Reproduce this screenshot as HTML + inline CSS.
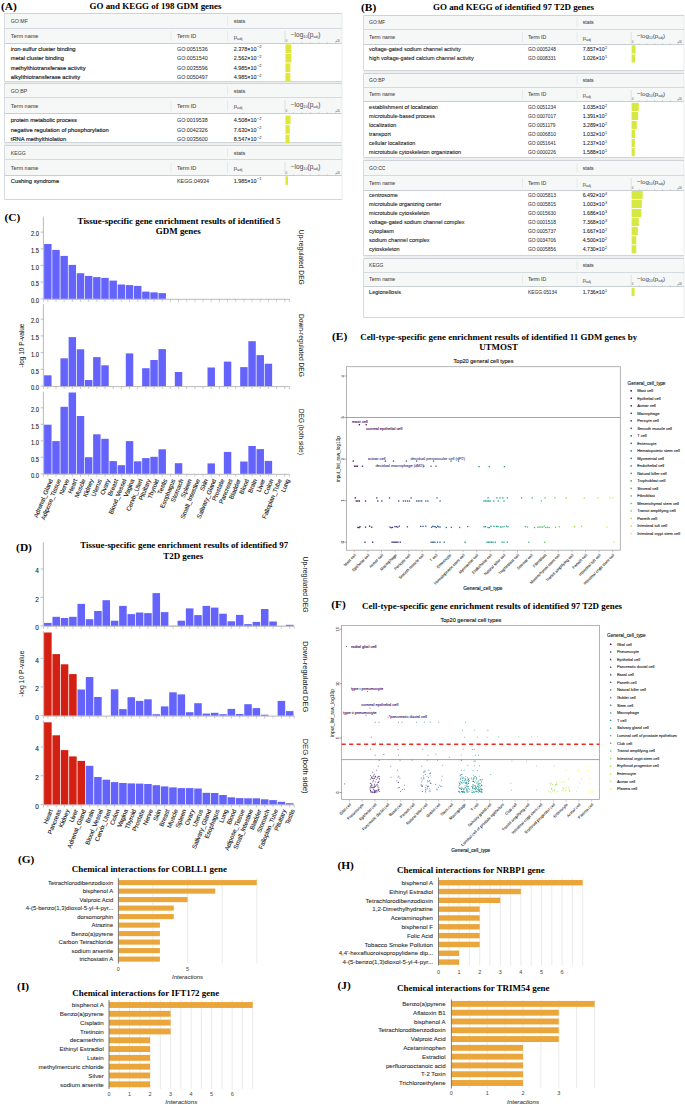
<!DOCTYPE html>
<html><head><meta charset="utf-8"><style>
html,body{margin:0;padding:0;background:#fff;width:685px;height:1106px;overflow:hidden}
svg{display:block}
</style></head><body>
<svg width="685" height="1106" viewBox="0 0 685 1106">
<rect x="0" y="0" width="685" height="1106" fill="#fff"/>
<text x="1.00" y="10.20" font-family='"Liberation Serif", serif' font-size="11.4" font-weight="bold" text-anchor="start" fill="#000"  >(A)</text>
<text x="155.50" y="9.40" font-family='"Liberation Serif", serif' font-size="8.95" font-weight="bold" text-anchor="middle" fill="#000" textLength="132" lengthAdjust="spacingAndGlyphs" >GO and KEGG of 198 GDM genes</text>
<rect x="4.50" y="81.50" width="337.50" height="2.00" fill="#eceef0" />
<rect x="4.50" y="142.30" width="337.50" height="3.00" fill="#eceef0" />
<rect x="4.50" y="13.50" width="337.50" height="68.00" fill="#ffffff" />
<rect x="4.50" y="13.50" width="337.50" height="30.00" fill="#f6f7f7" />
<line x1="4.50" y1="13.50" x2="342.00" y2="13.50" stroke="#ced3d8" stroke-width="1.0" />
<line x1="4.50" y1="28.50" x2="342.00" y2="28.50" stroke="#d5dade" stroke-width="1.0" />
<line x1="4.50" y1="43.50" x2="342.00" y2="43.50" stroke="#c9ced3" stroke-width="1.0" />
<line x1="4.50" y1="81.50" x2="342.00" y2="81.50" stroke="#d0d5da" stroke-width="1.0" />
<line x1="4.50" y1="13.50" x2="4.50" y2="81.50" stroke="#d3d8dd" stroke-width="0.9" />
<line x1="342.00" y1="13.50" x2="342.00" y2="81.50" stroke="#dfe3e6" stroke-width="0.7" />
<line x1="227.50" y1="16.00" x2="227.50" y2="26.00" stroke="#dde1e5" stroke-width="0.6" />
<line x1="171.00" y1="31.00" x2="171.00" y2="41.00" stroke="#dde1e5" stroke-width="0.6" />
<line x1="227.50" y1="31.00" x2="227.50" y2="41.00" stroke="#dde1e5" stroke-width="0.6" />
<line x1="285.00" y1="31.00" x2="285.00" y2="43.50" stroke="#cdd2d7" stroke-width="0.6" />
<text x="10.80" y="23.09" font-family='"Liberation Sans", sans-serif' font-size="5.8" font-weight="normal" text-anchor="start" fill="#474747"  textLength="17.11" lengthAdjust="spacingAndGlyphs" stroke="#474747" stroke-width="0.06" >GO:MF</text>
<text x="233.70" y="23.09" font-family='"Liberation Sans", sans-serif' font-size="5.8" font-weight="normal" text-anchor="start" fill="#474747"  textLength="11.64" lengthAdjust="spacingAndGlyphs" stroke="#474747" stroke-width="0.06" >stats</text>
<text x="10.80" y="38.09" font-family='"Liberation Sans", sans-serif' font-size="5.8" font-weight="normal" text-anchor="start" fill="#474747"  textLength="27.56" lengthAdjust="spacingAndGlyphs" stroke="#474747" stroke-width="0.06" >Term name</text>
<text x="177.00" y="38.09" font-family='"Liberation Sans", sans-serif' font-size="5.8" font-weight="normal" text-anchor="start" fill="#474747"  textLength="19.29" lengthAdjust="spacingAndGlyphs" stroke="#474747" stroke-width="0.06" >Term ID</text>
<text x="233.70" y="38.89" font-family='"Liberation Sans", sans-serif' font-size="5.8" fill="#474747">p<tspan font-size="4.06" dy="0.8">adj</tspan></text>
<text x="290.80" y="37.49" font-family='"Liberation Sans", sans-serif' font-size="6.50" fill="#474747">−log<tspan font-size="3.77" dy="1">10</tspan><tspan dy="-1">(p</tspan><tspan font-size="3.77" dy="1">adj</tspan><tspan dy="-1">)</tspan></text>
<text x="285.80" y="42.20" font-family='"Liberation Sans", sans-serif' font-size="2.6" font-weight="normal" text-anchor="start" fill="#474747"  >0</text>
<text x="335.50" y="42.20" font-family='"Liberation Sans", sans-serif' font-size="2.6" font-weight="normal" text-anchor="start" fill="#474747"  >≤16</text>
<line x1="293.46" y1="42.20" x2="293.46" y2="43.50" stroke="#9aa0a6" stroke-width="0.4" />
<line x1="301.92" y1="42.20" x2="301.92" y2="43.50" stroke="#9aa0a6" stroke-width="0.4" />
<line x1="310.38" y1="42.20" x2="310.38" y2="43.50" stroke="#9aa0a6" stroke-width="0.4" />
<line x1="318.85" y1="42.20" x2="318.85" y2="43.50" stroke="#9aa0a6" stroke-width="0.4" />
<line x1="327.31" y1="42.20" x2="327.31" y2="43.50" stroke="#9aa0a6" stroke-width="0.4" />
<line x1="335.77" y1="42.20" x2="335.77" y2="43.50" stroke="#9aa0a6" stroke-width="0.4" />
<text x="10.80" y="50.69" font-family='"Liberation Sans", sans-serif' font-size="5.8" font-weight="normal" text-anchor="start" fill="#1c1c1c"  textLength="64.80" lengthAdjust="spacingAndGlyphs" stroke="#1c1c1c" stroke-width="0.16" >iron-sulfur cluster binding</text>
<text x="177.00" y="50.69" font-family='"Liberation Sans", sans-serif' font-size="5.8" font-weight="normal" text-anchor="start" fill="#333"  textLength="30.72" lengthAdjust="spacingAndGlyphs" stroke="#333" stroke-width="0.05" >GO:0051536</text>
<text x="233.70" y="50.69" font-family='"Liberation Sans", sans-serif' font-size="5.8" fill="#1c1c1c" stroke="#1c1c1c" stroke-width="0.08" textLength="22.80" lengthAdjust="spacingAndGlyphs">2.378×10</text>
<text x="256.90" y="48.39" font-family='"Liberation Sans", sans-serif' font-size="4.06" fill="#1c1c1c">−2</text>
<rect x="285.40" y="44.28" width="6.00" height="8.65" fill="#dfe83a" />
<text x="10.80" y="60.24" font-family='"Liberation Sans", sans-serif' font-size="5.8" font-weight="normal" text-anchor="start" fill="#1c1c1c"  textLength="53.20" lengthAdjust="spacingAndGlyphs" stroke="#1c1c1c" stroke-width="0.16" >metal cluster binding</text>
<text x="177.00" y="60.24" font-family='"Liberation Sans", sans-serif' font-size="5.8" font-weight="normal" text-anchor="start" fill="#333"  textLength="30.72" lengthAdjust="spacingAndGlyphs" stroke="#333" stroke-width="0.05" >GO:0051540</text>
<text x="233.70" y="60.24" font-family='"Liberation Sans", sans-serif' font-size="5.8" fill="#1c1c1c" stroke="#1c1c1c" stroke-width="0.08" textLength="22.80" lengthAdjust="spacingAndGlyphs">2.562×10</text>
<text x="256.90" y="57.94" font-family='"Liberation Sans", sans-serif' font-size="4.06" fill="#1c1c1c">−2</text>
<rect x="285.40" y="53.83" width="6.00" height="8.65" fill="#dfe83a" />
<text x="10.80" y="69.79" font-family='"Liberation Sans", sans-serif' font-size="5.8" font-weight="normal" text-anchor="start" fill="#1c1c1c"  textLength="74.79" lengthAdjust="spacingAndGlyphs" stroke="#1c1c1c" stroke-width="0.16" >methylthiotransferase activity</text>
<text x="177.00" y="69.79" font-family='"Liberation Sans", sans-serif' font-size="5.8" font-weight="normal" text-anchor="start" fill="#333"  textLength="30.72" lengthAdjust="spacingAndGlyphs" stroke="#333" stroke-width="0.05" >GO:0035596</text>
<text x="233.70" y="69.79" font-family='"Liberation Sans", sans-serif' font-size="5.8" fill="#1c1c1c" stroke="#1c1c1c" stroke-width="0.08" textLength="22.80" lengthAdjust="spacingAndGlyphs">4.985×10</text>
<text x="256.90" y="67.49" font-family='"Liberation Sans", sans-serif' font-size="4.06" fill="#1c1c1c">−2</text>
<rect x="285.40" y="63.38" width="5.00" height="8.65" fill="#dfe83a" />
<text x="10.80" y="79.34" font-family='"Liberation Sans", sans-serif' font-size="5.8" font-weight="normal" text-anchor="start" fill="#1c1c1c"  textLength="69.31" lengthAdjust="spacingAndGlyphs" stroke="#1c1c1c" stroke-width="0.16" >alkylthiotransferase activity</text>
<text x="177.00" y="79.34" font-family='"Liberation Sans", sans-serif' font-size="5.8" font-weight="normal" text-anchor="start" fill="#333"  textLength="30.72" lengthAdjust="spacingAndGlyphs" stroke="#333" stroke-width="0.05" >GO:0050497</text>
<text x="233.70" y="79.34" font-family='"Liberation Sans", sans-serif' font-size="5.8" fill="#1c1c1c" stroke="#1c1c1c" stroke-width="0.08" textLength="22.80" lengthAdjust="spacingAndGlyphs">4.985×10</text>
<text x="256.90" y="77.04" font-family='"Liberation Sans", sans-serif' font-size="4.06" fill="#1c1c1c">−2</text>
<rect x="285.40" y="72.92" width="5.00" height="8.65" fill="#dfe83a" />
<rect x="4.50" y="83.50" width="337.50" height="59.00" fill="#ffffff" />
<rect x="4.50" y="83.50" width="337.50" height="30.00" fill="#f6f7f7" />
<line x1="4.50" y1="83.50" x2="342.00" y2="83.50" stroke="#ced3d8" stroke-width="1.0" />
<line x1="4.50" y1="97.50" x2="342.00" y2="97.50" stroke="#d5dade" stroke-width="1.0" />
<line x1="4.50" y1="113.50" x2="342.00" y2="113.50" stroke="#c9ced3" stroke-width="1.0" />
<line x1="4.50" y1="142.50" x2="342.00" y2="142.50" stroke="#d0d5da" stroke-width="1.0" />
<line x1="4.50" y1="83.50" x2="4.50" y2="142.50" stroke="#d3d8dd" stroke-width="0.9" />
<line x1="342.00" y1="83.50" x2="342.00" y2="142.50" stroke="#dfe3e6" stroke-width="0.7" />
<line x1="227.50" y1="86.00" x2="227.50" y2="95.00" stroke="#dde1e5" stroke-width="0.6" />
<line x1="171.00" y1="100.00" x2="171.00" y2="111.00" stroke="#dde1e5" stroke-width="0.6" />
<line x1="227.50" y1="100.00" x2="227.50" y2="111.00" stroke="#dde1e5" stroke-width="0.6" />
<line x1="285.00" y1="100.00" x2="285.00" y2="113.50" stroke="#cdd2d7" stroke-width="0.6" />
<text x="10.80" y="92.59" font-family='"Liberation Sans", sans-serif' font-size="5.8" font-weight="normal" text-anchor="start" fill="#474747"  textLength="16.53" lengthAdjust="spacingAndGlyphs" stroke="#474747" stroke-width="0.06" >GO:BP</text>
<text x="233.70" y="92.59" font-family='"Liberation Sans", sans-serif' font-size="5.8" font-weight="normal" text-anchor="start" fill="#474747"  textLength="11.64" lengthAdjust="spacingAndGlyphs" stroke="#474747" stroke-width="0.06" >stats</text>
<text x="10.80" y="107.59" font-family='"Liberation Sans", sans-serif' font-size="5.8" font-weight="normal" text-anchor="start" fill="#474747"  textLength="27.56" lengthAdjust="spacingAndGlyphs" stroke="#474747" stroke-width="0.06" >Term name</text>
<text x="177.00" y="107.59" font-family='"Liberation Sans", sans-serif' font-size="5.8" font-weight="normal" text-anchor="start" fill="#474747"  textLength="19.29" lengthAdjust="spacingAndGlyphs" stroke="#474747" stroke-width="0.06" >Term ID</text>
<text x="233.70" y="108.39" font-family='"Liberation Sans", sans-serif' font-size="5.8" fill="#474747">p<tspan font-size="4.06" dy="0.8">adj</tspan></text>
<text x="290.80" y="106.99" font-family='"Liberation Sans", sans-serif' font-size="6.50" fill="#474747">−log<tspan font-size="3.77" dy="1">10</tspan><tspan dy="-1">(p</tspan><tspan font-size="3.77" dy="1">adj</tspan><tspan dy="-1">)</tspan></text>
<text x="285.80" y="112.20" font-family='"Liberation Sans", sans-serif' font-size="2.6" font-weight="normal" text-anchor="start" fill="#474747"  >0</text>
<text x="335.50" y="112.20" font-family='"Liberation Sans", sans-serif' font-size="2.6" font-weight="normal" text-anchor="start" fill="#474747"  >≤16</text>
<line x1="293.46" y1="112.20" x2="293.46" y2="113.50" stroke="#9aa0a6" stroke-width="0.4" />
<line x1="301.92" y1="112.20" x2="301.92" y2="113.50" stroke="#9aa0a6" stroke-width="0.4" />
<line x1="310.38" y1="112.20" x2="310.38" y2="113.50" stroke="#9aa0a6" stroke-width="0.4" />
<line x1="318.85" y1="112.20" x2="318.85" y2="113.50" stroke="#9aa0a6" stroke-width="0.4" />
<line x1="327.31" y1="112.20" x2="327.31" y2="113.50" stroke="#9aa0a6" stroke-width="0.4" />
<line x1="335.77" y1="112.20" x2="335.77" y2="113.50" stroke="#9aa0a6" stroke-width="0.4" />
<text x="10.80" y="121.99" font-family='"Liberation Sans", sans-serif' font-size="5.8" font-weight="normal" text-anchor="start" fill="#1c1c1c"  textLength="66.09" lengthAdjust="spacingAndGlyphs" stroke="#1c1c1c" stroke-width="0.16" >protein metabolic process</text>
<text x="177.00" y="121.99" font-family='"Liberation Sans", sans-serif' font-size="5.8" font-weight="normal" text-anchor="start" fill="#333"  textLength="30.72" lengthAdjust="spacingAndGlyphs" stroke="#333" stroke-width="0.05" >GO:0019538</text>
<text x="233.70" y="121.99" font-family='"Liberation Sans", sans-serif' font-size="5.8" fill="#1c1c1c" stroke="#1c1c1c" stroke-width="0.08" textLength="22.80" lengthAdjust="spacingAndGlyphs">4.508×10</text>
<text x="256.90" y="119.69" font-family='"Liberation Sans", sans-serif' font-size="4.06" fill="#1c1c1c">−2</text>
<rect x="285.40" y="115.58" width="5.20" height="8.65" fill="#dfe83a" />
<text x="10.80" y="131.54" font-family='"Liberation Sans", sans-serif' font-size="5.8" font-weight="normal" text-anchor="start" fill="#1c1c1c"  textLength="98.03" lengthAdjust="spacingAndGlyphs" stroke="#1c1c1c" stroke-width="0.16" >negative regulation of phosphorylation</text>
<text x="177.00" y="131.54" font-family='"Liberation Sans", sans-serif' font-size="5.8" font-weight="normal" text-anchor="start" fill="#333"  textLength="30.72" lengthAdjust="spacingAndGlyphs" stroke="#333" stroke-width="0.05" >GO:0042326</text>
<text x="233.70" y="131.54" font-family='"Liberation Sans", sans-serif' font-size="5.8" fill="#1c1c1c" stroke="#1c1c1c" stroke-width="0.08" textLength="22.80" lengthAdjust="spacingAndGlyphs">7.630×10</text>
<text x="256.90" y="129.24" font-family='"Liberation Sans", sans-serif' font-size="4.06" fill="#1c1c1c">−2</text>
<rect x="285.40" y="125.13" width="4.40" height="8.65" fill="#dfe83a" />
<text x="10.80" y="141.09" font-family='"Liberation Sans", sans-serif' font-size="5.8" font-weight="normal" text-anchor="start" fill="#1c1c1c"  textLength="55.45" lengthAdjust="spacingAndGlyphs" stroke="#1c1c1c" stroke-width="0.16" >tRNA methylthiolation</text>
<text x="177.00" y="141.09" font-family='"Liberation Sans", sans-serif' font-size="5.8" font-weight="normal" text-anchor="start" fill="#333"  textLength="30.72" lengthAdjust="spacingAndGlyphs" stroke="#333" stroke-width="0.05" >GO:0035600</text>
<text x="233.70" y="141.09" font-family='"Liberation Sans", sans-serif' font-size="5.8" fill="#1c1c1c" stroke="#1c1c1c" stroke-width="0.08" textLength="22.80" lengthAdjust="spacingAndGlyphs">8.547×10</text>
<text x="256.90" y="138.79" font-family='"Liberation Sans", sans-serif' font-size="4.06" fill="#1c1c1c">−2</text>
<rect x="285.40" y="134.67" width="4.20" height="8.65" fill="#dfe83a" />
<rect x="4.50" y="145.50" width="337.50" height="54.00" fill="#ffffff" />
<rect x="4.50" y="145.50" width="337.50" height="30.00" fill="#f6f7f7" />
<line x1="4.50" y1="145.50" x2="342.00" y2="145.50" stroke="#ced3d8" stroke-width="1.0" />
<line x1="4.50" y1="159.50" x2="342.00" y2="159.50" stroke="#d5dade" stroke-width="1.0" />
<line x1="4.50" y1="175.50" x2="342.00" y2="175.50" stroke="#c9ced3" stroke-width="1.0" />
<line x1="4.50" y1="199.50" x2="342.00" y2="199.50" stroke="#d0d5da" stroke-width="1.0" />
<line x1="4.50" y1="145.50" x2="4.50" y2="199.50" stroke="#d3d8dd" stroke-width="0.9" />
<line x1="342.00" y1="145.50" x2="342.00" y2="199.50" stroke="#dfe3e6" stroke-width="0.7" />
<line x1="227.50" y1="148.00" x2="227.50" y2="157.00" stroke="#dde1e5" stroke-width="0.6" />
<line x1="171.00" y1="162.00" x2="171.00" y2="173.00" stroke="#dde1e5" stroke-width="0.6" />
<line x1="227.50" y1="162.00" x2="227.50" y2="173.00" stroke="#dde1e5" stroke-width="0.6" />
<line x1="285.00" y1="162.00" x2="285.00" y2="175.50" stroke="#cdd2d7" stroke-width="0.6" />
<text x="10.80" y="154.59" font-family='"Liberation Sans", sans-serif' font-size="5.8" font-weight="normal" text-anchor="start" fill="#474747"  textLength="15.08" lengthAdjust="spacingAndGlyphs" stroke="#474747" stroke-width="0.06" >KEGG</text>
<text x="233.70" y="154.59" font-family='"Liberation Sans", sans-serif' font-size="5.8" font-weight="normal" text-anchor="start" fill="#474747"  textLength="11.64" lengthAdjust="spacingAndGlyphs" stroke="#474747" stroke-width="0.06" >stats</text>
<text x="10.80" y="169.59" font-family='"Liberation Sans", sans-serif' font-size="5.8" font-weight="normal" text-anchor="start" fill="#474747"  textLength="27.56" lengthAdjust="spacingAndGlyphs" stroke="#474747" stroke-width="0.06" >Term name</text>
<text x="177.00" y="169.59" font-family='"Liberation Sans", sans-serif' font-size="5.8" font-weight="normal" text-anchor="start" fill="#474747"  textLength="19.29" lengthAdjust="spacingAndGlyphs" stroke="#474747" stroke-width="0.06" >Term ID</text>
<text x="233.70" y="170.39" font-family='"Liberation Sans", sans-serif' font-size="5.8" fill="#474747">p<tspan font-size="4.06" dy="0.8">adj</tspan></text>
<text x="290.80" y="168.99" font-family='"Liberation Sans", sans-serif' font-size="6.50" fill="#474747">−log<tspan font-size="3.77" dy="1">10</tspan><tspan dy="-1">(p</tspan><tspan font-size="3.77" dy="1">adj</tspan><tspan dy="-1">)</tspan></text>
<text x="285.80" y="174.20" font-family='"Liberation Sans", sans-serif' font-size="2.6" font-weight="normal" text-anchor="start" fill="#474747"  >0</text>
<text x="335.50" y="174.20" font-family='"Liberation Sans", sans-serif' font-size="2.6" font-weight="normal" text-anchor="start" fill="#474747"  >≤16</text>
<line x1="293.46" y1="174.20" x2="293.46" y2="175.50" stroke="#9aa0a6" stroke-width="0.4" />
<line x1="301.92" y1="174.20" x2="301.92" y2="175.50" stroke="#9aa0a6" stroke-width="0.4" />
<line x1="310.38" y1="174.20" x2="310.38" y2="175.50" stroke="#9aa0a6" stroke-width="0.4" />
<line x1="318.85" y1="174.20" x2="318.85" y2="175.50" stroke="#9aa0a6" stroke-width="0.4" />
<line x1="327.31" y1="174.20" x2="327.31" y2="175.50" stroke="#9aa0a6" stroke-width="0.4" />
<line x1="335.77" y1="174.20" x2="335.77" y2="175.50" stroke="#9aa0a6" stroke-width="0.4" />
<text x="10.80" y="182.69" font-family='"Liberation Sans", sans-serif' font-size="5.8" font-weight="normal" text-anchor="start" fill="#1c1c1c"  textLength="48.36" lengthAdjust="spacingAndGlyphs" stroke="#1c1c1c" stroke-width="0.16" >Cushing syndrome</text>
<text x="177.00" y="182.69" font-family='"Liberation Sans", sans-serif' font-size="5.8" font-weight="normal" text-anchor="start" fill="#333"  textLength="31.91" lengthAdjust="spacingAndGlyphs" stroke="#333" stroke-width="0.05" >KEGG:04934</text>
<text x="233.70" y="182.69" font-family='"Liberation Sans", sans-serif' font-size="5.8" fill="#1c1c1c" stroke="#1c1c1c" stroke-width="0.08" textLength="22.80" lengthAdjust="spacingAndGlyphs">1.985×10</text>
<text x="256.90" y="180.39" font-family='"Liberation Sans", sans-serif' font-size="4.06" fill="#1c1c1c">−1</text>
<rect x="285.40" y="176.27" width="2.60" height="8.65" fill="#dfe83a" />
<text x="361.00" y="10.60" font-family='"Liberation Serif", serif' font-size="11.4" font-weight="bold" text-anchor="start" fill="#000"  >(B)</text>
<text x="513.50" y="9.80" font-family='"Liberation Serif", serif' font-size="8.95" font-weight="bold" text-anchor="middle" fill="#000" textLength="161" lengthAdjust="spacingAndGlyphs" >GO and KEGG of identified 97 T2D genes</text>
<rect x="363.50" y="70.70" width="320.50" height="2.30" fill="#eceef0" />
<rect x="363.50" y="157.00" width="320.50" height="3.90" fill="#eceef0" />
<rect x="363.50" y="255.70" width="320.50" height="2.30" fill="#eceef0" />
<rect x="363.50" y="15.50" width="320.50" height="55.00" fill="#ffffff" />
<rect x="363.50" y="15.50" width="320.50" height="29.00" fill="#f6f7f7" />
<line x1="363.50" y1="15.50" x2="684.00" y2="15.50" stroke="#ced3d8" stroke-width="1.0" />
<line x1="363.50" y1="29.50" x2="684.00" y2="29.50" stroke="#d5dade" stroke-width="1.0" />
<line x1="363.50" y1="44.50" x2="684.00" y2="44.50" stroke="#c9ced3" stroke-width="1.0" />
<line x1="363.50" y1="70.50" x2="684.00" y2="70.50" stroke="#d0d5da" stroke-width="1.0" />
<line x1="363.50" y1="15.50" x2="363.50" y2="70.50" stroke="#d3d8dd" stroke-width="0.9" />
<line x1="684.00" y1="15.50" x2="684.00" y2="70.50" stroke="#dfe3e6" stroke-width="0.7" />
<line x1="577.00" y1="18.00" x2="577.00" y2="27.00" stroke="#dde1e5" stroke-width="0.6" />
<line x1="522.50" y1="32.00" x2="522.50" y2="42.00" stroke="#dde1e5" stroke-width="0.6" />
<line x1="577.00" y1="32.00" x2="577.00" y2="42.00" stroke="#dde1e5" stroke-width="0.6" />
<line x1="631.20" y1="32.00" x2="631.20" y2="44.50" stroke="#cdd2d7" stroke-width="0.6" />
<text x="369.10" y="24.48" font-family='"Liberation Sans", sans-serif' font-size="5.5" font-weight="normal" text-anchor="start" fill="#474747"  textLength="16.22" lengthAdjust="spacingAndGlyphs" stroke="#474747" stroke-width="0.06" >GO:MF</text>
<text x="582.70" y="24.48" font-family='"Liberation Sans", sans-serif' font-size="5.5" font-weight="normal" text-anchor="start" fill="#474747"  textLength="11.03" lengthAdjust="spacingAndGlyphs" stroke="#474747" stroke-width="0.06" >stats</text>
<text x="369.10" y="38.98" font-family='"Liberation Sans", sans-serif' font-size="5.5" font-weight="normal" text-anchor="start" fill="#474747"  textLength="26.13" lengthAdjust="spacingAndGlyphs" stroke="#474747" stroke-width="0.06" >Term name</text>
<text x="528.00" y="38.98" font-family='"Liberation Sans", sans-serif' font-size="5.5" font-weight="normal" text-anchor="start" fill="#474747"  textLength="18.29" lengthAdjust="spacingAndGlyphs" stroke="#474747" stroke-width="0.06" >Term ID</text>
<text x="582.70" y="39.78" font-family='"Liberation Sans", sans-serif' font-size="5.5" fill="#474747">p<tspan font-size="3.85" dy="0.8">adj</tspan></text>
<text x="637.00" y="38.38" font-family='"Liberation Sans", sans-serif' font-size="6.16" fill="#474747">−log<tspan font-size="3.58" dy="1">10</tspan><tspan dy="-1">(p</tspan><tspan font-size="3.58" dy="1">adj</tspan><tspan dy="-1">)</tspan></text>
<text x="632.00" y="43.20" font-family='"Liberation Sans", sans-serif' font-size="2.6" font-weight="normal" text-anchor="start" fill="#474747"  >0</text>
<text x="677.50" y="43.20" font-family='"Liberation Sans", sans-serif' font-size="2.6" font-weight="normal" text-anchor="start" fill="#474747"  >≤16</text>
<line x1="639.02" y1="43.20" x2="639.02" y2="44.50" stroke="#9aa0a6" stroke-width="0.4" />
<line x1="646.83" y1="43.20" x2="646.83" y2="44.50" stroke="#9aa0a6" stroke-width="0.4" />
<line x1="654.65" y1="43.20" x2="654.65" y2="44.50" stroke="#9aa0a6" stroke-width="0.4" />
<line x1="662.46" y1="43.20" x2="662.46" y2="44.50" stroke="#9aa0a6" stroke-width="0.4" />
<line x1="670.28" y1="43.20" x2="670.28" y2="44.50" stroke="#9aa0a6" stroke-width="0.4" />
<line x1="678.09" y1="43.20" x2="678.09" y2="44.50" stroke="#9aa0a6" stroke-width="0.4" />
<text x="369.10" y="51.38" font-family='"Liberation Sans", sans-serif' font-size="5.5" font-weight="normal" text-anchor="start" fill="#1c1c1c"  textLength="91.72" lengthAdjust="spacingAndGlyphs" stroke="#1c1c1c" stroke-width="0.1" >voltage-gated sodium channel activity</text>
<text x="528.00" y="51.38" font-family='"Liberation Sans", sans-serif' font-size="5.5" font-weight="normal" text-anchor="start" fill="#333"  textLength="27.91" lengthAdjust="spacingAndGlyphs" stroke="#333" stroke-width="0.05" >GO:0005248</text>
<text x="582.70" y="51.38" font-family='"Liberation Sans", sans-serif' font-size="5.5" fill="#1c1c1c" stroke="#1c1c1c" stroke-width="0.08" textLength="21.90" lengthAdjust="spacingAndGlyphs">7.857×10</text>
<text x="605.00" y="49.08" font-family='"Liberation Sans", sans-serif' font-size="3.85" fill="#1c1c1c">2</text>
<rect x="631.60" y="45.33" width="4.00" height="8.15" fill="#d6e844" />
<text x="369.10" y="60.43" font-family='"Liberation Sans", sans-serif' font-size="5.5" font-weight="normal" text-anchor="start" fill="#1c1c1c"  textLength="104.56" lengthAdjust="spacingAndGlyphs" stroke="#1c1c1c" stroke-width="0.1" >high voltage-gated calcium channel activity</text>
<text x="528.00" y="60.43" font-family='"Liberation Sans", sans-serif' font-size="5.5" font-weight="normal" text-anchor="start" fill="#333"  textLength="27.91" lengthAdjust="spacingAndGlyphs" stroke="#333" stroke-width="0.05" >GO:0008331</text>
<text x="582.70" y="60.43" font-family='"Liberation Sans", sans-serif' font-size="5.5" fill="#1c1c1c" stroke="#1c1c1c" stroke-width="0.08" textLength="21.90" lengthAdjust="spacingAndGlyphs">1.026×10</text>
<text x="605.00" y="58.13" font-family='"Liberation Sans", sans-serif' font-size="3.85" fill="#1c1c1c">1</text>
<rect x="631.60" y="54.38" width="3.60" height="8.15" fill="#d6e844" />
<rect x="363.50" y="73.50" width="320.50" height="84.00" fill="#ffffff" />
<rect x="363.50" y="73.50" width="320.50" height="28.00" fill="#f6f7f7" />
<line x1="363.50" y1="73.50" x2="684.00" y2="73.50" stroke="#ced3d8" stroke-width="1.0" />
<line x1="363.50" y1="87.50" x2="684.00" y2="87.50" stroke="#d5dade" stroke-width="1.0" />
<line x1="363.50" y1="101.50" x2="684.00" y2="101.50" stroke="#c9ced3" stroke-width="1.0" />
<line x1="363.50" y1="157.50" x2="684.00" y2="157.50" stroke="#d0d5da" stroke-width="1.0" />
<line x1="363.50" y1="73.50" x2="363.50" y2="157.50" stroke="#d3d8dd" stroke-width="0.9" />
<line x1="684.00" y1="73.50" x2="684.00" y2="157.50" stroke="#dfe3e6" stroke-width="0.7" />
<line x1="577.00" y1="76.00" x2="577.00" y2="85.00" stroke="#dde1e5" stroke-width="0.6" />
<line x1="522.50" y1="90.00" x2="522.50" y2="99.00" stroke="#dde1e5" stroke-width="0.6" />
<line x1="577.00" y1="90.00" x2="577.00" y2="99.00" stroke="#dde1e5" stroke-width="0.6" />
<line x1="631.20" y1="90.00" x2="631.20" y2="101.50" stroke="#cdd2d7" stroke-width="0.6" />
<text x="369.10" y="82.48" font-family='"Liberation Sans", sans-serif' font-size="5.5" font-weight="normal" text-anchor="start" fill="#474747"  textLength="15.68" lengthAdjust="spacingAndGlyphs" stroke="#474747" stroke-width="0.06" >GO:BP</text>
<text x="582.70" y="82.48" font-family='"Liberation Sans", sans-serif' font-size="5.5" font-weight="normal" text-anchor="start" fill="#474747"  textLength="11.03" lengthAdjust="spacingAndGlyphs" stroke="#474747" stroke-width="0.06" >stats</text>
<text x="369.10" y="96.48" font-family='"Liberation Sans", sans-serif' font-size="5.5" font-weight="normal" text-anchor="start" fill="#474747"  textLength="26.13" lengthAdjust="spacingAndGlyphs" stroke="#474747" stroke-width="0.06" >Term name</text>
<text x="528.00" y="96.48" font-family='"Liberation Sans", sans-serif' font-size="5.5" font-weight="normal" text-anchor="start" fill="#474747"  textLength="18.29" lengthAdjust="spacingAndGlyphs" stroke="#474747" stroke-width="0.06" >Term ID</text>
<text x="582.70" y="97.28" font-family='"Liberation Sans", sans-serif' font-size="5.5" fill="#474747">p<tspan font-size="3.85" dy="0.8">adj</tspan></text>
<text x="637.00" y="95.88" font-family='"Liberation Sans", sans-serif' font-size="6.16" fill="#474747">−log<tspan font-size="3.58" dy="1">10</tspan><tspan dy="-1">(p</tspan><tspan font-size="3.58" dy="1">adj</tspan><tspan dy="-1">)</tspan></text>
<text x="632.00" y="100.20" font-family='"Liberation Sans", sans-serif' font-size="2.6" font-weight="normal" text-anchor="start" fill="#474747"  >0</text>
<text x="677.50" y="100.20" font-family='"Liberation Sans", sans-serif' font-size="2.6" font-weight="normal" text-anchor="start" fill="#474747"  >≤16</text>
<line x1="639.02" y1="100.20" x2="639.02" y2="101.50" stroke="#9aa0a6" stroke-width="0.4" />
<line x1="646.83" y1="100.20" x2="646.83" y2="101.50" stroke="#9aa0a6" stroke-width="0.4" />
<line x1="654.65" y1="100.20" x2="654.65" y2="101.50" stroke="#9aa0a6" stroke-width="0.4" />
<line x1="662.46" y1="100.20" x2="662.46" y2="101.50" stroke="#9aa0a6" stroke-width="0.4" />
<line x1="670.28" y1="100.20" x2="670.28" y2="101.50" stroke="#9aa0a6" stroke-width="0.4" />
<line x1="678.09" y1="100.20" x2="678.09" y2="101.50" stroke="#9aa0a6" stroke-width="0.4" />
<text x="369.10" y="108.88" font-family='"Liberation Sans", sans-serif' font-size="5.5" font-weight="normal" text-anchor="start" fill="#1c1c1c"  textLength="68.79" lengthAdjust="spacingAndGlyphs" stroke="#1c1c1c" stroke-width="0.1" >establishment of localization</text>
<text x="528.00" y="108.88" font-family='"Liberation Sans", sans-serif' font-size="5.5" font-weight="normal" text-anchor="start" fill="#333"  textLength="27.91" lengthAdjust="spacingAndGlyphs" stroke="#333" stroke-width="0.05" >GO:0051234</text>
<text x="582.70" y="108.88" font-family='"Liberation Sans", sans-serif' font-size="5.5" fill="#1c1c1c" stroke="#1c1c1c" stroke-width="0.08" textLength="21.90" lengthAdjust="spacingAndGlyphs">1.035×10</text>
<text x="605.00" y="106.58" font-family='"Liberation Sans", sans-serif' font-size="3.85" fill="#1c1c1c">2</text>
<rect x="631.60" y="102.83" width="7.20" height="8.15" fill="#d6e844" />
<text x="369.10" y="117.93" font-family='"Liberation Sans", sans-serif' font-size="5.5" font-weight="normal" text-anchor="start" fill="#1c1c1c"  textLength="66.03" lengthAdjust="spacingAndGlyphs" stroke="#1c1c1c" stroke-width="0.1" >microtubule-based process</text>
<text x="528.00" y="117.93" font-family='"Liberation Sans", sans-serif' font-size="5.5" font-weight="normal" text-anchor="start" fill="#333"  textLength="27.91" lengthAdjust="spacingAndGlyphs" stroke="#333" stroke-width="0.05" >GO:0007017</text>
<text x="582.70" y="117.93" font-family='"Liberation Sans", sans-serif' font-size="5.5" fill="#1c1c1c" stroke="#1c1c1c" stroke-width="0.08" textLength="21.90" lengthAdjust="spacingAndGlyphs">1.391×10</text>
<text x="605.00" y="115.63" font-family='"Liberation Sans", sans-serif' font-size="3.85" fill="#1c1c1c">2</text>
<rect x="631.60" y="111.88" width="6.50" height="8.15" fill="#d6e844" />
<text x="369.10" y="126.98" font-family='"Liberation Sans", sans-serif' font-size="5.5" font-weight="normal" text-anchor="start" fill="#1c1c1c"  textLength="27.21" lengthAdjust="spacingAndGlyphs" stroke="#1c1c1c" stroke-width="0.1" >localization</text>
<text x="528.00" y="126.98" font-family='"Liberation Sans", sans-serif' font-size="5.5" font-weight="normal" text-anchor="start" fill="#333"  textLength="27.54" lengthAdjust="spacingAndGlyphs" stroke="#333" stroke-width="0.05" >GO:0051179</text>
<text x="582.70" y="126.98" font-family='"Liberation Sans", sans-serif' font-size="5.5" fill="#1c1c1c" stroke="#1c1c1c" stroke-width="0.08" textLength="21.90" lengthAdjust="spacingAndGlyphs">3.289×10</text>
<text x="605.00" y="124.68" font-family='"Liberation Sans", sans-serif' font-size="3.85" fill="#1c1c1c">2</text>
<rect x="631.60" y="120.92" width="5.20" height="8.15" fill="#d6e844" />
<text x="369.10" y="136.03" font-family='"Liberation Sans", sans-serif' font-size="5.5" font-weight="normal" text-anchor="start" fill="#1c1c1c"  textLength="21.71" lengthAdjust="spacingAndGlyphs" stroke="#1c1c1c" stroke-width="0.1" >transport</text>
<text x="528.00" y="136.03" font-family='"Liberation Sans", sans-serif' font-size="5.5" font-weight="normal" text-anchor="start" fill="#333"  textLength="27.91" lengthAdjust="spacingAndGlyphs" stroke="#333" stroke-width="0.05" >GO:0006810</text>
<text x="582.70" y="136.03" font-family='"Liberation Sans", sans-serif' font-size="5.5" fill="#1c1c1c" stroke="#1c1c1c" stroke-width="0.08" textLength="21.90" lengthAdjust="spacingAndGlyphs">1.032×10</text>
<text x="605.00" y="133.73" font-family='"Liberation Sans", sans-serif' font-size="3.85" fill="#1c1c1c">1</text>
<rect x="631.60" y="129.97" width="3.40" height="8.15" fill="#d6e844" />
<text x="369.10" y="145.08" font-family='"Liberation Sans", sans-serif' font-size="5.5" font-weight="normal" text-anchor="start" fill="#1c1c1c"  textLength="46.16" lengthAdjust="spacingAndGlyphs" stroke="#1c1c1c" stroke-width="0.1" >cellular localization</text>
<text x="528.00" y="145.08" font-family='"Liberation Sans", sans-serif' font-size="5.5" font-weight="normal" text-anchor="start" fill="#333"  textLength="27.91" lengthAdjust="spacingAndGlyphs" stroke="#333" stroke-width="0.05" >GO:0051641</text>
<text x="582.70" y="145.08" font-family='"Liberation Sans", sans-serif' font-size="5.5" fill="#1c1c1c" stroke="#1c1c1c" stroke-width="0.08" textLength="21.90" lengthAdjust="spacingAndGlyphs">1.237×10</text>
<text x="605.00" y="142.78" font-family='"Liberation Sans", sans-serif' font-size="3.85" fill="#1c1c1c">1</text>
<rect x="631.60" y="139.03" width="3.30" height="8.15" fill="#d6e844" />
<text x="369.10" y="154.13" font-family='"Liberation Sans", sans-serif' font-size="5.5" font-weight="normal" text-anchor="start" fill="#1c1c1c"  textLength="92.03" lengthAdjust="spacingAndGlyphs" stroke="#1c1c1c" stroke-width="0.1" >microtubule cytoskeleton organization</text>
<text x="528.00" y="154.13" font-family='"Liberation Sans", sans-serif' font-size="5.5" font-weight="normal" text-anchor="start" fill="#333"  textLength="27.91" lengthAdjust="spacingAndGlyphs" stroke="#333" stroke-width="0.05" >GO:0000226</text>
<text x="582.70" y="154.13" font-family='"Liberation Sans", sans-serif' font-size="5.5" fill="#1c1c1c" stroke="#1c1c1c" stroke-width="0.08" textLength="21.90" lengthAdjust="spacingAndGlyphs">1.588×10</text>
<text x="605.00" y="151.83" font-family='"Liberation Sans", sans-serif' font-size="3.85" fill="#1c1c1c">1</text>
<rect x="631.60" y="148.07" width="3.20" height="8.15" fill="#d6e844" />
<rect x="363.50" y="160.50" width="320.50" height="95.00" fill="#ffffff" />
<rect x="363.50" y="160.50" width="320.50" height="30.00" fill="#f6f7f7" />
<line x1="363.50" y1="160.50" x2="684.00" y2="160.50" stroke="#ced3d8" stroke-width="1.0" />
<line x1="363.50" y1="175.50" x2="684.00" y2="175.50" stroke="#d5dade" stroke-width="1.0" />
<line x1="363.50" y1="190.50" x2="684.00" y2="190.50" stroke="#c9ced3" stroke-width="1.0" />
<line x1="363.50" y1="255.50" x2="684.00" y2="255.50" stroke="#d0d5da" stroke-width="1.0" />
<line x1="363.50" y1="160.50" x2="363.50" y2="255.50" stroke="#d3d8dd" stroke-width="0.9" />
<line x1="684.00" y1="160.50" x2="684.00" y2="255.50" stroke="#dfe3e6" stroke-width="0.7" />
<line x1="577.00" y1="163.00" x2="577.00" y2="173.00" stroke="#dde1e5" stroke-width="0.6" />
<line x1="522.50" y1="178.00" x2="522.50" y2="188.00" stroke="#dde1e5" stroke-width="0.6" />
<line x1="577.00" y1="178.00" x2="577.00" y2="188.00" stroke="#dde1e5" stroke-width="0.6" />
<line x1="631.20" y1="178.00" x2="631.20" y2="190.50" stroke="#cdd2d7" stroke-width="0.6" />
<text x="369.10" y="169.98" font-family='"Liberation Sans", sans-serif' font-size="5.5" font-weight="normal" text-anchor="start" fill="#474747"  textLength="16.23" lengthAdjust="spacingAndGlyphs" stroke="#474747" stroke-width="0.06" >GO:CC</text>
<text x="582.70" y="169.98" font-family='"Liberation Sans", sans-serif' font-size="5.5" font-weight="normal" text-anchor="start" fill="#474747"  textLength="11.03" lengthAdjust="spacingAndGlyphs" stroke="#474747" stroke-width="0.06" >stats</text>
<text x="369.10" y="184.98" font-family='"Liberation Sans", sans-serif' font-size="5.5" font-weight="normal" text-anchor="start" fill="#474747"  textLength="26.13" lengthAdjust="spacingAndGlyphs" stroke="#474747" stroke-width="0.06" >Term name</text>
<text x="528.00" y="184.98" font-family='"Liberation Sans", sans-serif' font-size="5.5" font-weight="normal" text-anchor="start" fill="#474747"  textLength="18.29" lengthAdjust="spacingAndGlyphs" stroke="#474747" stroke-width="0.06" >Term ID</text>
<text x="582.70" y="185.78" font-family='"Liberation Sans", sans-serif' font-size="5.5" fill="#474747">p<tspan font-size="3.85" dy="0.8">adj</tspan></text>
<text x="637.00" y="184.38" font-family='"Liberation Sans", sans-serif' font-size="6.16" fill="#474747">−log<tspan font-size="3.58" dy="1">10</tspan><tspan dy="-1">(p</tspan><tspan font-size="3.58" dy="1">adj</tspan><tspan dy="-1">)</tspan></text>
<text x="632.00" y="189.20" font-family='"Liberation Sans", sans-serif' font-size="2.6" font-weight="normal" text-anchor="start" fill="#474747"  >0</text>
<text x="677.50" y="189.20" font-family='"Liberation Sans", sans-serif' font-size="2.6" font-weight="normal" text-anchor="start" fill="#474747"  >≤16</text>
<line x1="639.02" y1="189.20" x2="639.02" y2="190.50" stroke="#9aa0a6" stroke-width="0.4" />
<line x1="646.83" y1="189.20" x2="646.83" y2="190.50" stroke="#9aa0a6" stroke-width="0.4" />
<line x1="654.65" y1="189.20" x2="654.65" y2="190.50" stroke="#9aa0a6" stroke-width="0.4" />
<line x1="662.46" y1="189.20" x2="662.46" y2="190.50" stroke="#9aa0a6" stroke-width="0.4" />
<line x1="670.28" y1="189.20" x2="670.28" y2="190.50" stroke="#9aa0a6" stroke-width="0.4" />
<line x1="678.09" y1="189.20" x2="678.09" y2="190.50" stroke="#9aa0a6" stroke-width="0.4" />
<text x="369.10" y="196.98" font-family='"Liberation Sans", sans-serif' font-size="5.5" font-weight="normal" text-anchor="start" fill="#1c1c1c"  textLength="28.74" lengthAdjust="spacingAndGlyphs" stroke="#1c1c1c" stroke-width="0.1" >centrosome</text>
<text x="528.00" y="196.98" font-family='"Liberation Sans", sans-serif' font-size="5.5" font-weight="normal" text-anchor="start" fill="#333"  textLength="27.91" lengthAdjust="spacingAndGlyphs" stroke="#333" stroke-width="0.05" >GO:0005813</text>
<text x="582.70" y="196.98" font-family='"Liberation Sans", sans-serif' font-size="5.5" fill="#1c1c1c" stroke="#1c1c1c" stroke-width="0.08" textLength="21.90" lengthAdjust="spacingAndGlyphs">6.492×10</text>
<text x="605.00" y="194.68" font-family='"Liberation Sans", sans-serif' font-size="3.85" fill="#1c1c1c">4</text>
<rect x="631.60" y="190.92" width="11.10" height="8.15" fill="#d6e844" />
<text x="369.10" y="206.03" font-family='"Liberation Sans", sans-serif' font-size="5.5" font-weight="normal" text-anchor="start" fill="#1c1c1c"  textLength="72.15" lengthAdjust="spacingAndGlyphs" stroke="#1c1c1c" stroke-width="0.1" >microtubule organizing center</text>
<text x="528.00" y="206.03" font-family='"Liberation Sans", sans-serif' font-size="5.5" font-weight="normal" text-anchor="start" fill="#333"  textLength="27.91" lengthAdjust="spacingAndGlyphs" stroke="#333" stroke-width="0.05" >GO:0005815</text>
<text x="582.70" y="206.03" font-family='"Liberation Sans", sans-serif' font-size="5.5" fill="#1c1c1c" stroke="#1c1c1c" stroke-width="0.08" textLength="21.90" lengthAdjust="spacingAndGlyphs">1.003×10</text>
<text x="605.00" y="203.73" font-family='"Liberation Sans", sans-serif' font-size="3.85" fill="#1c1c1c">3</text>
<rect x="631.60" y="199.97" width="10.20" height="8.15" fill="#d6e844" />
<text x="369.10" y="215.08" font-family='"Liberation Sans", sans-serif' font-size="5.5" font-weight="normal" text-anchor="start" fill="#1c1c1c"  textLength="60.53" lengthAdjust="spacingAndGlyphs" stroke="#1c1c1c" stroke-width="0.1" >microtubule cytoskeleton</text>
<text x="528.00" y="215.08" font-family='"Liberation Sans", sans-serif' font-size="5.5" font-weight="normal" text-anchor="start" fill="#333"  textLength="27.91" lengthAdjust="spacingAndGlyphs" stroke="#333" stroke-width="0.05" >GO:0015630</text>
<text x="582.70" y="215.08" font-family='"Liberation Sans", sans-serif' font-size="5.5" fill="#1c1c1c" stroke="#1c1c1c" stroke-width="0.08" textLength="21.90" lengthAdjust="spacingAndGlyphs">1.686×10</text>
<text x="605.00" y="212.78" font-family='"Liberation Sans", sans-serif' font-size="3.85" fill="#1c1c1c">3</text>
<rect x="631.60" y="209.02" width="9.70" height="8.15" fill="#d6e844" />
<text x="369.10" y="224.13" font-family='"Liberation Sans", sans-serif' font-size="5.5" font-weight="normal" text-anchor="start" fill="#1c1c1c"  textLength="95.39" lengthAdjust="spacingAndGlyphs" stroke="#1c1c1c" stroke-width="0.1" >voltage-gated sodium channel complex</text>
<text x="528.00" y="224.13" font-family='"Liberation Sans", sans-serif' font-size="5.5" font-weight="normal" text-anchor="start" fill="#333"  textLength="27.91" lengthAdjust="spacingAndGlyphs" stroke="#333" stroke-width="0.05" >GO:0001518</text>
<text x="582.70" y="224.13" font-family='"Liberation Sans", sans-serif' font-size="5.5" fill="#1c1c1c" stroke="#1c1c1c" stroke-width="0.08" textLength="21.90" lengthAdjust="spacingAndGlyphs">7.368×10</text>
<text x="605.00" y="221.83" font-family='"Liberation Sans", sans-serif' font-size="3.85" fill="#1c1c1c">3</text>
<rect x="631.60" y="218.07" width="7.20" height="8.15" fill="#d6e844" />
<text x="369.10" y="233.18" font-family='"Liberation Sans", sans-serif' font-size="5.5" font-weight="normal" text-anchor="start" fill="#1c1c1c"  textLength="24.76" lengthAdjust="spacingAndGlyphs" stroke="#1c1c1c" stroke-width="0.1" >cytoplasm</text>
<text x="528.00" y="233.18" font-family='"Liberation Sans", sans-serif' font-size="5.5" font-weight="normal" text-anchor="start" fill="#333"  textLength="27.91" lengthAdjust="spacingAndGlyphs" stroke="#333" stroke-width="0.05" >GO:0005737</text>
<text x="582.70" y="233.18" font-family='"Liberation Sans", sans-serif' font-size="5.5" fill="#1c1c1c" stroke="#1c1c1c" stroke-width="0.08" textLength="21.90" lengthAdjust="spacingAndGlyphs">1.667×10</text>
<text x="605.00" y="230.88" font-family='"Liberation Sans", sans-serif' font-size="3.85" fill="#1c1c1c">2</text>
<rect x="631.60" y="227.12" width="6.20" height="8.15" fill="#d6e844" />
<text x="369.10" y="242.23" font-family='"Liberation Sans", sans-serif' font-size="5.5" font-weight="normal" text-anchor="start" fill="#1c1c1c"  textLength="60.53" lengthAdjust="spacingAndGlyphs" stroke="#1c1c1c" stroke-width="0.1" >sodium channel complex</text>
<text x="528.00" y="242.23" font-family='"Liberation Sans", sans-serif' font-size="5.5" font-weight="normal" text-anchor="start" fill="#333"  textLength="27.91" lengthAdjust="spacingAndGlyphs" stroke="#333" stroke-width="0.05" >GO:0034706</text>
<text x="582.70" y="242.23" font-family='"Liberation Sans", sans-serif' font-size="5.5" fill="#1c1c1c" stroke="#1c1c1c" stroke-width="0.08" textLength="21.90" lengthAdjust="spacingAndGlyphs">4.500×10</text>
<text x="605.00" y="239.93" font-family='"Liberation Sans", sans-serif' font-size="3.85" fill="#1c1c1c">2</text>
<rect x="631.60" y="236.17" width="4.70" height="8.15" fill="#d6e844" />
<text x="369.10" y="251.28" font-family='"Liberation Sans", sans-serif' font-size="5.5" font-weight="normal" text-anchor="start" fill="#1c1c1c"  textLength="30.57" lengthAdjust="spacingAndGlyphs" stroke="#1c1c1c" stroke-width="0.1" >cytoskeleton</text>
<text x="528.00" y="251.28" font-family='"Liberation Sans", sans-serif' font-size="5.5" font-weight="normal" text-anchor="start" fill="#333"  textLength="27.91" lengthAdjust="spacingAndGlyphs" stroke="#333" stroke-width="0.05" >GO:0005856</text>
<text x="582.70" y="251.28" font-family='"Liberation Sans", sans-serif' font-size="5.5" fill="#1c1c1c" stroke="#1c1c1c" stroke-width="0.08" textLength="21.90" lengthAdjust="spacingAndGlyphs">4.730×10</text>
<text x="605.00" y="248.98" font-family='"Liberation Sans", sans-serif' font-size="3.85" fill="#1c1c1c">2</text>
<rect x="631.60" y="245.22" width="4.70" height="8.15" fill="#d6e844" />
<rect x="363.50" y="258.50" width="320.50" height="59.00" fill="#ffffff" />
<rect x="363.50" y="258.50" width="320.50" height="28.00" fill="#f6f7f7" />
<line x1="363.50" y1="258.50" x2="684.00" y2="258.50" stroke="#ced3d8" stroke-width="1.0" />
<line x1="363.50" y1="272.50" x2="684.00" y2="272.50" stroke="#d5dade" stroke-width="1.0" />
<line x1="363.50" y1="286.50" x2="684.00" y2="286.50" stroke="#c9ced3" stroke-width="1.0" />
<line x1="363.50" y1="317.50" x2="684.00" y2="317.50" stroke="#d0d5da" stroke-width="1.0" />
<line x1="363.50" y1="258.50" x2="363.50" y2="317.50" stroke="#d3d8dd" stroke-width="0.9" />
<line x1="684.00" y1="258.50" x2="684.00" y2="317.50" stroke="#dfe3e6" stroke-width="0.7" />
<line x1="577.00" y1="261.00" x2="577.00" y2="270.00" stroke="#dde1e5" stroke-width="0.6" />
<line x1="522.50" y1="275.00" x2="522.50" y2="284.00" stroke="#dde1e5" stroke-width="0.6" />
<line x1="577.00" y1="275.00" x2="577.00" y2="284.00" stroke="#dde1e5" stroke-width="0.6" />
<line x1="631.20" y1="275.00" x2="631.20" y2="286.50" stroke="#cdd2d7" stroke-width="0.6" />
<text x="369.10" y="267.48" font-family='"Liberation Sans", sans-serif' font-size="5.5" font-weight="normal" text-anchor="start" fill="#474747"  textLength="14.30" lengthAdjust="spacingAndGlyphs" stroke="#474747" stroke-width="0.06" >KEGG</text>
<text x="582.70" y="267.48" font-family='"Liberation Sans", sans-serif' font-size="5.5" font-weight="normal" text-anchor="start" fill="#474747"  textLength="11.03" lengthAdjust="spacingAndGlyphs" stroke="#474747" stroke-width="0.06" >stats</text>
<text x="369.10" y="281.48" font-family='"Liberation Sans", sans-serif' font-size="5.5" font-weight="normal" text-anchor="start" fill="#474747"  textLength="26.13" lengthAdjust="spacingAndGlyphs" stroke="#474747" stroke-width="0.06" >Term name</text>
<text x="528.00" y="281.48" font-family='"Liberation Sans", sans-serif' font-size="5.5" font-weight="normal" text-anchor="start" fill="#474747"  textLength="18.29" lengthAdjust="spacingAndGlyphs" stroke="#474747" stroke-width="0.06" >Term ID</text>
<text x="582.70" y="282.28" font-family='"Liberation Sans", sans-serif' font-size="5.5" fill="#474747">p<tspan font-size="3.85" dy="0.8">adj</tspan></text>
<text x="637.00" y="280.88" font-family='"Liberation Sans", sans-serif' font-size="6.16" fill="#474747">−log<tspan font-size="3.58" dy="1">10</tspan><tspan dy="-1">(p</tspan><tspan font-size="3.58" dy="1">adj</tspan><tspan dy="-1">)</tspan></text>
<text x="632.00" y="285.20" font-family='"Liberation Sans", sans-serif' font-size="2.6" font-weight="normal" text-anchor="start" fill="#474747"  >0</text>
<text x="677.50" y="285.20" font-family='"Liberation Sans", sans-serif' font-size="2.6" font-weight="normal" text-anchor="start" fill="#474747"  >≤16</text>
<line x1="639.02" y1="285.20" x2="639.02" y2="286.50" stroke="#9aa0a6" stroke-width="0.4" />
<line x1="646.83" y1="285.20" x2="646.83" y2="286.50" stroke="#9aa0a6" stroke-width="0.4" />
<line x1="654.65" y1="285.20" x2="654.65" y2="286.50" stroke="#9aa0a6" stroke-width="0.4" />
<line x1="662.46" y1="285.20" x2="662.46" y2="286.50" stroke="#9aa0a6" stroke-width="0.4" />
<line x1="670.28" y1="285.20" x2="670.28" y2="286.50" stroke="#9aa0a6" stroke-width="0.4" />
<line x1="678.09" y1="285.20" x2="678.09" y2="286.50" stroke="#9aa0a6" stroke-width="0.4" />
<text x="369.10" y="293.88" font-family='"Liberation Sans", sans-serif' font-size="5.5" font-weight="normal" text-anchor="start" fill="#1c1c1c"  textLength="31.80" lengthAdjust="spacingAndGlyphs" stroke="#1c1c1c" stroke-width="0.1" >Legionellosis</text>
<text x="528.00" y="293.88" font-family='"Liberation Sans", sans-serif' font-size="5.5" font-weight="normal" text-anchor="start" fill="#333"  textLength="28.99" lengthAdjust="spacingAndGlyphs" stroke="#333" stroke-width="0.05" >KEGG:05134</text>
<text x="582.70" y="293.88" font-family='"Liberation Sans", sans-serif' font-size="5.5" fill="#1c1c1c" stroke="#1c1c1c" stroke-width="0.08" textLength="21.90" lengthAdjust="spacingAndGlyphs">1.736×10</text>
<text x="605.00" y="291.58" font-family='"Liberation Sans", sans-serif' font-size="3.85" fill="#1c1c1c">1</text>
<rect x="631.60" y="287.82" width="3.00" height="8.15" fill="#d6e844" />
<text x="4.40" y="220.80" font-family='"Liberation Serif", serif' font-size="11.4" font-weight="bold" text-anchor="start" fill="#000"  >(C)</text>
<text x="179.10" y="223.60" font-family='"Liberation Serif", serif' font-size="8.95" font-weight="bold" text-anchor="middle" fill="#000" textLength="203" lengthAdjust="spacingAndGlyphs" >Tissue-specific gene enrichment results of identified 5</text>
<text x="178.30" y="233.50" font-family='"Liberation Serif", serif' font-size="8.95" font-weight="bold" text-anchor="middle" fill="#000"  >GDM genes</text>
<line x1="43.40" y1="216.60" x2="43.40" y2="298.80" stroke="#a8a8a8" stroke-width="0.8" />
<line x1="40.60" y1="298.80" x2="43.40" y2="298.80" stroke="#a8a8a8" stroke-width="0.7" />
<text x="38.90" y="303.10" font-family='"Liberation Sans", sans-serif' font-size="6.6" font-weight="normal" text-anchor="end" fill="#111" textLength="8.0" lengthAdjust="spacingAndGlyphs" stroke="#111" stroke-width="0.08" >0.0</text>
<line x1="40.60" y1="282.12" x2="43.40" y2="282.12" stroke="#a8a8a8" stroke-width="0.7" />
<text x="38.90" y="286.43" font-family='"Liberation Sans", sans-serif' font-size="6.6" font-weight="normal" text-anchor="end" fill="#111" textLength="8.0" lengthAdjust="spacingAndGlyphs" stroke="#111" stroke-width="0.08" >0.5</text>
<line x1="40.60" y1="265.45" x2="43.40" y2="265.45" stroke="#a8a8a8" stroke-width="0.7" />
<text x="38.90" y="269.75" font-family='"Liberation Sans", sans-serif' font-size="6.6" font-weight="normal" text-anchor="end" fill="#111" textLength="8.0" lengthAdjust="spacingAndGlyphs" stroke="#111" stroke-width="0.08" >1.0</text>
<line x1="40.60" y1="248.78" x2="43.40" y2="248.78" stroke="#a8a8a8" stroke-width="0.7" />
<text x="38.90" y="253.08" font-family='"Liberation Sans", sans-serif' font-size="6.6" font-weight="normal" text-anchor="end" fill="#111" textLength="8.0" lengthAdjust="spacingAndGlyphs" stroke="#111" stroke-width="0.08" >1.5</text>
<line x1="40.60" y1="232.10" x2="43.40" y2="232.10" stroke="#a8a8a8" stroke-width="0.7" />
<text x="38.90" y="236.40" font-family='"Liberation Sans", sans-serif' font-size="6.6" font-weight="normal" text-anchor="end" fill="#111" textLength="8.0" lengthAdjust="spacingAndGlyphs" stroke="#111" stroke-width="0.08" >2.0</text>
<line x1="43.40" y1="299.30" x2="289.40" y2="299.30" stroke="#a8a8a8" stroke-width="0.8" />
<line x1="47.83" y1="299.30" x2="47.83" y2="301.80" stroke="#a8a8a8" stroke-width="0.6" />
<line x1="56.00" y1="299.30" x2="56.00" y2="301.80" stroke="#a8a8a8" stroke-width="0.6" />
<line x1="64.16" y1="299.30" x2="64.16" y2="301.80" stroke="#a8a8a8" stroke-width="0.6" />
<line x1="72.33" y1="299.30" x2="72.33" y2="301.80" stroke="#a8a8a8" stroke-width="0.6" />
<line x1="80.50" y1="299.30" x2="80.50" y2="301.80" stroke="#a8a8a8" stroke-width="0.6" />
<line x1="88.67" y1="299.30" x2="88.67" y2="301.80" stroke="#a8a8a8" stroke-width="0.6" />
<line x1="96.84" y1="299.30" x2="96.84" y2="301.80" stroke="#a8a8a8" stroke-width="0.6" />
<line x1="105.01" y1="299.30" x2="105.01" y2="301.80" stroke="#a8a8a8" stroke-width="0.6" />
<line x1="113.19" y1="299.30" x2="113.19" y2="301.80" stroke="#a8a8a8" stroke-width="0.6" />
<line x1="121.35" y1="299.30" x2="121.35" y2="301.80" stroke="#a8a8a8" stroke-width="0.6" />
<line x1="129.53" y1="299.30" x2="129.53" y2="301.80" stroke="#a8a8a8" stroke-width="0.6" />
<line x1="137.69" y1="299.30" x2="137.69" y2="301.80" stroke="#a8a8a8" stroke-width="0.6" />
<line x1="145.86" y1="299.30" x2="145.86" y2="301.80" stroke="#a8a8a8" stroke-width="0.6" />
<line x1="154.03" y1="299.30" x2="154.03" y2="301.80" stroke="#a8a8a8" stroke-width="0.6" />
<line x1="162.20" y1="299.30" x2="162.20" y2="301.80" stroke="#a8a8a8" stroke-width="0.6" />
<line x1="170.38" y1="299.30" x2="170.38" y2="301.80" stroke="#a8a8a8" stroke-width="0.6" />
<line x1="178.54" y1="299.30" x2="178.54" y2="301.80" stroke="#a8a8a8" stroke-width="0.6" />
<line x1="186.71" y1="299.30" x2="186.71" y2="301.80" stroke="#a8a8a8" stroke-width="0.6" />
<line x1="194.88" y1="299.30" x2="194.88" y2="301.80" stroke="#a8a8a8" stroke-width="0.6" />
<line x1="203.05" y1="299.30" x2="203.05" y2="301.80" stroke="#a8a8a8" stroke-width="0.6" />
<line x1="211.22" y1="299.30" x2="211.22" y2="301.80" stroke="#a8a8a8" stroke-width="0.6" />
<line x1="219.39" y1="299.30" x2="219.39" y2="301.80" stroke="#a8a8a8" stroke-width="0.6" />
<line x1="227.56" y1="299.30" x2="227.56" y2="301.80" stroke="#a8a8a8" stroke-width="0.6" />
<line x1="235.73" y1="299.30" x2="235.73" y2="301.80" stroke="#a8a8a8" stroke-width="0.6" />
<line x1="243.90" y1="299.30" x2="243.90" y2="301.80" stroke="#a8a8a8" stroke-width="0.6" />
<line x1="252.07" y1="299.30" x2="252.07" y2="301.80" stroke="#a8a8a8" stroke-width="0.6" />
<line x1="260.25" y1="299.30" x2="260.25" y2="301.80" stroke="#a8a8a8" stroke-width="0.6" />
<line x1="268.42" y1="299.30" x2="268.42" y2="301.80" stroke="#a8a8a8" stroke-width="0.6" />
<line x1="276.59" y1="299.30" x2="276.59" y2="301.80" stroke="#a8a8a8" stroke-width="0.6" />
<line x1="284.76" y1="299.30" x2="284.76" y2="301.80" stroke="#a8a8a8" stroke-width="0.6" />
<line x1="289.40" y1="299.30" x2="289.40" y2="301.80" stroke="#a8a8a8" stroke-width="0.6" />
<line x1="43.40" y1="299.30" x2="43.40" y2="301.80" stroke="#a8a8a8" stroke-width="0.6" />
<rect x="44.10" y="244.00" width="7.45" height="54.80" fill="#6464fc" />
<rect x="52.27" y="249.90" width="7.45" height="48.90" fill="#6464fc" />
<rect x="60.44" y="255.90" width="7.45" height="42.90" fill="#6464fc" />
<rect x="68.61" y="264.90" width="7.45" height="33.90" fill="#6464fc" />
<rect x="76.78" y="273.20" width="7.45" height="25.60" fill="#6464fc" />
<rect x="84.95" y="275.90" width="7.45" height="22.90" fill="#6464fc" />
<rect x="93.12" y="277.10" width="7.45" height="21.70" fill="#6464fc" />
<rect x="101.29" y="277.90" width="7.45" height="20.90" fill="#6464fc" />
<rect x="109.46" y="280.60" width="7.45" height="18.20" fill="#6464fc" />
<rect x="117.63" y="284.50" width="7.45" height="14.30" fill="#6464fc" />
<rect x="125.80" y="285.10" width="7.45" height="13.70" fill="#6464fc" />
<rect x="133.97" y="285.90" width="7.45" height="12.90" fill="#6464fc" />
<rect x="142.14" y="291.60" width="7.45" height="7.20" fill="#6464fc" />
<rect x="150.31" y="292.40" width="7.45" height="6.40" fill="#6464fc" />
<rect x="158.48" y="293.10" width="7.45" height="5.70" fill="#6464fc" />
<line x1="43.40" y1="304.30" x2="43.40" y2="386.10" stroke="#a8a8a8" stroke-width="0.8" />
<line x1="40.60" y1="386.10" x2="43.40" y2="386.10" stroke="#a8a8a8" stroke-width="0.7" />
<text x="38.90" y="390.40" font-family='"Liberation Sans", sans-serif' font-size="6.6" font-weight="normal" text-anchor="end" fill="#111" textLength="8.0" lengthAdjust="spacingAndGlyphs" stroke="#111" stroke-width="0.08" >0.0</text>
<line x1="40.60" y1="369.35" x2="43.40" y2="369.35" stroke="#a8a8a8" stroke-width="0.7" />
<text x="38.90" y="373.65" font-family='"Liberation Sans", sans-serif' font-size="6.6" font-weight="normal" text-anchor="end" fill="#111" textLength="8.0" lengthAdjust="spacingAndGlyphs" stroke="#111" stroke-width="0.08" >0.5</text>
<line x1="40.60" y1="352.60" x2="43.40" y2="352.60" stroke="#a8a8a8" stroke-width="0.7" />
<text x="38.90" y="356.90" font-family='"Liberation Sans", sans-serif' font-size="6.6" font-weight="normal" text-anchor="end" fill="#111" textLength="8.0" lengthAdjust="spacingAndGlyphs" stroke="#111" stroke-width="0.08" >1.0</text>
<line x1="40.60" y1="335.85" x2="43.40" y2="335.85" stroke="#a8a8a8" stroke-width="0.7" />
<text x="38.90" y="340.15" font-family='"Liberation Sans", sans-serif' font-size="6.6" font-weight="normal" text-anchor="end" fill="#111" textLength="8.0" lengthAdjust="spacingAndGlyphs" stroke="#111" stroke-width="0.08" >1.5</text>
<line x1="40.60" y1="319.10" x2="43.40" y2="319.10" stroke="#a8a8a8" stroke-width="0.7" />
<text x="38.90" y="323.40" font-family='"Liberation Sans", sans-serif' font-size="6.6" font-weight="normal" text-anchor="end" fill="#111" textLength="8.0" lengthAdjust="spacingAndGlyphs" stroke="#111" stroke-width="0.08" >2.0</text>
<line x1="43.40" y1="386.60" x2="289.40" y2="386.60" stroke="#a8a8a8" stroke-width="0.8" />
<line x1="47.83" y1="386.60" x2="47.83" y2="389.10" stroke="#a8a8a8" stroke-width="0.6" />
<line x1="56.00" y1="386.60" x2="56.00" y2="389.10" stroke="#a8a8a8" stroke-width="0.6" />
<line x1="64.16" y1="386.60" x2="64.16" y2="389.10" stroke="#a8a8a8" stroke-width="0.6" />
<line x1="72.33" y1="386.60" x2="72.33" y2="389.10" stroke="#a8a8a8" stroke-width="0.6" />
<line x1="80.50" y1="386.60" x2="80.50" y2="389.10" stroke="#a8a8a8" stroke-width="0.6" />
<line x1="88.67" y1="386.60" x2="88.67" y2="389.10" stroke="#a8a8a8" stroke-width="0.6" />
<line x1="96.84" y1="386.60" x2="96.84" y2="389.10" stroke="#a8a8a8" stroke-width="0.6" />
<line x1="105.01" y1="386.60" x2="105.01" y2="389.10" stroke="#a8a8a8" stroke-width="0.6" />
<line x1="113.19" y1="386.60" x2="113.19" y2="389.10" stroke="#a8a8a8" stroke-width="0.6" />
<line x1="121.35" y1="386.60" x2="121.35" y2="389.10" stroke="#a8a8a8" stroke-width="0.6" />
<line x1="129.53" y1="386.60" x2="129.53" y2="389.10" stroke="#a8a8a8" stroke-width="0.6" />
<line x1="137.69" y1="386.60" x2="137.69" y2="389.10" stroke="#a8a8a8" stroke-width="0.6" />
<line x1="145.86" y1="386.60" x2="145.86" y2="389.10" stroke="#a8a8a8" stroke-width="0.6" />
<line x1="154.03" y1="386.60" x2="154.03" y2="389.10" stroke="#a8a8a8" stroke-width="0.6" />
<line x1="162.20" y1="386.60" x2="162.20" y2="389.10" stroke="#a8a8a8" stroke-width="0.6" />
<line x1="170.38" y1="386.60" x2="170.38" y2="389.10" stroke="#a8a8a8" stroke-width="0.6" />
<line x1="178.54" y1="386.60" x2="178.54" y2="389.10" stroke="#a8a8a8" stroke-width="0.6" />
<line x1="186.71" y1="386.60" x2="186.71" y2="389.10" stroke="#a8a8a8" stroke-width="0.6" />
<line x1="194.88" y1="386.60" x2="194.88" y2="389.10" stroke="#a8a8a8" stroke-width="0.6" />
<line x1="203.05" y1="386.60" x2="203.05" y2="389.10" stroke="#a8a8a8" stroke-width="0.6" />
<line x1="211.22" y1="386.60" x2="211.22" y2="389.10" stroke="#a8a8a8" stroke-width="0.6" />
<line x1="219.39" y1="386.60" x2="219.39" y2="389.10" stroke="#a8a8a8" stroke-width="0.6" />
<line x1="227.56" y1="386.60" x2="227.56" y2="389.10" stroke="#a8a8a8" stroke-width="0.6" />
<line x1="235.73" y1="386.60" x2="235.73" y2="389.10" stroke="#a8a8a8" stroke-width="0.6" />
<line x1="243.90" y1="386.60" x2="243.90" y2="389.10" stroke="#a8a8a8" stroke-width="0.6" />
<line x1="252.07" y1="386.60" x2="252.07" y2="389.10" stroke="#a8a8a8" stroke-width="0.6" />
<line x1="260.25" y1="386.60" x2="260.25" y2="389.10" stroke="#a8a8a8" stroke-width="0.6" />
<line x1="268.42" y1="386.60" x2="268.42" y2="389.10" stroke="#a8a8a8" stroke-width="0.6" />
<line x1="276.59" y1="386.60" x2="276.59" y2="389.10" stroke="#a8a8a8" stroke-width="0.6" />
<line x1="284.76" y1="386.60" x2="284.76" y2="389.10" stroke="#a8a8a8" stroke-width="0.6" />
<line x1="289.40" y1="386.60" x2="289.40" y2="389.10" stroke="#a8a8a8" stroke-width="0.6" />
<line x1="43.40" y1="386.60" x2="43.40" y2="389.10" stroke="#a8a8a8" stroke-width="0.6" />
<rect x="44.10" y="375.30" width="7.45" height="10.80" fill="#6464fc" />
<rect x="60.44" y="358.30" width="7.45" height="27.80" fill="#6464fc" />
<rect x="68.61" y="337.10" width="7.45" height="49.00" fill="#6464fc" />
<rect x="76.78" y="349.30" width="7.45" height="36.80" fill="#6464fc" />
<rect x="84.95" y="380.00" width="7.45" height="6.10" fill="#6464fc" />
<rect x="93.12" y="357.10" width="7.45" height="29.00" fill="#6464fc" />
<rect x="101.29" y="365.30" width="7.45" height="20.80" fill="#6464fc" />
<rect x="125.80" y="353.40" width="7.45" height="32.70" fill="#6464fc" />
<rect x="142.14" y="368.20" width="7.45" height="17.90" fill="#6464fc" />
<rect x="150.31" y="360.00" width="7.45" height="26.10" fill="#6464fc" />
<rect x="158.48" y="349.10" width="7.45" height="37.00" fill="#6464fc" />
<rect x="174.82" y="372.00" width="7.45" height="14.10" fill="#6464fc" />
<rect x="207.50" y="367.50" width="7.45" height="18.60" fill="#6464fc" />
<rect x="223.84" y="361.60" width="7.45" height="24.50" fill="#6464fc" />
<rect x="240.18" y="367.10" width="7.45" height="19.00" fill="#6464fc" />
<rect x="248.35" y="341.20" width="7.45" height="44.90" fill="#6464fc" />
<rect x="256.52" y="355.10" width="7.45" height="31.00" fill="#6464fc" />
<rect x="264.69" y="363.70" width="7.45" height="22.40" fill="#6464fc" />
<line x1="43.40" y1="391.70" x2="43.40" y2="473.80" stroke="#a8a8a8" stroke-width="0.8" />
<line x1="40.60" y1="473.80" x2="43.40" y2="473.80" stroke="#a8a8a8" stroke-width="0.7" />
<text x="38.90" y="478.10" font-family='"Liberation Sans", sans-serif' font-size="6.6" font-weight="normal" text-anchor="end" fill="#111" textLength="8.0" lengthAdjust="spacingAndGlyphs" stroke="#111" stroke-width="0.08" >0.0</text>
<line x1="40.60" y1="457.30" x2="43.40" y2="457.30" stroke="#a8a8a8" stroke-width="0.7" />
<text x="38.90" y="461.60" font-family='"Liberation Sans", sans-serif' font-size="6.6" font-weight="normal" text-anchor="end" fill="#111" textLength="8.0" lengthAdjust="spacingAndGlyphs" stroke="#111" stroke-width="0.08" >0.5</text>
<line x1="40.60" y1="440.80" x2="43.40" y2="440.80" stroke="#a8a8a8" stroke-width="0.7" />
<text x="38.90" y="445.10" font-family='"Liberation Sans", sans-serif' font-size="6.6" font-weight="normal" text-anchor="end" fill="#111" textLength="8.0" lengthAdjust="spacingAndGlyphs" stroke="#111" stroke-width="0.08" >1.0</text>
<line x1="40.60" y1="424.30" x2="43.40" y2="424.30" stroke="#a8a8a8" stroke-width="0.7" />
<text x="38.90" y="428.60" font-family='"Liberation Sans", sans-serif' font-size="6.6" font-weight="normal" text-anchor="end" fill="#111" textLength="8.0" lengthAdjust="spacingAndGlyphs" stroke="#111" stroke-width="0.08" >1.5</text>
<line x1="40.60" y1="407.80" x2="43.40" y2="407.80" stroke="#a8a8a8" stroke-width="0.7" />
<text x="38.90" y="412.10" font-family='"Liberation Sans", sans-serif' font-size="6.6" font-weight="normal" text-anchor="end" fill="#111" textLength="8.0" lengthAdjust="spacingAndGlyphs" stroke="#111" stroke-width="0.08" >2.0</text>
<line x1="43.40" y1="474.30" x2="289.40" y2="474.30" stroke="#a8a8a8" stroke-width="0.8" />
<line x1="47.83" y1="474.30" x2="47.83" y2="476.80" stroke="#a8a8a8" stroke-width="0.6" />
<line x1="56.00" y1="474.30" x2="56.00" y2="476.80" stroke="#a8a8a8" stroke-width="0.6" />
<line x1="64.16" y1="474.30" x2="64.16" y2="476.80" stroke="#a8a8a8" stroke-width="0.6" />
<line x1="72.33" y1="474.30" x2="72.33" y2="476.80" stroke="#a8a8a8" stroke-width="0.6" />
<line x1="80.50" y1="474.30" x2="80.50" y2="476.80" stroke="#a8a8a8" stroke-width="0.6" />
<line x1="88.67" y1="474.30" x2="88.67" y2="476.80" stroke="#a8a8a8" stroke-width="0.6" />
<line x1="96.84" y1="474.30" x2="96.84" y2="476.80" stroke="#a8a8a8" stroke-width="0.6" />
<line x1="105.01" y1="474.30" x2="105.01" y2="476.80" stroke="#a8a8a8" stroke-width="0.6" />
<line x1="113.19" y1="474.30" x2="113.19" y2="476.80" stroke="#a8a8a8" stroke-width="0.6" />
<line x1="121.35" y1="474.30" x2="121.35" y2="476.80" stroke="#a8a8a8" stroke-width="0.6" />
<line x1="129.53" y1="474.30" x2="129.53" y2="476.80" stroke="#a8a8a8" stroke-width="0.6" />
<line x1="137.69" y1="474.30" x2="137.69" y2="476.80" stroke="#a8a8a8" stroke-width="0.6" />
<line x1="145.86" y1="474.30" x2="145.86" y2="476.80" stroke="#a8a8a8" stroke-width="0.6" />
<line x1="154.03" y1="474.30" x2="154.03" y2="476.80" stroke="#a8a8a8" stroke-width="0.6" />
<line x1="162.20" y1="474.30" x2="162.20" y2="476.80" stroke="#a8a8a8" stroke-width="0.6" />
<line x1="170.38" y1="474.30" x2="170.38" y2="476.80" stroke="#a8a8a8" stroke-width="0.6" />
<line x1="178.54" y1="474.30" x2="178.54" y2="476.80" stroke="#a8a8a8" stroke-width="0.6" />
<line x1="186.71" y1="474.30" x2="186.71" y2="476.80" stroke="#a8a8a8" stroke-width="0.6" />
<line x1="194.88" y1="474.30" x2="194.88" y2="476.80" stroke="#a8a8a8" stroke-width="0.6" />
<line x1="203.05" y1="474.30" x2="203.05" y2="476.80" stroke="#a8a8a8" stroke-width="0.6" />
<line x1="211.22" y1="474.30" x2="211.22" y2="476.80" stroke="#a8a8a8" stroke-width="0.6" />
<line x1="219.39" y1="474.30" x2="219.39" y2="476.80" stroke="#a8a8a8" stroke-width="0.6" />
<line x1="227.56" y1="474.30" x2="227.56" y2="476.80" stroke="#a8a8a8" stroke-width="0.6" />
<line x1="235.73" y1="474.30" x2="235.73" y2="476.80" stroke="#a8a8a8" stroke-width="0.6" />
<line x1="243.90" y1="474.30" x2="243.90" y2="476.80" stroke="#a8a8a8" stroke-width="0.6" />
<line x1="252.07" y1="474.30" x2="252.07" y2="476.80" stroke="#a8a8a8" stroke-width="0.6" />
<line x1="260.25" y1="474.30" x2="260.25" y2="476.80" stroke="#a8a8a8" stroke-width="0.6" />
<line x1="268.42" y1="474.30" x2="268.42" y2="476.80" stroke="#a8a8a8" stroke-width="0.6" />
<line x1="276.59" y1="474.30" x2="276.59" y2="476.80" stroke="#a8a8a8" stroke-width="0.6" />
<line x1="284.76" y1="474.30" x2="284.76" y2="476.80" stroke="#a8a8a8" stroke-width="0.6" />
<line x1="289.40" y1="474.30" x2="289.40" y2="476.80" stroke="#a8a8a8" stroke-width="0.6" />
<line x1="43.40" y1="474.30" x2="43.40" y2="476.80" stroke="#a8a8a8" stroke-width="0.6" />
<rect x="44.10" y="424.70" width="7.45" height="49.10" fill="#6464fc" />
<rect x="52.27" y="441.10" width="7.45" height="32.70" fill="#6464fc" />
<rect x="60.44" y="406.80" width="7.45" height="67.00" fill="#6464fc" />
<rect x="68.61" y="392.50" width="7.45" height="81.30" fill="#6464fc" />
<rect x="76.78" y="416.00" width="7.45" height="57.80" fill="#6464fc" />
<rect x="84.95" y="457.20" width="7.45" height="16.60" fill="#6464fc" />
<rect x="93.12" y="434.30" width="7.45" height="39.50" fill="#6464fc" />
<rect x="101.29" y="438.80" width="7.45" height="35.00" fill="#6464fc" />
<rect x="109.46" y="461.10" width="7.45" height="12.70" fill="#6464fc" />
<rect x="117.63" y="465.20" width="7.45" height="8.60" fill="#6464fc" />
<rect x="125.80" y="441.10" width="7.45" height="32.70" fill="#6464fc" />
<rect x="133.97" y="461.30" width="7.45" height="12.50" fill="#6464fc" />
<rect x="142.14" y="458.10" width="7.45" height="15.70" fill="#6464fc" />
<rect x="150.31" y="456.80" width="7.45" height="17.00" fill="#6464fc" />
<rect x="158.48" y="449.30" width="7.45" height="24.50" fill="#6464fc" />
<rect x="174.82" y="463.20" width="7.45" height="10.60" fill="#6464fc" />
<rect x="207.50" y="463.40" width="7.45" height="10.40" fill="#6464fc" />
<rect x="223.84" y="451.90" width="7.45" height="21.90" fill="#6464fc" />
<rect x="240.18" y="461.50" width="7.45" height="12.30" fill="#6464fc" />
<rect x="248.35" y="446.00" width="7.45" height="27.80" fill="#6464fc" />
<rect x="256.52" y="449.10" width="7.45" height="24.70" fill="#6464fc" />
<rect x="264.69" y="460.90" width="7.45" height="12.90" fill="#6464fc" />
<text transform="translate(52.93,480.00) rotate(-68)" font-family='"Liberation Sans", sans-serif' font-size="6.2" text-anchor="end" fill="#111" stroke="#111" stroke-width="0.08">Adrenal_Gland</text>
<text transform="translate(61.10,480.00) rotate(-68)" font-family='"Liberation Sans", sans-serif' font-size="6.2" text-anchor="end" fill="#111" stroke="#111" stroke-width="0.08">Adipose_Tissue</text>
<text transform="translate(69.26,480.00) rotate(-68)" font-family='"Liberation Sans", sans-serif' font-size="6.2" text-anchor="end" fill="#111" stroke="#111" stroke-width="0.08">Nerve</text>
<text transform="translate(77.43,480.00) rotate(-68)" font-family='"Liberation Sans", sans-serif' font-size="6.2" text-anchor="end" fill="#111" stroke="#111" stroke-width="0.08">Heart</text>
<text transform="translate(85.60,480.00) rotate(-68)" font-family='"Liberation Sans", sans-serif' font-size="6.2" text-anchor="end" fill="#111" stroke="#111" stroke-width="0.08">Muscle</text>
<text transform="translate(93.77,480.00) rotate(-68)" font-family='"Liberation Sans", sans-serif' font-size="6.2" text-anchor="end" fill="#111" stroke="#111" stroke-width="0.08">Kidney</text>
<text transform="translate(101.94,480.00) rotate(-68)" font-family='"Liberation Sans", sans-serif' font-size="6.2" text-anchor="end" fill="#111" stroke="#111" stroke-width="0.08">Uterus</text>
<text transform="translate(110.11,480.00) rotate(-68)" font-family='"Liberation Sans", sans-serif' font-size="6.2" text-anchor="end" fill="#111" stroke="#111" stroke-width="0.08">Ovary</text>
<text transform="translate(118.28,480.00) rotate(-68)" font-family='"Liberation Sans", sans-serif' font-size="6.2" text-anchor="end" fill="#111" stroke="#111" stroke-width="0.08">Breast</text>
<text transform="translate(126.45,480.00) rotate(-68)" font-family='"Liberation Sans", sans-serif' font-size="6.2" text-anchor="end" fill="#111" stroke="#111" stroke-width="0.08">Blood_Vessel</text>
<text transform="translate(134.62,480.00) rotate(-68)" font-family='"Liberation Sans", sans-serif' font-size="6.2" text-anchor="end" fill="#111" stroke="#111" stroke-width="0.08">Vagina</text>
<text transform="translate(142.79,480.00) rotate(-68)" font-family='"Liberation Sans", sans-serif' font-size="6.2" text-anchor="end" fill="#111" stroke="#111" stroke-width="0.08">Cervix_Uteri</text>
<text transform="translate(150.96,480.00) rotate(-68)" font-family='"Liberation Sans", sans-serif' font-size="6.2" text-anchor="end" fill="#111" stroke="#111" stroke-width="0.08">Pituitary</text>
<text transform="translate(159.13,480.00) rotate(-68)" font-family='"Liberation Sans", sans-serif' font-size="6.2" text-anchor="end" fill="#111" stroke="#111" stroke-width="0.08">Thyroid</text>
<text transform="translate(167.30,480.00) rotate(-68)" font-family='"Liberation Sans", sans-serif' font-size="6.2" text-anchor="end" fill="#111" stroke="#111" stroke-width="0.08">Testis</text>
<text transform="translate(175.47,480.00) rotate(-68)" font-family='"Liberation Sans", sans-serif' font-size="6.2" text-anchor="end" fill="#111" stroke="#111" stroke-width="0.08">Esophagus</text>
<text transform="translate(183.64,480.00) rotate(-68)" font-family='"Liberation Sans", sans-serif' font-size="6.2" text-anchor="end" fill="#111" stroke="#111" stroke-width="0.08">Stomach</text>
<text transform="translate(191.81,480.00) rotate(-68)" font-family='"Liberation Sans", sans-serif' font-size="6.2" text-anchor="end" fill="#111" stroke="#111" stroke-width="0.08">Spleen</text>
<text transform="translate(199.98,480.00) rotate(-68)" font-family='"Liberation Sans", sans-serif' font-size="6.2" text-anchor="end" fill="#111" stroke="#111" stroke-width="0.08">Small_Intestine</text>
<text transform="translate(208.15,480.00) rotate(-68)" font-family='"Liberation Sans", sans-serif' font-size="6.2" text-anchor="end" fill="#111" stroke="#111" stroke-width="0.08">Skin</text>
<text transform="translate(216.32,480.00) rotate(-68)" font-family='"Liberation Sans", sans-serif' font-size="6.2" text-anchor="end" fill="#111" stroke="#111" stroke-width="0.08">Salivary_Gland</text>
<text transform="translate(224.49,480.00) rotate(-68)" font-family='"Liberation Sans", sans-serif' font-size="6.2" text-anchor="end" fill="#111" stroke="#111" stroke-width="0.08">Prostate</text>
<text transform="translate(232.66,480.00) rotate(-68)" font-family='"Liberation Sans", sans-serif' font-size="6.2" text-anchor="end" fill="#111" stroke="#111" stroke-width="0.08">Pancreas</text>
<text transform="translate(240.83,480.00) rotate(-68)" font-family='"Liberation Sans", sans-serif' font-size="6.2" text-anchor="end" fill="#111" stroke="#111" stroke-width="0.08">Bladder</text>
<text transform="translate(249.00,480.00) rotate(-68)" font-family='"Liberation Sans", sans-serif' font-size="6.2" text-anchor="end" fill="#111" stroke="#111" stroke-width="0.08">Blood</text>
<text transform="translate(257.18,480.00) rotate(-68)" font-family='"Liberation Sans", sans-serif' font-size="6.2" text-anchor="end" fill="#111" stroke="#111" stroke-width="0.08">Brain</text>
<text transform="translate(265.35,480.00) rotate(-68)" font-family='"Liberation Sans", sans-serif' font-size="6.2" text-anchor="end" fill="#111" stroke="#111" stroke-width="0.08">Liver</text>
<text transform="translate(273.52,480.00) rotate(-68)" font-family='"Liberation Sans", sans-serif' font-size="6.2" text-anchor="end" fill="#111" stroke="#111" stroke-width="0.08">Colon</text>
<text transform="translate(281.69,480.00) rotate(-68)" font-family='"Liberation Sans", sans-serif' font-size="6.2" text-anchor="end" fill="#111" stroke="#111" stroke-width="0.08">Fallopian_Tube</text>
<text transform="translate(289.86,480.00) rotate(-68)" font-family='"Liberation Sans", sans-serif' font-size="6.2" text-anchor="end" fill="#111" stroke="#111" stroke-width="0.08">Lung</text>
<text transform="translate(24.30,345.50) rotate(-90)" font-family='"Liberation Sans", sans-serif' font-size="6.6" text-anchor="middle" fill="#111" textLength="44" lengthAdjust="spacingAndGlyphs">-log 10 P-value</text>
<text transform="translate(298.50,257.30) rotate(90)" font-family='"Liberation Sans", sans-serif' font-size="6.6" text-anchor="middle" fill="#111" textLength="55" lengthAdjust="spacingAndGlyphs">Up-regulated DEG</text>
<text transform="translate(298.50,345.40) rotate(90)" font-family='"Liberation Sans", sans-serif' font-size="6.6" text-anchor="middle" fill="#111" textLength="63" lengthAdjust="spacingAndGlyphs">Down-regulated DEG</text>
<text transform="translate(298.50,431.90) rotate(90)" font-family='"Liberation Sans", sans-serif' font-size="6.6" text-anchor="middle" fill="#111" textLength="45.7" lengthAdjust="spacingAndGlyphs">DEG (both side)</text>
<text x="16.10" y="550.50" font-family='"Liberation Serif", serif' font-size="11.4" font-weight="bold" text-anchor="start" fill="#000"  >(D)</text>
<text x="184.20" y="547.90" font-family='"Liberation Serif", serif' font-size="8.95" font-weight="bold" text-anchor="middle" fill="#000" textLength="208" lengthAdjust="spacingAndGlyphs" >Tissue-specific gene enrichment results of identified 97</text>
<text x="183.20" y="558.60" font-family='"Liberation Serif", serif' font-size="8.95" font-weight="bold" text-anchor="middle" fill="#000"  >T2D genes</text>
<line x1="43.40" y1="542.40" x2="43.40" y2="625.80" stroke="#a8a8a8" stroke-width="0.8" />
<line x1="40.60" y1="625.80" x2="43.40" y2="625.80" stroke="#a8a8a8" stroke-width="0.7" />
<text x="38.90" y="630.10" font-family='"Liberation Sans", sans-serif' font-size="6.6" font-weight="normal" text-anchor="end" fill="#111" textLength="3.6" lengthAdjust="spacingAndGlyphs" stroke="#111" stroke-width="0.08" >0</text>
<line x1="40.60" y1="597.40" x2="43.40" y2="597.40" stroke="#a8a8a8" stroke-width="0.7" />
<text x="38.90" y="601.70" font-family='"Liberation Sans", sans-serif' font-size="6.6" font-weight="normal" text-anchor="end" fill="#111" textLength="3.6" lengthAdjust="spacingAndGlyphs" stroke="#111" stroke-width="0.08" >2</text>
<line x1="40.60" y1="569.00" x2="43.40" y2="569.00" stroke="#a8a8a8" stroke-width="0.7" />
<text x="38.90" y="573.30" font-family='"Liberation Sans", sans-serif' font-size="6.6" font-weight="normal" text-anchor="end" fill="#111" textLength="3.6" lengthAdjust="spacingAndGlyphs" stroke="#111" stroke-width="0.08" >4</text>
<line x1="43.40" y1="626.30" x2="294.20" y2="626.30" stroke="#a8a8a8" stroke-width="0.8" />
<line x1="47.88" y1="626.30" x2="47.88" y2="628.80" stroke="#a8a8a8" stroke-width="0.6" />
<line x1="56.21" y1="626.30" x2="56.21" y2="628.80" stroke="#a8a8a8" stroke-width="0.6" />
<line x1="64.56" y1="626.30" x2="64.56" y2="628.80" stroke="#a8a8a8" stroke-width="0.6" />
<line x1="72.90" y1="626.30" x2="72.90" y2="628.80" stroke="#a8a8a8" stroke-width="0.6" />
<line x1="81.24" y1="626.30" x2="81.24" y2="628.80" stroke="#a8a8a8" stroke-width="0.6" />
<line x1="89.58" y1="626.30" x2="89.58" y2="628.80" stroke="#a8a8a8" stroke-width="0.6" />
<line x1="97.92" y1="626.30" x2="97.92" y2="628.80" stroke="#a8a8a8" stroke-width="0.6" />
<line x1="106.25" y1="626.30" x2="106.25" y2="628.80" stroke="#a8a8a8" stroke-width="0.6" />
<line x1="114.59" y1="626.30" x2="114.59" y2="628.80" stroke="#a8a8a8" stroke-width="0.6" />
<line x1="122.94" y1="626.30" x2="122.94" y2="628.80" stroke="#a8a8a8" stroke-width="0.6" />
<line x1="131.28" y1="626.30" x2="131.28" y2="628.80" stroke="#a8a8a8" stroke-width="0.6" />
<line x1="139.62" y1="626.30" x2="139.62" y2="628.80" stroke="#a8a8a8" stroke-width="0.6" />
<line x1="147.96" y1="626.30" x2="147.96" y2="628.80" stroke="#a8a8a8" stroke-width="0.6" />
<line x1="156.30" y1="626.30" x2="156.30" y2="628.80" stroke="#a8a8a8" stroke-width="0.6" />
<line x1="164.63" y1="626.30" x2="164.63" y2="628.80" stroke="#a8a8a8" stroke-width="0.6" />
<line x1="172.97" y1="626.30" x2="172.97" y2="628.80" stroke="#a8a8a8" stroke-width="0.6" />
<line x1="181.31" y1="626.30" x2="181.31" y2="628.80" stroke="#a8a8a8" stroke-width="0.6" />
<line x1="189.66" y1="626.30" x2="189.66" y2="628.80" stroke="#a8a8a8" stroke-width="0.6" />
<line x1="198.00" y1="626.30" x2="198.00" y2="628.80" stroke="#a8a8a8" stroke-width="0.6" />
<line x1="206.34" y1="626.30" x2="206.34" y2="628.80" stroke="#a8a8a8" stroke-width="0.6" />
<line x1="214.68" y1="626.30" x2="214.68" y2="628.80" stroke="#a8a8a8" stroke-width="0.6" />
<line x1="223.01" y1="626.30" x2="223.01" y2="628.80" stroke="#a8a8a8" stroke-width="0.6" />
<line x1="231.35" y1="626.30" x2="231.35" y2="628.80" stroke="#a8a8a8" stroke-width="0.6" />
<line x1="239.69" y1="626.30" x2="239.69" y2="628.80" stroke="#a8a8a8" stroke-width="0.6" />
<line x1="248.03" y1="626.30" x2="248.03" y2="628.80" stroke="#a8a8a8" stroke-width="0.6" />
<line x1="256.38" y1="626.30" x2="256.38" y2="628.80" stroke="#a8a8a8" stroke-width="0.6" />
<line x1="264.71" y1="626.30" x2="264.71" y2="628.80" stroke="#a8a8a8" stroke-width="0.6" />
<line x1="273.06" y1="626.30" x2="273.06" y2="628.80" stroke="#a8a8a8" stroke-width="0.6" />
<line x1="281.39" y1="626.30" x2="281.39" y2="628.80" stroke="#a8a8a8" stroke-width="0.6" />
<line x1="289.73" y1="626.30" x2="289.73" y2="628.80" stroke="#a8a8a8" stroke-width="0.6" />
<line x1="294.20" y1="626.30" x2="294.20" y2="628.80" stroke="#a8a8a8" stroke-width="0.6" />
<line x1="43.40" y1="626.30" x2="43.40" y2="628.80" stroke="#a8a8a8" stroke-width="0.6" />
<rect x="44.10" y="622.90" width="7.55" height="2.90" fill="#6464fc" />
<rect x="52.44" y="616.80" width="7.55" height="9.00" fill="#6464fc" />
<rect x="60.78" y="618.00" width="7.55" height="7.80" fill="#6464fc" />
<rect x="69.12" y="616.80" width="7.55" height="9.00" fill="#6464fc" />
<rect x="77.46" y="603.90" width="7.55" height="21.90" fill="#6464fc" />
<rect x="85.80" y="619.20" width="7.55" height="6.60" fill="#6464fc" />
<rect x="94.14" y="611.00" width="7.55" height="14.80" fill="#6464fc" />
<rect x="102.48" y="600.20" width="7.55" height="25.60" fill="#6464fc" />
<rect x="110.82" y="620.70" width="7.55" height="5.10" fill="#6464fc" />
<rect x="119.16" y="605.90" width="7.55" height="19.90" fill="#6464fc" />
<rect x="127.50" y="614.10" width="7.55" height="11.70" fill="#6464fc" />
<rect x="135.84" y="612.50" width="7.55" height="13.30" fill="#6464fc" />
<rect x="144.18" y="613.10" width="7.55" height="12.70" fill="#6464fc" />
<rect x="152.52" y="593.10" width="7.55" height="32.70" fill="#6464fc" />
<rect x="160.86" y="612.10" width="7.55" height="13.70" fill="#6464fc" />
<rect x="169.20" y="625.20" width="7.55" height="0.60" fill="#b8b8e8" />
<rect x="177.54" y="620.70" width="7.55" height="5.10" fill="#6464fc" />
<rect x="185.88" y="608.40" width="7.55" height="17.40" fill="#6464fc" />
<rect x="194.22" y="615.10" width="7.55" height="10.70" fill="#6464fc" />
<rect x="202.56" y="605.90" width="7.55" height="19.90" fill="#6464fc" />
<rect x="210.90" y="607.60" width="7.55" height="18.20" fill="#6464fc" />
<rect x="219.24" y="613.70" width="7.55" height="12.10" fill="#6464fc" />
<rect x="227.58" y="621.30" width="7.55" height="4.50" fill="#6464fc" />
<rect x="235.92" y="614.90" width="7.55" height="10.90" fill="#6464fc" />
<rect x="244.26" y="624.10" width="7.55" height="1.70" fill="#6464fc" />
<rect x="252.60" y="621.90" width="7.55" height="3.90" fill="#6464fc" />
<rect x="260.94" y="609.00" width="7.55" height="16.80" fill="#6464fc" />
<rect x="269.28" y="621.50" width="7.55" height="4.30" fill="#6464fc" />
<rect x="277.62" y="625.50" width="7.55" height="0.30" fill="#b8b8e8" />
<rect x="285.96" y="624.80" width="7.55" height="1.00" fill="#6464fc" />
<line x1="43.40" y1="631.10" x2="43.40" y2="715.60" stroke="#a8a8a8" stroke-width="0.8" />
<line x1="40.60" y1="715.60" x2="43.40" y2="715.60" stroke="#a8a8a8" stroke-width="0.7" />
<text x="38.90" y="719.90" font-family='"Liberation Sans", sans-serif' font-size="6.6" font-weight="normal" text-anchor="end" fill="#111" textLength="3.6" lengthAdjust="spacingAndGlyphs" stroke="#111" stroke-width="0.08" >0</text>
<line x1="40.60" y1="686.94" x2="43.40" y2="686.94" stroke="#a8a8a8" stroke-width="0.7" />
<text x="38.90" y="691.24" font-family='"Liberation Sans", sans-serif' font-size="6.6" font-weight="normal" text-anchor="end" fill="#111" textLength="3.6" lengthAdjust="spacingAndGlyphs" stroke="#111" stroke-width="0.08" >2</text>
<line x1="40.60" y1="658.28" x2="43.40" y2="658.28" stroke="#a8a8a8" stroke-width="0.7" />
<text x="38.90" y="662.58" font-family='"Liberation Sans", sans-serif' font-size="6.6" font-weight="normal" text-anchor="end" fill="#111" textLength="3.6" lengthAdjust="spacingAndGlyphs" stroke="#111" stroke-width="0.08" >4</text>
<line x1="43.40" y1="716.10" x2="294.20" y2="716.10" stroke="#a8a8a8" stroke-width="0.8" />
<line x1="47.88" y1="716.10" x2="47.88" y2="718.60" stroke="#a8a8a8" stroke-width="0.6" />
<line x1="56.21" y1="716.10" x2="56.21" y2="718.60" stroke="#a8a8a8" stroke-width="0.6" />
<line x1="64.56" y1="716.10" x2="64.56" y2="718.60" stroke="#a8a8a8" stroke-width="0.6" />
<line x1="72.90" y1="716.10" x2="72.90" y2="718.60" stroke="#a8a8a8" stroke-width="0.6" />
<line x1="81.24" y1="716.10" x2="81.24" y2="718.60" stroke="#a8a8a8" stroke-width="0.6" />
<line x1="89.58" y1="716.10" x2="89.58" y2="718.60" stroke="#a8a8a8" stroke-width="0.6" />
<line x1="97.92" y1="716.10" x2="97.92" y2="718.60" stroke="#a8a8a8" stroke-width="0.6" />
<line x1="106.25" y1="716.10" x2="106.25" y2="718.60" stroke="#a8a8a8" stroke-width="0.6" />
<line x1="114.59" y1="716.10" x2="114.59" y2="718.60" stroke="#a8a8a8" stroke-width="0.6" />
<line x1="122.94" y1="716.10" x2="122.94" y2="718.60" stroke="#a8a8a8" stroke-width="0.6" />
<line x1="131.28" y1="716.10" x2="131.28" y2="718.60" stroke="#a8a8a8" stroke-width="0.6" />
<line x1="139.62" y1="716.10" x2="139.62" y2="718.60" stroke="#a8a8a8" stroke-width="0.6" />
<line x1="147.96" y1="716.10" x2="147.96" y2="718.60" stroke="#a8a8a8" stroke-width="0.6" />
<line x1="156.30" y1="716.10" x2="156.30" y2="718.60" stroke="#a8a8a8" stroke-width="0.6" />
<line x1="164.63" y1="716.10" x2="164.63" y2="718.60" stroke="#a8a8a8" stroke-width="0.6" />
<line x1="172.97" y1="716.10" x2="172.97" y2="718.60" stroke="#a8a8a8" stroke-width="0.6" />
<line x1="181.31" y1="716.10" x2="181.31" y2="718.60" stroke="#a8a8a8" stroke-width="0.6" />
<line x1="189.66" y1="716.10" x2="189.66" y2="718.60" stroke="#a8a8a8" stroke-width="0.6" />
<line x1="198.00" y1="716.10" x2="198.00" y2="718.60" stroke="#a8a8a8" stroke-width="0.6" />
<line x1="206.34" y1="716.10" x2="206.34" y2="718.60" stroke="#a8a8a8" stroke-width="0.6" />
<line x1="214.68" y1="716.10" x2="214.68" y2="718.60" stroke="#a8a8a8" stroke-width="0.6" />
<line x1="223.01" y1="716.10" x2="223.01" y2="718.60" stroke="#a8a8a8" stroke-width="0.6" />
<line x1="231.35" y1="716.10" x2="231.35" y2="718.60" stroke="#a8a8a8" stroke-width="0.6" />
<line x1="239.69" y1="716.10" x2="239.69" y2="718.60" stroke="#a8a8a8" stroke-width="0.6" />
<line x1="248.03" y1="716.10" x2="248.03" y2="718.60" stroke="#a8a8a8" stroke-width="0.6" />
<line x1="256.38" y1="716.10" x2="256.38" y2="718.60" stroke="#a8a8a8" stroke-width="0.6" />
<line x1="264.71" y1="716.10" x2="264.71" y2="718.60" stroke="#a8a8a8" stroke-width="0.6" />
<line x1="273.06" y1="716.10" x2="273.06" y2="718.60" stroke="#a8a8a8" stroke-width="0.6" />
<line x1="281.39" y1="716.10" x2="281.39" y2="718.60" stroke="#a8a8a8" stroke-width="0.6" />
<line x1="289.73" y1="716.10" x2="289.73" y2="718.60" stroke="#a8a8a8" stroke-width="0.6" />
<line x1="294.20" y1="716.10" x2="294.20" y2="718.60" stroke="#a8a8a8" stroke-width="0.6" />
<line x1="43.40" y1="716.10" x2="43.40" y2="718.60" stroke="#a8a8a8" stroke-width="0.6" />
<rect x="44.10" y="632.50" width="7.55" height="83.10" fill="#d42012" />
<rect x="52.44" y="654.10" width="7.55" height="61.50" fill="#d42012" />
<rect x="60.78" y="664.30" width="7.55" height="51.30" fill="#d42012" />
<rect x="69.12" y="674.10" width="7.55" height="41.50" fill="#d42012" />
<rect x="77.46" y="689.50" width="7.55" height="26.10" fill="#6464fc" />
<rect x="85.80" y="677.00" width="7.55" height="38.60" fill="#6464fc" />
<rect x="94.14" y="697.00" width="7.55" height="18.60" fill="#6464fc" />
<rect x="110.82" y="689.30" width="7.55" height="26.30" fill="#6464fc" />
<rect x="119.16" y="709.10" width="7.55" height="6.50" fill="#6464fc" />
<rect x="127.50" y="697.20" width="7.55" height="18.40" fill="#6464fc" />
<rect x="135.84" y="700.90" width="7.55" height="14.70" fill="#6464fc" />
<rect x="144.18" y="699.30" width="7.55" height="16.30" fill="#6464fc" />
<rect x="152.52" y="714.20" width="7.55" height="1.40" fill="#6464fc" />
<rect x="160.86" y="706.40" width="7.55" height="9.20" fill="#6464fc" />
<rect x="169.20" y="692.30" width="7.55" height="23.30" fill="#6464fc" />
<rect x="177.54" y="694.40" width="7.55" height="21.20" fill="#6464fc" />
<rect x="185.88" y="712.20" width="7.55" height="3.40" fill="#6464fc" />
<rect x="194.22" y="703.20" width="7.55" height="12.40" fill="#6464fc" />
<rect x="202.56" y="713.60" width="7.55" height="2.00" fill="#6464fc" />
<rect x="210.90" y="712.80" width="7.55" height="2.80" fill="#6464fc" />
<rect x="219.24" y="714.20" width="7.55" height="1.40" fill="#6464fc" />
<rect x="227.58" y="708.90" width="7.55" height="6.70" fill="#6464fc" />
<rect x="235.92" y="714.00" width="7.55" height="1.60" fill="#6464fc" />
<rect x="244.26" y="704.20" width="7.55" height="11.40" fill="#6464fc" />
<rect x="252.60" y="708.10" width="7.55" height="7.50" fill="#6464fc" />
<rect x="260.94" y="714.70" width="7.55" height="0.90" fill="#6464fc" />
<rect x="277.62" y="700.90" width="7.55" height="14.70" fill="#6464fc" />
<rect x="285.96" y="711.10" width="7.55" height="4.50" fill="#6464fc" />
<line x1="43.40" y1="720.90" x2="43.40" y2="804.40" stroke="#a8a8a8" stroke-width="0.8" />
<line x1="40.60" y1="804.40" x2="43.40" y2="804.40" stroke="#a8a8a8" stroke-width="0.7" />
<text x="38.90" y="808.70" font-family='"Liberation Sans", sans-serif' font-size="6.6" font-weight="normal" text-anchor="end" fill="#111" textLength="3.6" lengthAdjust="spacingAndGlyphs" stroke="#111" stroke-width="0.08" >0</text>
<line x1="40.60" y1="775.70" x2="43.40" y2="775.70" stroke="#a8a8a8" stroke-width="0.7" />
<text x="38.90" y="780.00" font-family='"Liberation Sans", sans-serif' font-size="6.6" font-weight="normal" text-anchor="end" fill="#111" textLength="3.6" lengthAdjust="spacingAndGlyphs" stroke="#111" stroke-width="0.08" >2</text>
<line x1="40.60" y1="747.00" x2="43.40" y2="747.00" stroke="#a8a8a8" stroke-width="0.7" />
<text x="38.90" y="751.30" font-family='"Liberation Sans", sans-serif' font-size="6.6" font-weight="normal" text-anchor="end" fill="#111" textLength="3.6" lengthAdjust="spacingAndGlyphs" stroke="#111" stroke-width="0.08" >4</text>
<line x1="43.40" y1="804.90" x2="294.20" y2="804.90" stroke="#a8a8a8" stroke-width="0.8" />
<line x1="47.88" y1="804.90" x2="47.88" y2="807.40" stroke="#a8a8a8" stroke-width="0.6" />
<line x1="56.21" y1="804.90" x2="56.21" y2="807.40" stroke="#a8a8a8" stroke-width="0.6" />
<line x1="64.56" y1="804.90" x2="64.56" y2="807.40" stroke="#a8a8a8" stroke-width="0.6" />
<line x1="72.90" y1="804.90" x2="72.90" y2="807.40" stroke="#a8a8a8" stroke-width="0.6" />
<line x1="81.24" y1="804.90" x2="81.24" y2="807.40" stroke="#a8a8a8" stroke-width="0.6" />
<line x1="89.58" y1="804.90" x2="89.58" y2="807.40" stroke="#a8a8a8" stroke-width="0.6" />
<line x1="97.92" y1="804.90" x2="97.92" y2="807.40" stroke="#a8a8a8" stroke-width="0.6" />
<line x1="106.25" y1="804.90" x2="106.25" y2="807.40" stroke="#a8a8a8" stroke-width="0.6" />
<line x1="114.59" y1="804.90" x2="114.59" y2="807.40" stroke="#a8a8a8" stroke-width="0.6" />
<line x1="122.94" y1="804.90" x2="122.94" y2="807.40" stroke="#a8a8a8" stroke-width="0.6" />
<line x1="131.28" y1="804.90" x2="131.28" y2="807.40" stroke="#a8a8a8" stroke-width="0.6" />
<line x1="139.62" y1="804.90" x2="139.62" y2="807.40" stroke="#a8a8a8" stroke-width="0.6" />
<line x1="147.96" y1="804.90" x2="147.96" y2="807.40" stroke="#a8a8a8" stroke-width="0.6" />
<line x1="156.30" y1="804.90" x2="156.30" y2="807.40" stroke="#a8a8a8" stroke-width="0.6" />
<line x1="164.63" y1="804.90" x2="164.63" y2="807.40" stroke="#a8a8a8" stroke-width="0.6" />
<line x1="172.97" y1="804.90" x2="172.97" y2="807.40" stroke="#a8a8a8" stroke-width="0.6" />
<line x1="181.31" y1="804.90" x2="181.31" y2="807.40" stroke="#a8a8a8" stroke-width="0.6" />
<line x1="189.66" y1="804.90" x2="189.66" y2="807.40" stroke="#a8a8a8" stroke-width="0.6" />
<line x1="198.00" y1="804.90" x2="198.00" y2="807.40" stroke="#a8a8a8" stroke-width="0.6" />
<line x1="206.34" y1="804.90" x2="206.34" y2="807.40" stroke="#a8a8a8" stroke-width="0.6" />
<line x1="214.68" y1="804.90" x2="214.68" y2="807.40" stroke="#a8a8a8" stroke-width="0.6" />
<line x1="223.01" y1="804.90" x2="223.01" y2="807.40" stroke="#a8a8a8" stroke-width="0.6" />
<line x1="231.35" y1="804.90" x2="231.35" y2="807.40" stroke="#a8a8a8" stroke-width="0.6" />
<line x1="239.69" y1="804.90" x2="239.69" y2="807.40" stroke="#a8a8a8" stroke-width="0.6" />
<line x1="248.03" y1="804.90" x2="248.03" y2="807.40" stroke="#a8a8a8" stroke-width="0.6" />
<line x1="256.38" y1="804.90" x2="256.38" y2="807.40" stroke="#a8a8a8" stroke-width="0.6" />
<line x1="264.71" y1="804.90" x2="264.71" y2="807.40" stroke="#a8a8a8" stroke-width="0.6" />
<line x1="273.06" y1="804.90" x2="273.06" y2="807.40" stroke="#a8a8a8" stroke-width="0.6" />
<line x1="281.39" y1="804.90" x2="281.39" y2="807.40" stroke="#a8a8a8" stroke-width="0.6" />
<line x1="289.73" y1="804.90" x2="289.73" y2="807.40" stroke="#a8a8a8" stroke-width="0.6" />
<line x1="294.20" y1="804.90" x2="294.20" y2="807.40" stroke="#a8a8a8" stroke-width="0.6" />
<line x1="43.40" y1="804.90" x2="43.40" y2="807.40" stroke="#a8a8a8" stroke-width="0.6" />
<rect x="44.10" y="722.30" width="7.55" height="82.10" fill="#d42012" />
<rect x="52.44" y="735.30" width="7.55" height="69.10" fill="#d42012" />
<rect x="60.78" y="750.10" width="7.55" height="54.30" fill="#d42012" />
<rect x="69.12" y="756.40" width="7.55" height="48.00" fill="#d42012" />
<rect x="77.46" y="760.90" width="7.55" height="43.50" fill="#d42012" />
<rect x="85.80" y="765.80" width="7.55" height="38.60" fill="#6464fc" />
<rect x="94.14" y="777.00" width="7.55" height="27.40" fill="#6464fc" />
<rect x="102.48" y="779.70" width="7.55" height="24.70" fill="#6464fc" />
<rect x="110.82" y="782.10" width="7.55" height="22.30" fill="#6464fc" />
<rect x="119.16" y="783.00" width="7.55" height="21.40" fill="#6464fc" />
<rect x="127.50" y="783.40" width="7.55" height="21.00" fill="#6464fc" />
<rect x="135.84" y="783.60" width="7.55" height="20.80" fill="#6464fc" />
<rect x="144.18" y="784.00" width="7.55" height="20.40" fill="#6464fc" />
<rect x="152.52" y="785.20" width="7.55" height="19.20" fill="#6464fc" />
<rect x="160.86" y="786.40" width="7.55" height="18.00" fill="#6464fc" />
<rect x="169.20" y="787.40" width="7.55" height="17.00" fill="#6464fc" />
<rect x="177.54" y="788.10" width="7.55" height="16.30" fill="#6464fc" />
<rect x="185.88" y="788.10" width="7.55" height="16.30" fill="#6464fc" />
<rect x="194.22" y="788.50" width="7.55" height="15.90" fill="#6464fc" />
<rect x="202.56" y="792.80" width="7.55" height="11.60" fill="#6464fc" />
<rect x="210.90" y="793.00" width="7.55" height="11.40" fill="#6464fc" />
<rect x="219.24" y="795.00" width="7.55" height="9.40" fill="#6464fc" />
<rect x="227.58" y="797.30" width="7.55" height="7.10" fill="#6464fc" />
<rect x="235.92" y="798.10" width="7.55" height="6.30" fill="#6464fc" />
<rect x="244.26" y="798.30" width="7.55" height="6.10" fill="#6464fc" />
<rect x="252.60" y="798.30" width="7.55" height="6.10" fill="#6464fc" />
<rect x="260.94" y="799.30" width="7.55" height="5.10" fill="#6464fc" />
<rect x="269.28" y="800.10" width="7.55" height="4.30" fill="#6464fc" />
<rect x="277.62" y="801.80" width="7.55" height="2.60" fill="#6464fc" />
<rect x="285.96" y="803.20" width="7.55" height="1.20" fill="#6464fc" />
<text transform="translate(52.98,810.40) rotate(-68)" font-family='"Liberation Sans", sans-serif' font-size="6.2" text-anchor="end" fill="#111" stroke="#111" stroke-width="0.08">Heart</text>
<text transform="translate(61.31,810.40) rotate(-68)" font-family='"Liberation Sans", sans-serif' font-size="6.2" text-anchor="end" fill="#111" stroke="#111" stroke-width="0.08">Pancreas</text>
<text transform="translate(69.66,810.40) rotate(-68)" font-family='"Liberation Sans", sans-serif' font-size="6.2" text-anchor="end" fill="#111" stroke="#111" stroke-width="0.08">Kidney</text>
<text transform="translate(78.00,810.40) rotate(-68)" font-family='"Liberation Sans", sans-serif' font-size="6.2" text-anchor="end" fill="#111" stroke="#111" stroke-width="0.08">Liver</text>
<text transform="translate(86.34,810.40) rotate(-68)" font-family='"Liberation Sans", sans-serif' font-size="6.2" text-anchor="end" fill="#111" stroke="#111" stroke-width="0.08">Adrenal_Gland</text>
<text transform="translate(94.68,810.40) rotate(-68)" font-family='"Liberation Sans", sans-serif' font-size="6.2" text-anchor="end" fill="#111" stroke="#111" stroke-width="0.08">Brain</text>
<text transform="translate(103.02,810.40) rotate(-68)" font-family='"Liberation Sans", sans-serif' font-size="6.2" text-anchor="end" fill="#111" stroke="#111" stroke-width="0.08">Blood_Vessel</text>
<text transform="translate(111.35,810.40) rotate(-68)" font-family='"Liberation Sans", sans-serif' font-size="6.2" text-anchor="end" fill="#111" stroke="#111" stroke-width="0.08">Cervix_Uteri</text>
<text transform="translate(119.69,810.40) rotate(-68)" font-family='"Liberation Sans", sans-serif' font-size="6.2" text-anchor="end" fill="#111" stroke="#111" stroke-width="0.08">Colon</text>
<text transform="translate(128.03,810.40) rotate(-68)" font-family='"Liberation Sans", sans-serif' font-size="6.2" text-anchor="end" fill="#111" stroke="#111" stroke-width="0.08">Vagina</text>
<text transform="translate(136.38,810.40) rotate(-68)" font-family='"Liberation Sans", sans-serif' font-size="6.2" text-anchor="end" fill="#111" stroke="#111" stroke-width="0.08">Thyroid</text>
<text transform="translate(144.72,810.40) rotate(-68)" font-family='"Liberation Sans", sans-serif' font-size="6.2" text-anchor="end" fill="#111" stroke="#111" stroke-width="0.08">Prostate</text>
<text transform="translate(153.06,810.40) rotate(-68)" font-family='"Liberation Sans", sans-serif' font-size="6.2" text-anchor="end" fill="#111" stroke="#111" stroke-width="0.08">Nerve</text>
<text transform="translate(161.40,810.40) rotate(-68)" font-family='"Liberation Sans", sans-serif' font-size="6.2" text-anchor="end" fill="#111" stroke="#111" stroke-width="0.08">Skin</text>
<text transform="translate(169.73,810.40) rotate(-68)" font-family='"Liberation Sans", sans-serif' font-size="6.2" text-anchor="end" fill="#111" stroke="#111" stroke-width="0.08">Breast</text>
<text transform="translate(178.07,810.40) rotate(-68)" font-family='"Liberation Sans", sans-serif' font-size="6.2" text-anchor="end" fill="#111" stroke="#111" stroke-width="0.08">Muscle</text>
<text transform="translate(186.41,810.40) rotate(-68)" font-family='"Liberation Sans", sans-serif' font-size="6.2" text-anchor="end" fill="#111" stroke="#111" stroke-width="0.08">Spleen</text>
<text transform="translate(194.75,810.40) rotate(-68)" font-family='"Liberation Sans", sans-serif' font-size="6.2" text-anchor="end" fill="#111" stroke="#111" stroke-width="0.08">Ovary</text>
<text transform="translate(203.09,810.40) rotate(-68)" font-family='"Liberation Sans", sans-serif' font-size="6.2" text-anchor="end" fill="#111" stroke="#111" stroke-width="0.08">Uterus</text>
<text transform="translate(211.44,810.40) rotate(-68)" font-family='"Liberation Sans", sans-serif' font-size="6.2" text-anchor="end" fill="#111" stroke="#111" stroke-width="0.08">Salivary_Gland</text>
<text transform="translate(219.78,810.40) rotate(-68)" font-family='"Liberation Sans", sans-serif' font-size="6.2" text-anchor="end" fill="#111" stroke="#111" stroke-width="0.08">Esophagus</text>
<text transform="translate(228.11,810.40) rotate(-68)" font-family='"Liberation Sans", sans-serif' font-size="6.2" text-anchor="end" fill="#111" stroke="#111" stroke-width="0.08">Lung</text>
<text transform="translate(236.45,810.40) rotate(-68)" font-family='"Liberation Sans", sans-serif' font-size="6.2" text-anchor="end" fill="#111" stroke="#111" stroke-width="0.08">Blood</text>
<text transform="translate(244.79,810.40) rotate(-68)" font-family='"Liberation Sans", sans-serif' font-size="6.2" text-anchor="end" fill="#111" stroke="#111" stroke-width="0.08">Adipose_Tissue</text>
<text transform="translate(253.13,810.40) rotate(-68)" font-family='"Liberation Sans", sans-serif' font-size="6.2" text-anchor="end" fill="#111" stroke="#111" stroke-width="0.08">Small_Intestine</text>
<text transform="translate(261.48,810.40) rotate(-68)" font-family='"Liberation Sans", sans-serif' font-size="6.2" text-anchor="end" fill="#111" stroke="#111" stroke-width="0.08">Bladder</text>
<text transform="translate(269.81,810.40) rotate(-68)" font-family='"Liberation Sans", sans-serif' font-size="6.2" text-anchor="end" fill="#111" stroke="#111" stroke-width="0.08">Stomach</text>
<text transform="translate(278.16,810.40) rotate(-68)" font-family='"Liberation Sans", sans-serif' font-size="6.2" text-anchor="end" fill="#111" stroke="#111" stroke-width="0.08">Fallopian_Tube</text>
<text transform="translate(286.50,810.40) rotate(-68)" font-family='"Liberation Sans", sans-serif' font-size="6.2" text-anchor="end" fill="#111" stroke="#111" stroke-width="0.08">Pituitary</text>
<text transform="translate(294.83,810.40) rotate(-68)" font-family='"Liberation Sans", sans-serif' font-size="6.2" text-anchor="end" fill="#111" stroke="#111" stroke-width="0.08">Testis</text>
<text transform="translate(24.00,673.70) rotate(-90)" font-family='"Liberation Sans", sans-serif' font-size="6.6" text-anchor="middle" fill="#111" textLength="46" lengthAdjust="spacingAndGlyphs">-log 10 P-value</text>
<text transform="translate(302.50,584.60) rotate(90)" font-family='"Liberation Sans", sans-serif' font-size="6.6" text-anchor="middle" fill="#111" textLength="56" lengthAdjust="spacingAndGlyphs">Up-regulated DEG</text>
<text transform="translate(302.50,676.70) rotate(90)" font-family='"Liberation Sans", sans-serif' font-size="6.6" text-anchor="middle" fill="#111" textLength="71" lengthAdjust="spacingAndGlyphs">Down-regulated DEG</text>
<text transform="translate(302.50,766.00) rotate(90)" font-family='"Liberation Sans", sans-serif' font-size="6.6" text-anchor="middle" fill="#111" textLength="55" lengthAdjust="spacingAndGlyphs">DEG (both side)</text>
<text x="332.00" y="339.80" font-family='"Liberation Serif", serif' font-size="11.4" font-weight="bold" text-anchor="start" fill="#000"  >(E)</text>
<text x="498.70" y="339.50" font-family='"Liberation Serif", serif' font-size="8.95" font-weight="bold" text-anchor="middle" fill="#000" textLength="277" lengthAdjust="spacingAndGlyphs" >Cell-type-specific gene enrichment results of identified 11 GDM genes by</text>
<text x="498.50" y="350.20" font-family='"Liberation Serif", serif' font-size="8.95" font-weight="bold" text-anchor="middle" fill="#000"  >UTMOST</text>
<text x="483.50" y="362.60" font-family='"Liberation Sans", sans-serif' font-size="5.6" font-weight="normal" text-anchor="middle" fill="#111"  textLength="60.00" lengthAdjust="spacingAndGlyphs" stroke="#111" stroke-width="0.12" >Top20 general cell types</text>
<rect x="346.5" y="366.7" width="273.79999999999995" height="183.50000000000006" fill="none" stroke="#a2a2a2" stroke-width="0.8"/>
<line x1="346.50" y1="417.50" x2="620.30" y2="417.50" stroke="#9a9a9a" stroke-width="0.9" />
<line x1="344.50" y1="542.20" x2="346.50" y2="542.20" stroke="#666" stroke-width="0.6" />
<text transform="translate(343.50,542.20) rotate(-90)" font-family='"Liberation Sans", sans-serif' font-size="4.2" text-anchor="middle" fill="#444" stroke="#444" stroke-width="0.08">0</text>
<line x1="344.50" y1="500.65" x2="346.50" y2="500.65" stroke="#666" stroke-width="0.6" />
<text transform="translate(343.50,500.65) rotate(-90)" font-family='"Liberation Sans", sans-serif' font-size="4.2" text-anchor="middle" fill="#444" stroke="#444" stroke-width="0.08">1</text>
<line x1="344.50" y1="459.10" x2="346.50" y2="459.10" stroke="#666" stroke-width="0.6" />
<text transform="translate(343.50,459.10) rotate(-90)" font-family='"Liberation Sans", sans-serif' font-size="4.2" text-anchor="middle" fill="#444" stroke="#444" stroke-width="0.08">2</text>
<line x1="344.50" y1="417.55" x2="346.50" y2="417.55" stroke="#666" stroke-width="0.6" />
<text transform="translate(343.50,417.55) rotate(-90)" font-family='"Liberation Sans", sans-serif' font-size="4.2" text-anchor="middle" fill="#444" stroke="#444" stroke-width="0.08">3</text>
<line x1="344.50" y1="376.00" x2="346.50" y2="376.00" stroke="#666" stroke-width="0.6" />
<text transform="translate(343.50,376.00) rotate(-90)" font-family='"Liberation Sans", sans-serif' font-size="4.2" text-anchor="middle" fill="#444" stroke="#444" stroke-width="0.08">4</text>
<line x1="354.30" y1="550.20" x2="354.30" y2="552.20" stroke="#a2a2a2" stroke-width="0.6" />
<text transform="translate(356.30,555.40) rotate(-45)" font-family='"Liberation Sans", sans-serif' font-size="3.95" text-anchor="end" fill="#333" stroke="#333" stroke-width="0.08">Mast cell</text>
<line x1="367.90" y1="550.20" x2="367.90" y2="552.20" stroke="#a2a2a2" stroke-width="0.6" />
<text transform="translate(369.90,555.40) rotate(-45)" font-family='"Liberation Sans", sans-serif' font-size="3.95" text-anchor="end" fill="#333" stroke="#333" stroke-width="0.08">Epithelial cell</text>
<line x1="381.50" y1="550.20" x2="381.50" y2="552.20" stroke="#a2a2a2" stroke-width="0.6" />
<text transform="translate(383.50,555.40) rotate(-45)" font-family='"Liberation Sans", sans-serif' font-size="3.95" text-anchor="end" fill="#333" stroke="#333" stroke-width="0.08">Acinar cell</text>
<line x1="395.10" y1="550.20" x2="395.10" y2="552.20" stroke="#a2a2a2" stroke-width="0.6" />
<text transform="translate(397.10,555.40) rotate(-45)" font-family='"Liberation Sans", sans-serif' font-size="3.95" text-anchor="end" fill="#333" stroke="#333" stroke-width="0.08">Macrophage</text>
<line x1="408.70" y1="550.20" x2="408.70" y2="552.20" stroke="#a2a2a2" stroke-width="0.6" />
<text transform="translate(410.70,555.40) rotate(-45)" font-family='"Liberation Sans", sans-serif' font-size="3.95" text-anchor="end" fill="#333" stroke="#333" stroke-width="0.08">Pericyte cell</text>
<line x1="422.30" y1="550.20" x2="422.30" y2="552.20" stroke="#a2a2a2" stroke-width="0.6" />
<text transform="translate(424.30,555.40) rotate(-45)" font-family='"Liberation Sans", sans-serif' font-size="3.95" text-anchor="end" fill="#333" stroke="#333" stroke-width="0.08">Smooth muscle cell</text>
<line x1="435.90" y1="550.20" x2="435.90" y2="552.20" stroke="#a2a2a2" stroke-width="0.6" />
<text transform="translate(437.90,555.40) rotate(-45)" font-family='"Liberation Sans", sans-serif' font-size="3.95" text-anchor="end" fill="#333" stroke="#333" stroke-width="0.08">T cell</text>
<line x1="449.50" y1="550.20" x2="449.50" y2="552.20" stroke="#a2a2a2" stroke-width="0.6" />
<text transform="translate(451.50,555.40) rotate(-45)" font-family='"Liberation Sans", sans-serif' font-size="3.95" text-anchor="end" fill="#333" stroke="#333" stroke-width="0.08">Enterocyte</text>
<line x1="463.10" y1="550.20" x2="463.10" y2="552.20" stroke="#a2a2a2" stroke-width="0.6" />
<text transform="translate(465.10,555.40) rotate(-45)" font-family='"Liberation Sans", sans-serif' font-size="3.95" text-anchor="end" fill="#333" stroke="#333" stroke-width="0.08">Hematopoietic stem cell</text>
<line x1="476.70" y1="550.20" x2="476.70" y2="552.20" stroke="#a2a2a2" stroke-width="0.6" />
<text transform="translate(478.70,555.40) rotate(-45)" font-family='"Liberation Sans", sans-serif' font-size="3.95" text-anchor="end" fill="#333" stroke="#333" stroke-width="0.08">Myometrial cell</text>
<line x1="490.30" y1="550.20" x2="490.30" y2="552.20" stroke="#a2a2a2" stroke-width="0.6" />
<text transform="translate(492.30,555.40) rotate(-45)" font-family='"Liberation Sans", sans-serif' font-size="3.95" text-anchor="end" fill="#333" stroke="#333" stroke-width="0.08">Endothelial cell</text>
<line x1="503.90" y1="550.20" x2="503.90" y2="552.20" stroke="#a2a2a2" stroke-width="0.6" />
<text transform="translate(505.90,555.40) rotate(-45)" font-family='"Liberation Sans", sans-serif' font-size="3.95" text-anchor="end" fill="#333" stroke="#333" stroke-width="0.08">Natural killer cell</text>
<line x1="517.50" y1="550.20" x2="517.50" y2="552.20" stroke="#a2a2a2" stroke-width="0.6" />
<text transform="translate(519.50,555.40) rotate(-45)" font-family='"Liberation Sans", sans-serif' font-size="3.95" text-anchor="end" fill="#333" stroke="#333" stroke-width="0.08">Trophoblast cell</text>
<line x1="531.10" y1="550.20" x2="531.10" y2="552.20" stroke="#a2a2a2" stroke-width="0.6" />
<text transform="translate(533.10,555.40) rotate(-45)" font-family='"Liberation Sans", sans-serif' font-size="3.95" text-anchor="end" fill="#333" stroke="#333" stroke-width="0.08">Stromal cell</text>
<line x1="544.70" y1="550.20" x2="544.70" y2="552.20" stroke="#a2a2a2" stroke-width="0.6" />
<text transform="translate(546.70,555.40) rotate(-45)" font-family='"Liberation Sans", sans-serif' font-size="3.95" text-anchor="end" fill="#333" stroke="#333" stroke-width="0.08">Fibroblast</text>
<line x1="558.30" y1="550.20" x2="558.30" y2="552.20" stroke="#a2a2a2" stroke-width="0.6" />
<text transform="translate(560.30,555.40) rotate(-45)" font-family='"Liberation Sans", sans-serif' font-size="3.95" text-anchor="end" fill="#333" stroke="#333" stroke-width="0.08">Mesenchymal stem cell</text>
<line x1="571.90" y1="550.20" x2="571.90" y2="552.20" stroke="#a2a2a2" stroke-width="0.6" />
<text transform="translate(573.90,555.40) rotate(-45)" font-family='"Liberation Sans", sans-serif' font-size="3.95" text-anchor="end" fill="#333" stroke="#333" stroke-width="0.08">Transit amplifying cell</text>
<line x1="585.50" y1="550.20" x2="585.50" y2="552.20" stroke="#a2a2a2" stroke-width="0.6" />
<text transform="translate(587.50,555.40) rotate(-45)" font-family='"Liberation Sans", sans-serif' font-size="3.95" text-anchor="end" fill="#333" stroke="#333" stroke-width="0.08">Paneth cell</text>
<line x1="599.10" y1="550.20" x2="599.10" y2="552.20" stroke="#a2a2a2" stroke-width="0.6" />
<text transform="translate(601.10,555.40) rotate(-45)" font-family='"Liberation Sans", sans-serif' font-size="3.95" text-anchor="end" fill="#333" stroke="#333" stroke-width="0.08">Intestinal tuft cell</text>
<line x1="612.70" y1="550.20" x2="612.70" y2="552.20" stroke="#a2a2a2" stroke-width="0.6" />
<text transform="translate(614.70,555.40) rotate(-45)" font-family='"Liberation Sans", sans-serif' font-size="3.95" text-anchor="end" fill="#333" stroke="#333" stroke-width="0.08">Intestinal crypt stem cell</text>
<text x="482.90" y="589.80" font-family='"Liberation Sans", sans-serif' font-size="4.9" font-weight="normal" text-anchor="middle" fill="#111"  textLength="39.20" lengthAdjust="spacingAndGlyphs" stroke="#111" stroke-width="0.12" >General_cell_type</text>
<text transform="translate(339.60,459.00) rotate(-90)" font-family='"Liberation Sans", sans-serif' font-size="4.8" text-anchor="middle" fill="#111" textLength="46" lengthAdjust="spacingAndGlyphs">input_list_raw_log10p</text>
<text x="627.50" y="384.50" font-family='"Liberation Sans", sans-serif' font-size="4.7" font-weight="normal" text-anchor="start" fill="#111"  textLength="38.00" lengthAdjust="spacingAndGlyphs" stroke="#111" stroke-width="0.1" >General_cell_type</text>
<rect x="630.45" y="390.05" width="1.50" height="1.50" fill="#440154"/>
<text x="637.20" y="392.25" font-family='"Liberation Sans", sans-serif' font-size="4.03" font-weight="normal" text-anchor="start" fill="#222"  stroke="#222" stroke-width="0.1" >Mast cell</text>
<rect x="630.45" y="397.56" width="1.50" height="1.50" fill="#461365"/>
<text x="637.20" y="399.76" font-family='"Liberation Sans", sans-serif' font-size="4.03" font-weight="normal" text-anchor="start" fill="#222"  stroke="#222" stroke-width="0.1" >Epithelial cell</text>
<rect x="630.45" y="405.07" width="1.50" height="1.50" fill="#482676"/>
<text x="637.20" y="407.27" font-family='"Liberation Sans", sans-serif' font-size="4.03" font-weight="normal" text-anchor="start" fill="#222"  stroke="#222" stroke-width="0.1" >Acinar cell</text>
<rect x="630.45" y="412.58" width="1.50" height="1.50" fill="#44377f"/>
<text x="637.20" y="414.78" font-family='"Liberation Sans", sans-serif' font-size="4.03" font-weight="normal" text-anchor="start" fill="#222"  stroke="#222" stroke-width="0.1" >Macrophage</text>
<rect x="630.45" y="420.09" width="1.50" height="1.50" fill="#404788"/>
<text x="637.20" y="422.29" font-family='"Liberation Sans", sans-serif' font-size="4.03" font-weight="normal" text-anchor="start" fill="#222"  stroke="#222" stroke-width="0.1" >Pericyte cell</text>
<rect x="630.45" y="427.60" width="1.50" height="1.50" fill="#39558b"/>
<text x="637.20" y="429.80" font-family='"Liberation Sans", sans-serif' font-size="4.03" font-weight="normal" text-anchor="start" fill="#222"  stroke="#222" stroke-width="0.1" >Smooth muscle cell</text>
<rect x="630.45" y="435.11" width="1.50" height="1.50" fill="#33638d"/>
<text x="637.20" y="437.31" font-family='"Liberation Sans", sans-serif' font-size="4.03" font-weight="normal" text-anchor="start" fill="#222"  stroke="#222" stroke-width="0.1" >T cell</text>
<rect x="630.45" y="442.62" width="1.50" height="1.50" fill="#2d708e"/>
<text x="637.20" y="444.82" font-family='"Liberation Sans", sans-serif' font-size="4.03" font-weight="normal" text-anchor="start" fill="#222"  stroke="#222" stroke-width="0.1" >Enterocyte</text>
<rect x="630.45" y="450.13" width="1.50" height="1.50" fill="#287d8e"/>
<text x="637.20" y="452.33" font-family='"Liberation Sans", sans-serif' font-size="4.03" font-weight="normal" text-anchor="start" fill="#222"  stroke="#222" stroke-width="0.1" >Hematopoietic stem cell</text>
<rect x="630.45" y="457.64" width="1.50" height="1.50" fill="#238a8d"/>
<text x="637.20" y="459.84" font-family='"Liberation Sans", sans-serif' font-size="4.03" font-weight="normal" text-anchor="start" fill="#222"  stroke="#222" stroke-width="0.1" >Myometrial cell</text>
<rect x="630.45" y="465.15" width="1.50" height="1.50" fill="#21978a"/>
<text x="637.20" y="467.35" font-family='"Liberation Sans", sans-serif' font-size="4.03" font-weight="normal" text-anchor="start" fill="#222"  stroke="#222" stroke-width="0.1" >Endothelial cell</text>
<rect x="630.45" y="472.66" width="1.50" height="1.50" fill="#22a386"/>
<text x="637.20" y="474.86" font-family='"Liberation Sans", sans-serif' font-size="4.03" font-weight="normal" text-anchor="start" fill="#222"  stroke="#222" stroke-width="0.1" >Natural killer cell</text>
<rect x="630.45" y="480.17" width="1.50" height="1.50" fill="#2daf7e"/>
<text x="637.20" y="482.37" font-family='"Liberation Sans", sans-serif' font-size="4.03" font-weight="normal" text-anchor="start" fill="#222"  stroke="#222" stroke-width="0.1" >Trophoblast cell</text>
<rect x="630.45" y="487.68" width="1.50" height="1.50" fill="#3fbb73"/>
<text x="637.20" y="489.88" font-family='"Liberation Sans", sans-serif' font-size="4.03" font-weight="normal" text-anchor="start" fill="#222"  stroke="#222" stroke-width="0.1" >Stromal cell</text>
<rect x="630.45" y="495.19" width="1.50" height="1.50" fill="#58c665"/>
<text x="637.20" y="497.39" font-family='"Liberation Sans", sans-serif' font-size="4.03" font-weight="normal" text-anchor="start" fill="#222"  stroke="#222" stroke-width="0.1" >Fibroblast</text>
<rect x="630.45" y="502.70" width="1.50" height="1.50" fill="#74cf54"/>
<text x="637.20" y="504.90" font-family='"Liberation Sans", sans-serif' font-size="4.03" font-weight="normal" text-anchor="start" fill="#222"  stroke="#222" stroke-width="0.1" >Mesenchymal stem cell</text>
<rect x="630.45" y="510.21" width="1.50" height="1.50" fill="#96d73f"/>
<text x="637.20" y="512.41" font-family='"Liberation Sans", sans-serif' font-size="4.03" font-weight="normal" text-anchor="start" fill="#222"  stroke="#222" stroke-width="0.1" >Transit amplifying cell</text>
<rect x="630.45" y="517.72" width="1.50" height="1.50" fill="#b9de28"/>
<text x="637.20" y="519.92" font-family='"Liberation Sans", sans-serif' font-size="4.03" font-weight="normal" text-anchor="start" fill="#222"  stroke="#222" stroke-width="0.1" >Paneth cell</text>
<rect x="630.45" y="525.23" width="1.50" height="1.50" fill="#dbe326"/>
<text x="637.20" y="527.43" font-family='"Liberation Sans", sans-serif' font-size="4.03" font-weight="normal" text-anchor="start" fill="#222"  stroke="#222" stroke-width="0.1" >Intestinal tuft cell</text>
<rect x="630.45" y="532.74" width="1.50" height="1.50" fill="#fde725"/>
<text x="637.20" y="534.94" font-family='"Liberation Sans", sans-serif' font-size="4.03" font-weight="normal" text-anchor="start" fill="#222"  stroke="#222" stroke-width="0.1" >Intestinal crypt stem cell</text>
<text x="351.90" y="423.40" font-family='"Liberation Sans", sans-serif' font-size="4.0" font-weight="normal" text-anchor="start" fill="#4a1468"  textLength="15.80" lengthAdjust="spacingAndGlyphs" stroke="#4a1468" stroke-width="0.12" >mast cell</text>
<text x="365.90" y="430.00" font-family='"Liberation Sans", sans-serif' font-size="4.0" font-weight="normal" text-anchor="start" fill="#4a1468"  textLength="36.40" lengthAdjust="spacingAndGlyphs" stroke="#4a1468" stroke-width="0.12" >corneal epithelial cell</text>
<text x="368.00" y="459.90" font-family='"Liberation Sans", sans-serif' font-size="4.0" font-weight="normal" text-anchor="start" fill="#47307a"  textLength="17.40" lengthAdjust="spacingAndGlyphs" stroke="#47307a" stroke-width="0.1" >acinar cell</text>
<text x="410.50" y="459.90" font-family='"Liberation Sans", sans-serif' font-size="4.0" font-weight="normal" text-anchor="start" fill="#3b4a8a"  textLength="54.60" lengthAdjust="spacingAndGlyphs" stroke="#3b4a8a" stroke-width="0.1" >decidual perivascular cell (dP2)</text>
<text x="375.40" y="466.90" font-family='"Liberation Sans", sans-serif' font-size="4.0" font-weight="normal" text-anchor="start" fill="#433a83"  textLength="48.40" lengthAdjust="spacingAndGlyphs" stroke="#433a83" stroke-width="0.1" >decidual macrophage (dM2)</text>
<rect x="358.75" y="424.05" width="1.30" height="1.30" fill="#440154"/>
<rect x="365.55" y="424.05" width="1.30" height="1.30" fill="#461365"/>
<rect x="352.65" y="460.45" width="1.30" height="1.30" fill="#440154"/>
<rect x="384.75" y="460.45" width="1.30" height="1.30" fill="#482676"/>
<rect x="392.85" y="460.45" width="1.30" height="1.30" fill="#44377f"/>
<rect x="405.75" y="460.45" width="1.30" height="1.30" fill="#404788"/>
<rect x="415.95" y="460.45" width="1.30" height="1.30" fill="#39558b"/>
<rect x="432.95" y="460.45" width="1.30" height="1.30" fill="#33638d"/>
<rect x="450.35" y="460.45" width="1.30" height="1.30" fill="#2d708e"/>
<rect x="457.85" y="460.45" width="1.30" height="1.30" fill="#287d8e"/>
<rect x="354.05" y="465.55" width="1.30" height="1.30" fill="#440154"/>
<rect x="355.35" y="465.55" width="1.30" height="1.30" fill="#440154"/>
<rect x="356.75" y="465.55" width="1.30" height="1.30" fill="#440154"/>
<rect x="361.85" y="465.55" width="1.30" height="1.30" fill="#461365"/>
<rect x="423.15" y="465.55" width="1.30" height="1.30" fill="#39558b"/>
<rect x="430.35" y="465.55" width="1.30" height="1.30" fill="#33638d"/>
<rect x="435.45" y="465.55" width="1.30" height="1.30" fill="#33638d"/>
<rect x="478.35" y="465.95" width="1.30" height="1.30" fill="#238a8d"/>
<rect x="488.55" y="465.95" width="1.30" height="1.30" fill="#21978a"/>
<rect x="503.75" y="465.95" width="1.30" height="1.30" fill="#22a386"/>
<rect x="354.65" y="497.25" width="1.30" height="1.30" fill="#440154"/>
<rect x="376.15" y="497.25" width="1.30" height="1.30" fill="#482676"/>
<rect x="388.85" y="497.25" width="1.30" height="1.30" fill="#44377f"/>
<rect x="410.45" y="497.25" width="1.30" height="1.30" fill="#404788"/>
<rect x="436.35" y="497.25" width="1.30" height="1.30" fill="#33638d"/>
<rect x="487.45" y="497.25" width="1.30" height="1.30" fill="#21978a"/>
<rect x="496.35" y="497.25" width="1.30" height="1.30" fill="#21978a"/>
<rect x="499.35" y="497.25" width="1.30" height="1.30" fill="#22a386"/>
<rect x="502.15" y="497.25" width="1.30" height="1.30" fill="#22a386"/>
<rect x="506.65" y="497.25" width="1.30" height="1.30" fill="#22a386"/>
<rect x="520.95" y="497.25" width="1.30" height="1.30" fill="#2daf7e"/>
<rect x="531.55" y="497.25" width="1.30" height="1.30" fill="#3fbb73"/>
<rect x="544.45" y="497.25" width="1.30" height="1.30" fill="#58c665"/>
<rect x="554.25" y="497.25" width="1.30" height="1.30" fill="#74cf54"/>
<rect x="565.55" y="497.25" width="1.30" height="1.30" fill="#96d73f"/>
<rect x="583.65" y="497.25" width="1.30" height="1.30" fill="#b9de28"/>
<rect x="597.25" y="497.25" width="1.30" height="1.30" fill="#dbe326"/>
<rect x="609.25" y="497.25" width="1.30" height="1.30" fill="#fde725"/>
<rect x="612.35" y="497.25" width="1.30" height="1.30" fill="#fde725"/>
<rect x="355.65" y="500.35" width="1.30" height="1.30" fill="#440154"/>
<rect x="357.15" y="500.35" width="1.30" height="1.30" fill="#440154"/>
<rect x="358.75" y="500.35" width="1.30" height="1.30" fill="#440154"/>
<rect x="364.85" y="500.35" width="1.30" height="1.30" fill="#461365"/>
<rect x="377.15" y="500.35" width="1.30" height="1.30" fill="#482676"/>
<rect x="381.25" y="500.35" width="1.30" height="1.30" fill="#482676"/>
<rect x="398.05" y="500.35" width="1.30" height="1.30" fill="#44377f"/>
<rect x="402.75" y="500.35" width="1.30" height="1.30" fill="#404788"/>
<rect x="404.85" y="500.35" width="1.30" height="1.30" fill="#404788"/>
<rect x="406.85" y="500.35" width="1.30" height="1.30" fill="#404788"/>
<rect x="408.85" y="500.35" width="1.30" height="1.30" fill="#404788"/>
<rect x="415.95" y="500.35" width="1.30" height="1.30" fill="#39558b"/>
<rect x="417.65" y="500.35" width="1.30" height="1.30" fill="#39558b"/>
<rect x="419.35" y="500.35" width="1.30" height="1.30" fill="#39558b"/>
<rect x="421.05" y="500.35" width="1.30" height="1.30" fill="#39558b"/>
<rect x="425.15" y="500.35" width="1.30" height="1.30" fill="#39558b"/>
<rect x="427.25" y="500.35" width="1.30" height="1.30" fill="#39558b"/>
<rect x="439.45" y="500.35" width="1.30" height="1.30" fill="#33638d"/>
<rect x="483.35" y="500.35" width="1.30" height="1.30" fill="#21978a"/>
<rect x="484.85" y="500.35" width="1.30" height="1.30" fill="#21978a"/>
<rect x="486.35" y="500.35" width="1.30" height="1.30" fill="#21978a"/>
<rect x="487.85" y="500.35" width="1.30" height="1.30" fill="#21978a"/>
<rect x="489.35" y="500.35" width="1.30" height="1.30" fill="#21978a"/>
<rect x="493.15" y="500.35" width="1.30" height="1.30" fill="#21978a"/>
<rect x="497.65" y="500.35" width="1.30" height="1.30" fill="#22a386"/>
<rect x="503.35" y="500.35" width="1.30" height="1.30" fill="#22a386"/>
<rect x="540.65" y="500.35" width="1.30" height="1.30" fill="#58c665"/>
<rect x="357.35" y="526.79" width="1.30" height="1.30" fill="#440154"/>
<rect x="358.35" y="526.96" width="1.30" height="1.30" fill="#440154"/>
<rect x="359.35" y="526.21" width="1.30" height="1.30" fill="#440154"/>
<rect x="364.85" y="526.51" width="1.30" height="1.30" fill="#461365"/>
<rect x="368.95" y="525.55" width="1.30" height="1.30" fill="#461365"/>
<rect x="371.05" y="526.57" width="1.30" height="1.30" fill="#461365"/>
<rect x="389.35" y="526.49" width="1.30" height="1.30" fill="#44377f"/>
<rect x="390.55" y="527.04" width="1.30" height="1.30" fill="#44377f"/>
<rect x="391.85" y="526.77" width="1.30" height="1.30" fill="#44377f"/>
<rect x="394.35" y="525.91" width="1.30" height="1.30" fill="#44377f"/>
<rect x="395.75" y="526.07" width="1.30" height="1.30" fill="#44377f"/>
<rect x="397.15" y="526.52" width="1.30" height="1.30" fill="#44377f"/>
<rect x="398.65" y="525.49" width="1.30" height="1.30" fill="#44377f"/>
<rect x="406.75" y="526.19" width="1.30" height="1.30" fill="#404788"/>
<rect x="420.05" y="525.72" width="1.30" height="1.30" fill="#39558b"/>
<rect x="422.35" y="525.64" width="1.30" height="1.30" fill="#39558b"/>
<rect x="425.15" y="525.54" width="1.30" height="1.30" fill="#39558b"/>
<rect x="430.95" y="526.68" width="1.30" height="1.30" fill="#33638d"/>
<rect x="432.15" y="525.66" width="1.30" height="1.30" fill="#33638d"/>
<rect x="433.35" y="525.85" width="1.30" height="1.30" fill="#33638d"/>
<rect x="434.55" y="526.08" width="1.30" height="1.30" fill="#33638d"/>
<rect x="435.75" y="526.84" width="1.30" height="1.30" fill="#33638d"/>
<rect x="436.95" y="525.58" width="1.30" height="1.30" fill="#33638d"/>
<rect x="438.15" y="526.17" width="1.30" height="1.30" fill="#33638d"/>
<rect x="439.45" y="526.33" width="1.30" height="1.30" fill="#33638d"/>
<rect x="445.65" y="526.86" width="1.30" height="1.30" fill="#2d708e"/>
<rect x="450.75" y="526.76" width="1.30" height="1.30" fill="#2d708e"/>
<rect x="458.95" y="526.83" width="1.30" height="1.30" fill="#287d8e"/>
<rect x="467.05" y="525.90" width="1.30" height="1.30" fill="#287d8e"/>
<rect x="483.35" y="526.11" width="1.30" height="1.30" fill="#21978a"/>
<rect x="484.95" y="526.02" width="1.30" height="1.30" fill="#21978a"/>
<rect x="487.35" y="526.86" width="1.30" height="1.30" fill="#21978a"/>
<rect x="488.85" y="526.98" width="1.30" height="1.30" fill="#21978a"/>
<rect x="490.35" y="525.69" width="1.30" height="1.30" fill="#21978a"/>
<rect x="493.35" y="525.73" width="1.30" height="1.30" fill="#21978a"/>
<rect x="495.85" y="525.82" width="1.30" height="1.30" fill="#21978a"/>
<rect x="497.35" y="525.82" width="1.30" height="1.30" fill="#22a386"/>
<rect x="499.85" y="526.23" width="1.30" height="1.30" fill="#22a386"/>
<rect x="501.35" y="526.39" width="1.30" height="1.30" fill="#22a386"/>
<rect x="503.35" y="525.87" width="1.30" height="1.30" fill="#22a386"/>
<rect x="505.85" y="525.46" width="1.30" height="1.30" fill="#22a386"/>
<rect x="507.35" y="526.12" width="1.30" height="1.30" fill="#22a386"/>
<rect x="524.75" y="526.04" width="1.30" height="1.30" fill="#3fbb73"/>
<rect x="526.85" y="526.36" width="1.30" height="1.30" fill="#3fbb73"/>
<rect x="533.85" y="526.97" width="1.30" height="1.30" fill="#3fbb73"/>
<rect x="537.25" y="526.55" width="1.30" height="1.30" fill="#3fbb73"/>
<rect x="538.85" y="526.27" width="1.30" height="1.30" fill="#58c665"/>
<rect x="540.35" y="526.44" width="1.30" height="1.30" fill="#58c665"/>
<rect x="541.95" y="526.53" width="1.30" height="1.30" fill="#58c665"/>
<rect x="543.55" y="525.54" width="1.30" height="1.30" fill="#58c665"/>
<rect x="545.15" y="526.89" width="1.30" height="1.30" fill="#58c665"/>
<rect x="546.85" y="526.70" width="1.30" height="1.30" fill="#58c665"/>
<rect x="548.55" y="526.85" width="1.30" height="1.30" fill="#58c665"/>
<rect x="554.85" y="526.73" width="1.30" height="1.30" fill="#74cf54"/>
<rect x="558.75" y="526.08" width="1.30" height="1.30" fill="#74cf54"/>
<rect x="573.85" y="526.09" width="1.30" height="1.30" fill="#96d73f"/>
<rect x="580.95" y="525.62" width="1.30" height="1.30" fill="#b9de28"/>
<rect x="606.25" y="526.46" width="1.30" height="1.30" fill="#fde725"/>
<rect x="364.35" y="541.55" width="1.30" height="1.30" fill="#461365"/>
<rect x="372.05" y="541.55" width="1.30" height="1.30" fill="#461365"/>
<rect x="391.35" y="541.55" width="1.30" height="1.30" fill="#44377f"/>
<rect x="392.55" y="541.55" width="1.30" height="1.30" fill="#44377f"/>
<rect x="393.75" y="541.55" width="1.30" height="1.30" fill="#44377f"/>
<rect x="394.95" y="541.55" width="1.30" height="1.30" fill="#44377f"/>
<rect x="396.15" y="541.55" width="1.30" height="1.30" fill="#44377f"/>
<rect x="397.35" y="541.55" width="1.30" height="1.30" fill="#44377f"/>
<rect x="399.65" y="541.55" width="1.30" height="1.30" fill="#44377f"/>
<rect x="430.35" y="541.55" width="1.30" height="1.30" fill="#33638d"/>
<rect x="431.65" y="541.55" width="1.30" height="1.30" fill="#33638d"/>
<rect x="432.95" y="541.55" width="1.30" height="1.30" fill="#33638d"/>
<rect x="434.35" y="541.55" width="1.30" height="1.30" fill="#33638d"/>
<rect x="436.85" y="541.55" width="1.30" height="1.30" fill="#33638d"/>
<rect x="439.35" y="541.55" width="1.30" height="1.30" fill="#33638d"/>
<rect x="443.55" y="541.55" width="1.30" height="1.30" fill="#2d708e"/>
<rect x="464.45" y="541.55" width="1.30" height="1.30" fill="#287d8e"/>
<rect x="486.35" y="541.55" width="1.30" height="1.30" fill="#21978a"/>
<rect x="487.85" y="541.55" width="1.30" height="1.30" fill="#21978a"/>
<rect x="489.35" y="541.55" width="1.30" height="1.30" fill="#21978a"/>
<rect x="490.85" y="541.55" width="1.30" height="1.30" fill="#21978a"/>
<rect x="492.35" y="541.55" width="1.30" height="1.30" fill="#21978a"/>
<rect x="494.65" y="541.55" width="1.30" height="1.30" fill="#21978a"/>
<rect x="501.45" y="541.55" width="1.30" height="1.30" fill="#22a386"/>
<rect x="503.35" y="541.55" width="1.30" height="1.30" fill="#22a386"/>
<rect x="506.65" y="541.55" width="1.30" height="1.30" fill="#22a386"/>
<rect x="528.15" y="541.55" width="1.30" height="1.30" fill="#3fbb73"/>
<rect x="544.05" y="541.55" width="1.30" height="1.30" fill="#58c665"/>
<rect x="613.05" y="541.55" width="1.30" height="1.30" fill="#fde725"/>
<text x="331.30" y="608.00" font-family='"Liberation Serif", serif' font-size="11.4" font-weight="bold" text-anchor="start" fill="#000"  >(F)</text>
<text x="492.10" y="609.20" font-family='"Liberation Serif", serif' font-size="8.95" font-weight="bold" text-anchor="middle" fill="#000" textLength="260" lengthAdjust="spacingAndGlyphs" >Cell-type-specific gene enrichment results of identified 97 T2D genes</text>
<text x="470.90" y="622.40" font-family='"Liberation Sans", sans-serif' font-size="5.6" font-weight="normal" text-anchor="middle" fill="#111"  textLength="61.00" lengthAdjust="spacingAndGlyphs" stroke="#111" stroke-width="0.12" >Top20 general cell types</text>
<rect x="341.6" y="625.5" width="257.79999999999995" height="174.10000000000002" fill="none" stroke="#a2a2a2" stroke-width="0.8"/>
<line x1="341.60" y1="759.60" x2="599.40" y2="759.60" stroke="#a5a5a5" stroke-width="1.0" />
<line x1="339.60" y1="792.50" x2="341.60" y2="792.50" stroke="#666" stroke-width="0.6" />
<text transform="translate(338.60,792.50) rotate(-90)" font-family='"Liberation Sans", sans-serif' font-size="4.0" text-anchor="middle" fill="#444" stroke="#444" stroke-width="0.08">0</text>
<line x1="339.60" y1="738.10" x2="341.60" y2="738.10" stroke="#666" stroke-width="0.6" />
<text transform="translate(338.60,738.10) rotate(-90)" font-family='"Liberation Sans", sans-serif' font-size="4.0" text-anchor="middle" fill="#444" stroke="#444" stroke-width="0.08">5</text>
<line x1="339.60" y1="683.70" x2="341.60" y2="683.70" stroke="#666" stroke-width="0.6" />
<text transform="translate(338.60,683.70) rotate(-90)" font-family='"Liberation Sans", sans-serif' font-size="4.0" text-anchor="middle" fill="#444" stroke="#444" stroke-width="0.08">10</text>
<line x1="339.60" y1="629.30" x2="341.60" y2="629.30" stroke="#666" stroke-width="0.6" />
<text transform="translate(338.60,629.30) rotate(-90)" font-family='"Liberation Sans", sans-serif' font-size="4.0" text-anchor="middle" fill="#444" stroke="#444" stroke-width="0.08">15</text>
<line x1="349.40" y1="799.60" x2="349.40" y2="801.60" stroke="#a2a2a2" stroke-width="0.6" />
<text transform="translate(351.40,804.80) rotate(-45)" font-family='"Liberation Sans", sans-serif' font-size="3.9" text-anchor="end" fill="#333" stroke="#333" stroke-width="0.08">Glial cell</text>
<line x1="362.15" y1="799.60" x2="362.15" y2="801.60" stroke="#a2a2a2" stroke-width="0.6" />
<text transform="translate(364.15,804.80) rotate(-45)" font-family='"Liberation Sans", sans-serif' font-size="3.9" text-anchor="end" fill="#333" stroke="#333" stroke-width="0.08">Pneumocyte</text>
<line x1="374.90" y1="799.60" x2="374.90" y2="801.60" stroke="#a2a2a2" stroke-width="0.6" />
<text transform="translate(376.90,804.80) rotate(-45)" font-family='"Liberation Sans", sans-serif' font-size="3.9" text-anchor="end" fill="#333" stroke="#333" stroke-width="0.08">Epithelial cell</text>
<line x1="387.65" y1="799.60" x2="387.65" y2="801.60" stroke="#a2a2a2" stroke-width="0.6" />
<text transform="translate(389.65,804.80) rotate(-45)" font-family='"Liberation Sans", sans-serif' font-size="3.9" text-anchor="end" fill="#333" stroke="#333" stroke-width="0.08">Pancreatic ductal cell</text>
<line x1="400.40" y1="799.60" x2="400.40" y2="801.60" stroke="#a2a2a2" stroke-width="0.6" />
<text transform="translate(402.40,804.80) rotate(-45)" font-family='"Liberation Sans", sans-serif' font-size="3.9" text-anchor="end" fill="#333" stroke="#333" stroke-width="0.08">Basal cell</text>
<line x1="413.15" y1="799.60" x2="413.15" y2="801.60" stroke="#a2a2a2" stroke-width="0.6" />
<text transform="translate(415.15,804.80) rotate(-45)" font-family='"Liberation Sans", sans-serif' font-size="3.9" text-anchor="end" fill="#333" stroke="#333" stroke-width="0.08">Paneth cell</text>
<line x1="425.90" y1="799.60" x2="425.90" y2="801.60" stroke="#a2a2a2" stroke-width="0.6" />
<text transform="translate(427.90,804.80) rotate(-45)" font-family='"Liberation Sans", sans-serif' font-size="3.9" text-anchor="end" fill="#333" stroke="#333" stroke-width="0.08">Natural killer cell</text>
<line x1="438.65" y1="799.60" x2="438.65" y2="801.60" stroke="#a2a2a2" stroke-width="0.6" />
<text transform="translate(440.65,804.80) rotate(-45)" font-family='"Liberation Sans", sans-serif' font-size="3.9" text-anchor="end" fill="#333" stroke="#333" stroke-width="0.08">Goblet cell</text>
<line x1="451.40" y1="799.60" x2="451.40" y2="801.60" stroke="#a2a2a2" stroke-width="0.6" />
<text transform="translate(453.40,804.80) rotate(-45)" font-family='"Liberation Sans", sans-serif' font-size="3.9" text-anchor="end" fill="#333" stroke="#333" stroke-width="0.08">Stem cell</text>
<line x1="464.15" y1="799.60" x2="464.15" y2="801.60" stroke="#a2a2a2" stroke-width="0.6" />
<text transform="translate(466.15,804.80) rotate(-45)" font-family='"Liberation Sans", sans-serif' font-size="3.9" text-anchor="end" fill="#333" stroke="#333" stroke-width="0.08">Macrophage</text>
<line x1="476.90" y1="799.60" x2="476.90" y2="801.60" stroke="#a2a2a2" stroke-width="0.6" />
<text transform="translate(478.90,804.80) rotate(-45)" font-family='"Liberation Sans", sans-serif' font-size="3.9" text-anchor="end" fill="#333" stroke="#333" stroke-width="0.08">T cell</text>
<line x1="489.65" y1="799.60" x2="489.65" y2="801.60" stroke="#a2a2a2" stroke-width="0.6" />
<text transform="translate(491.65,804.80) rotate(-45)" font-family='"Liberation Sans", sans-serif' font-size="3.9" text-anchor="end" fill="#333" stroke="#333" stroke-width="0.08">Salivary gland cell</text>
<line x1="502.40" y1="799.60" x2="502.40" y2="801.60" stroke="#a2a2a2" stroke-width="0.6" />
<text transform="translate(504.40,804.80) rotate(-45)" font-family='"Liberation Sans", sans-serif' font-size="3.9" text-anchor="end" fill="#333" stroke="#333" stroke-width="0.08">Luminal cell of prostate epithelium</text>
<line x1="515.15" y1="799.60" x2="515.15" y2="801.60" stroke="#a2a2a2" stroke-width="0.6" />
<text transform="translate(517.15,804.80) rotate(-45)" font-family='"Liberation Sans", sans-serif' font-size="3.9" text-anchor="end" fill="#333" stroke="#333" stroke-width="0.08">Club cell</text>
<line x1="527.90" y1="799.60" x2="527.90" y2="801.60" stroke="#a2a2a2" stroke-width="0.6" />
<text transform="translate(529.90,804.80) rotate(-45)" font-family='"Liberation Sans", sans-serif' font-size="3.9" text-anchor="end" fill="#333" stroke="#333" stroke-width="0.08">Transit amplifying cell</text>
<line x1="540.65" y1="799.60" x2="540.65" y2="801.60" stroke="#a2a2a2" stroke-width="0.6" />
<text transform="translate(542.65,804.80) rotate(-45)" font-family='"Liberation Sans", sans-serif' font-size="3.9" text-anchor="end" fill="#333" stroke="#333" stroke-width="0.08">Intestinal crypt stem cell</text>
<line x1="553.40" y1="799.60" x2="553.40" y2="801.60" stroke="#a2a2a2" stroke-width="0.6" />
<text transform="translate(555.40,804.80) rotate(-45)" font-family='"Liberation Sans", sans-serif' font-size="3.9" text-anchor="end" fill="#333" stroke="#333" stroke-width="0.08">Erythroid progenitor cell</text>
<line x1="566.15" y1="799.60" x2="566.15" y2="801.60" stroke="#a2a2a2" stroke-width="0.6" />
<text transform="translate(568.15,804.80) rotate(-45)" font-family='"Liberation Sans", sans-serif' font-size="3.9" text-anchor="end" fill="#333" stroke="#333" stroke-width="0.08">Enterocyte</text>
<line x1="578.90" y1="799.60" x2="578.90" y2="801.60" stroke="#a2a2a2" stroke-width="0.6" />
<text transform="translate(580.90,804.80) rotate(-45)" font-family='"Liberation Sans", sans-serif' font-size="3.9" text-anchor="end" fill="#333" stroke="#333" stroke-width="0.08">Acinar cell</text>
<line x1="591.65" y1="799.60" x2="591.65" y2="801.60" stroke="#a2a2a2" stroke-width="0.6" />
<text transform="translate(593.65,804.80) rotate(-45)" font-family='"Liberation Sans", sans-serif' font-size="3.9" text-anchor="end" fill="#333" stroke="#333" stroke-width="0.08">Plasma cell</text>
<text x="470.80" y="851.80" font-family='"Liberation Sans", sans-serif' font-size="4.9" font-weight="normal" text-anchor="middle" fill="#111"  textLength="38.90" lengthAdjust="spacingAndGlyphs" stroke="#111" stroke-width="0.12" >General_cell_type</text>
<text transform="translate(333.50,712.90) rotate(-90)" font-family='"Liberation Sans", sans-serif' font-size="5.0" text-anchor="middle" fill="#111" textLength="47.9" lengthAdjust="spacingAndGlyphs">input_list_raw_log10p</text>
<text x="606.90" y="637.40" font-family='"Liberation Sans", sans-serif' font-size="4.8" font-weight="normal" text-anchor="start" fill="#111"  textLength="38.80" lengthAdjust="spacingAndGlyphs" stroke="#111" stroke-width="0.1" >General_cell_type</text>
<path d="M610.70 643.10L611.70 644.90L609.70 644.90Z" fill="#440154"/>
<text x="616.90" y="645.55" font-family='"Liberation Sans", sans-serif' font-size="3.98" font-weight="normal" text-anchor="start" fill="#222"  stroke="#222" stroke-width="0.1" >Glial cell</text>
<path d="M610.70 650.72L611.70 652.52L609.70 652.52Z" fill="#461365"/>
<text x="616.90" y="653.17" font-family='"Liberation Sans", sans-serif' font-size="3.98" font-weight="normal" text-anchor="start" fill="#222"  stroke="#222" stroke-width="0.1" >Pneumocyte</text>
<path d="M610.70 658.34L611.70 660.14L609.70 660.14Z" fill="#482676"/>
<text x="616.90" y="660.79" font-family='"Liberation Sans", sans-serif' font-size="3.98" font-weight="normal" text-anchor="start" fill="#222"  stroke="#222" stroke-width="0.1" >Epithelial cell</text>
<path d="M610.70 665.96L611.70 667.76L609.70 667.76Z" fill="#44377f"/>
<text x="616.90" y="668.41" font-family='"Liberation Sans", sans-serif' font-size="3.98" font-weight="normal" text-anchor="start" fill="#222"  stroke="#222" stroke-width="0.1" >Pancreatic ductal cell</text>
<path d="M610.70 673.58L611.70 675.38L609.70 675.38Z" fill="#404788"/>
<text x="616.90" y="676.03" font-family='"Liberation Sans", sans-serif' font-size="3.98" font-weight="normal" text-anchor="start" fill="#222"  stroke="#222" stroke-width="0.1" >Basal cell</text>
<path d="M610.70 681.20L611.70 683.00L609.70 683.00Z" fill="#39558b"/>
<text x="616.90" y="683.65" font-family='"Liberation Sans", sans-serif' font-size="3.98" font-weight="normal" text-anchor="start" fill="#222"  stroke="#222" stroke-width="0.1" >Paneth cell</text>
<path d="M610.70 688.82L611.70 690.62L609.70 690.62Z" fill="#33638d"/>
<text x="616.90" y="691.27" font-family='"Liberation Sans", sans-serif' font-size="3.98" font-weight="normal" text-anchor="start" fill="#222"  stroke="#222" stroke-width="0.1" >Natural killer cell</text>
<path d="M610.70 696.44L611.70 698.24L609.70 698.24Z" fill="#2d708e"/>
<text x="616.90" y="698.89" font-family='"Liberation Sans", sans-serif' font-size="3.98" font-weight="normal" text-anchor="start" fill="#222"  stroke="#222" stroke-width="0.1" >Goblet cell</text>
<path d="M610.70 704.06L611.70 705.86L609.70 705.86Z" fill="#287d8e"/>
<text x="616.90" y="706.51" font-family='"Liberation Sans", sans-serif' font-size="3.98" font-weight="normal" text-anchor="start" fill="#222"  stroke="#222" stroke-width="0.1" >Stem cell</text>
<path d="M610.70 711.68L611.70 713.48L609.70 713.48Z" fill="#238a8d"/>
<text x="616.90" y="714.13" font-family='"Liberation Sans", sans-serif' font-size="3.98" font-weight="normal" text-anchor="start" fill="#222"  stroke="#222" stroke-width="0.1" >Macrophage</text>
<path d="M610.70 719.30L611.70 721.10L609.70 721.10Z" fill="#21978a"/>
<text x="616.90" y="721.75" font-family='"Liberation Sans", sans-serif' font-size="3.98" font-weight="normal" text-anchor="start" fill="#222"  stroke="#222" stroke-width="0.1" >T cell</text>
<path d="M610.70 726.92L611.70 728.72L609.70 728.72Z" fill="#22a386"/>
<text x="616.90" y="729.37" font-family='"Liberation Sans", sans-serif' font-size="3.98" font-weight="normal" text-anchor="start" fill="#222"  stroke="#222" stroke-width="0.1" >Salivary gland cell</text>
<path d="M610.70 734.54L611.70 736.34L609.70 736.34Z" fill="#2daf7e"/>
<text x="616.90" y="736.99" font-family='"Liberation Sans", sans-serif' font-size="3.98" font-weight="normal" text-anchor="start" fill="#222"  stroke="#222" stroke-width="0.1" >Luminal cell of prostate epithelium</text>
<path d="M610.70 742.16L611.70 743.96L609.70 743.96Z" fill="#3fbb73"/>
<text x="616.90" y="744.61" font-family='"Liberation Sans", sans-serif' font-size="3.98" font-weight="normal" text-anchor="start" fill="#222"  stroke="#222" stroke-width="0.1" >Club cell</text>
<path d="M610.70 749.78L611.70 751.58L609.70 751.58Z" fill="#58c665"/>
<text x="616.90" y="752.23" font-family='"Liberation Sans", sans-serif' font-size="3.98" font-weight="normal" text-anchor="start" fill="#222"  stroke="#222" stroke-width="0.1" >Transit amplifying cell</text>
<path d="M610.70 757.40L611.70 759.20L609.70 759.20Z" fill="#74cf54"/>
<text x="616.90" y="759.85" font-family='"Liberation Sans", sans-serif' font-size="3.98" font-weight="normal" text-anchor="start" fill="#222"  stroke="#222" stroke-width="0.1" >Intestinal crypt stem cell</text>
<path d="M610.70 765.02L611.70 766.82L609.70 766.82Z" fill="#96d73f"/>
<text x="616.90" y="767.47" font-family='"Liberation Sans", sans-serif' font-size="3.98" font-weight="normal" text-anchor="start" fill="#222"  stroke="#222" stroke-width="0.1" >Erythroid progenitor cell</text>
<path d="M610.70 772.64L611.70 774.44L609.70 774.44Z" fill="#b9de28"/>
<text x="616.90" y="775.09" font-family='"Liberation Sans", sans-serif' font-size="3.98" font-weight="normal" text-anchor="start" fill="#222"  stroke="#222" stroke-width="0.1" >Enterocyte</text>
<path d="M610.70 780.26L611.70 782.06L609.70 782.06Z" fill="#dbe326"/>
<text x="616.90" y="782.71" font-family='"Liberation Sans", sans-serif' font-size="3.98" font-weight="normal" text-anchor="start" fill="#222"  stroke="#222" stroke-width="0.1" >Acinar cell</text>
<path d="M610.70 787.88L611.70 789.68L609.70 789.68Z" fill="#fde725"/>
<text x="616.90" y="790.33" font-family='"Liberation Sans", sans-serif' font-size="3.98" font-weight="normal" text-anchor="start" fill="#222"  stroke="#222" stroke-width="0.1" >Plasma cell</text>
<text x="351.00" y="648.20" font-family='"Liberation Sans", sans-serif' font-size="4.0" font-weight="normal" text-anchor="start" fill="#4a1468"  textLength="25.50" lengthAdjust="spacingAndGlyphs" stroke="#4a1468" stroke-width="0.12" >radial glial cell</text>
<text x="351.00" y="689.70" font-family='"Liberation Sans", sans-serif' font-size="4.0" font-weight="normal" text-anchor="start" fill="#4a1468"  textLength="32.20" lengthAdjust="spacingAndGlyphs" stroke="#4a1468" stroke-width="0.12" >type i pneumocyte</text>
<text x="361.20" y="706.40" font-family='"Liberation Sans", sans-serif' font-size="4.0" font-weight="normal" text-anchor="start" fill="#47247a"  textLength="37.20" lengthAdjust="spacingAndGlyphs" stroke="#47247a" stroke-width="0.12" >corneal epithelial cell</text>
<text x="343.10" y="713.70" font-family='"Liberation Sans", sans-serif' font-size="4.0" font-weight="normal" text-anchor="start" fill="#4a1468"  textLength="33.40" lengthAdjust="spacingAndGlyphs" stroke="#4a1468" stroke-width="0.12" >type ii pneumocyte</text>
<text x="388.70" y="717.80" font-family='"Liberation Sans", sans-serif' font-size="4.0" font-weight="normal" text-anchor="start" fill="#46307c"  textLength="38.30" lengthAdjust="spacingAndGlyphs" stroke="#46307c" stroke-width="0.12" >*pancreatic ductal cell</text>
<path d="M346.60 645.98L347.22 647.10L345.98 647.10Z" fill="#440154"/>
<path d="M344.70 783.18L345.32 784.30L344.08 784.30Z" fill="#440154"/>
<path d="M367.50 690.88L368.12 692.00L366.88 692.00Z" fill="#461365"/>
<path d="M366.00 714.38L366.62 715.50L365.38 715.50Z" fill="#461365"/>
<path d="M370.00 707.38L370.62 708.50L369.38 708.50Z" fill="#482676"/>
<path d="M388.00 716.38L388.62 717.50L387.38 717.50Z" fill="#44377f"/>
<path d="M378.96 721.38L379.58 722.50L378.34 722.50Z" fill="#482676"/>
<path d="M375.15 721.38L375.77 722.50L374.53 722.50Z" fill="#482676"/>
<path d="M371.72 736.38L372.34 737.50L371.10 737.50Z" fill="#482676"/>
<path d="M375.29 742.38L375.91 743.50L374.67 743.50Z" fill="#482676"/>
<path d="M370.64 748.38L371.26 749.50L370.02 749.50Z" fill="#482676"/>
<path d="M375.15 754.38L375.77 755.50L374.53 755.50Z" fill="#482676"/>
<path d="M379.21 759.38L379.83 760.50L378.59 760.50Z" fill="#482676"/>
<path d="M378.17 765.38L378.79 766.50L377.55 766.50Z" fill="#482676"/>
<path d="M376.67 769.38L377.29 770.50L376.05 770.50Z" fill="#482676"/>
<path d="M372.75 771.38L373.37 772.50L372.13 772.50Z" fill="#482676"/>
<path d="M373.70 774.38L374.32 775.50L373.08 775.50Z" fill="#482676"/>
<path d="M371.57 786.88L372.19 788.00L370.95 788.00Z" fill="#482676"/>
<path d="M377.69 777.51L378.31 778.62L377.07 778.62Z" fill="#482676"/>
<path d="M378.02 790.46L378.64 791.58L377.40 791.58Z" fill="#482676"/>
<path d="M377.96 789.29L378.58 790.41L377.34 790.41Z" fill="#482676"/>
<path d="M372.17 784.41L372.79 785.53L371.55 785.53Z" fill="#482676"/>
<path d="M370.19 778.55L370.81 779.67L369.57 779.67Z" fill="#482676"/>
<path d="M372.49 791.47L373.11 792.59L371.87 792.59Z" fill="#482676"/>
<path d="M374.37 791.77L374.99 792.89L373.75 792.89Z" fill="#482676"/>
<path d="M379.45 777.46L380.07 778.57L378.83 778.57Z" fill="#482676"/>
<path d="M372.17 777.16L372.79 778.28L371.55 778.28Z" fill="#482676"/>
<path d="M376.14 790.34L376.76 791.46L375.52 791.46Z" fill="#482676"/>
<path d="M374.69 789.92L375.31 791.04L374.07 791.04Z" fill="#482676"/>
<path d="M370.75 791.03L371.37 792.14L370.13 792.14Z" fill="#482676"/>
<path d="M377.72 786.17L378.34 787.29L377.10 787.29Z" fill="#482676"/>
<path d="M371.69 784.05L372.31 785.16L371.07 785.16Z" fill="#482676"/>
<path d="M377.91 785.02L378.53 786.14L377.29 786.14Z" fill="#482676"/>
<path d="M373.91 789.13L374.53 790.25L373.29 790.25Z" fill="#482676"/>
<path d="M371.60 776.18L372.22 777.29L370.98 777.29Z" fill="#482676"/>
<path d="M378.95 780.45L379.57 781.57L378.33 781.57Z" fill="#482676"/>
<path d="M378.17 788.38L378.79 789.49L377.55 789.49Z" fill="#482676"/>
<path d="M373.40 780.08L374.02 781.19L372.78 781.19Z" fill="#482676"/>
<path d="M370.04 788.29L370.66 789.41L369.42 789.41Z" fill="#482676"/>
<path d="M375.17 785.56L375.79 786.68L374.55 786.68Z" fill="#482676"/>
<path d="M378.62 781.88L379.24 782.99L378.00 782.99Z" fill="#482676"/>
<path d="M372.42 777.83L373.04 778.95L371.80 778.95Z" fill="#482676"/>
<path d="M375.76 781.13L376.38 782.25L375.14 782.25Z" fill="#482676"/>
<path d="M371.21 784.38L371.83 785.50L370.59 785.50Z" fill="#482676"/>
<path d="M374.48 790.97L375.10 792.09L373.86 792.09Z" fill="#482676"/>
<path d="M374.11 786.48L374.73 787.60L373.49 787.60Z" fill="#482676"/>
<path d="M375.22 775.91L375.84 777.03L374.60 777.03Z" fill="#482676"/>
<path d="M374.30 773.45L374.92 774.57L373.68 774.57Z" fill="#482676"/>
<path d="M377.89 782.14L378.51 783.26L377.27 783.26Z" fill="#482676"/>
<path d="M377.15 783.94L377.77 785.06L376.53 785.06Z" fill="#482676"/>
<path d="M375.08 789.76L375.70 790.88L374.46 790.88Z" fill="#482676"/>
<path d="M370.96 782.60L371.58 783.72L370.34 783.72Z" fill="#482676"/>
<path d="M372.67 786.56L373.29 787.68L372.05 787.68Z" fill="#482676"/>
<path d="M375.52 791.05L376.14 792.17L374.90 792.17Z" fill="#482676"/>
<path d="M374.33 786.53L374.95 787.65L373.71 787.65Z" fill="#482676"/>
<path d="M375.02 785.82L375.64 786.94L374.40 786.94Z" fill="#482676"/>
<path d="M375.23 791.33L375.85 792.45L374.61 792.45Z" fill="#482676"/>
<path d="M376.89 791.34L377.51 792.45L376.27 792.45Z" fill="#482676"/>
<path d="M372.50 791.35L373.12 792.46L371.88 792.46Z" fill="#482676"/>
<path d="M378.30 775.63L378.92 776.75L377.68 776.75Z" fill="#482676"/>
<path d="M374.32 777.83L374.94 778.95L373.70 778.95Z" fill="#482676"/>
<path d="M370.63 789.76L371.25 790.88L370.01 790.88Z" fill="#482676"/>
<path d="M378.87 786.63L379.49 787.74L378.25 787.74Z" fill="#482676"/>
<path d="M376.50 789.71L377.12 790.83L375.88 790.83Z" fill="#482676"/>
<path d="M379.58 791.00L380.20 792.12L378.96 792.12Z" fill="#482676"/>
<path d="M373.88 791.79L374.50 792.90L373.26 792.90Z" fill="#482676"/>
<path d="M378.22 781.36L378.84 782.48L377.60 782.48Z" fill="#482676"/>
<path d="M375.06 777.00L375.68 778.12L374.44 778.12Z" fill="#482676"/>
<path d="M373.09 775.96L373.71 777.08L372.47 777.08Z" fill="#482676"/>
<path d="M375.44 775.87L376.06 776.98L374.82 776.98Z" fill="#482676"/>
<path d="M373.21 786.62L373.83 787.74L372.59 787.74Z" fill="#482676"/>
<path d="M370.54 789.81L371.16 790.92L369.92 790.92Z" fill="#482676"/>
<path d="M379.62 778.29L380.24 779.41L379.00 779.41Z" fill="#482676"/>
<path d="M370.30 783.00L370.92 784.12L369.68 784.12Z" fill="#482676"/>
<path d="M371.20 791.04L371.82 792.16L370.58 792.16Z" fill="#482676"/>
<path d="M378.09 776.14L378.71 777.26L377.47 777.26Z" fill="#482676"/>
<path d="M379.09 788.86L379.71 789.98L378.47 789.98Z" fill="#482676"/>
<path d="M370.79 786.11L371.41 787.23L370.17 787.23Z" fill="#482676"/>
<path d="M374.15 790.74L374.77 791.86L373.53 791.86Z" fill="#482676"/>
<path d="M376.24 778.73L376.86 779.85L375.62 779.85Z" fill="#482676"/>
<path d="M378.46 789.34L379.08 790.46L377.84 790.46Z" fill="#482676"/>
<path d="M374.44 783.61L375.06 784.73L373.82 784.73Z" fill="#482676"/>
<path d="M379.17 775.77L379.79 776.89L378.55 776.89Z" fill="#482676"/>
<path d="M375.17 775.40L375.79 776.52L374.55 776.52Z" fill="#482676"/>
<path d="M371.51 777.11L372.13 778.23L370.89 778.23Z" fill="#482676"/>
<path d="M373.02 787.43L373.64 788.55L372.40 788.55Z" fill="#482676"/>
<path d="M372.80 781.18L373.42 782.30L372.18 782.30Z" fill="#482676"/>
<path d="M373.37 778.01L373.99 779.13L372.75 779.13Z" fill="#482676"/>
<path d="M370.05 787.11L370.67 788.23L369.43 788.23Z" fill="#482676"/>
<path d="M371.79 791.27L372.41 792.38L371.17 792.38Z" fill="#482676"/>
<path d="M370.96 785.54L371.58 786.66L370.34 786.66Z" fill="#482676"/>
<path d="M374.85 784.98L375.47 786.09L374.23 786.09Z" fill="#482676"/>
<path d="M374.97 791.72L375.59 792.83L374.35 792.83Z" fill="#482676"/>
<path d="M373.33 788.93L373.95 790.05L372.71 790.05Z" fill="#482676"/>
<path d="M376.26 784.29L376.88 785.40L375.64 785.40Z" fill="#482676"/>
<path d="M370.44 774.69L371.06 775.80L369.82 775.80Z" fill="#482676"/>
<path d="M377.31 776.40L377.93 777.52L376.69 777.52Z" fill="#482676"/>
<path d="M383.91 753.78L384.53 754.90L383.29 754.90Z" fill="#44377f"/>
<path d="M390.72 765.38L391.34 766.50L390.10 766.50Z" fill="#44377f"/>
<path d="M390.98 776.38L391.60 777.50L390.36 777.50Z" fill="#44377f"/>
<path d="M401.93 721.38L402.55 722.50L401.31 722.50Z" fill="#404788"/>
<path d="M398.44 721.38L399.06 722.50L397.82 722.50Z" fill="#404788"/>
<path d="M398.08 748.98L398.70 750.10L397.46 750.10Z" fill="#404788"/>
<path d="M398.54 754.38L399.16 755.50L397.92 755.50Z" fill="#404788"/>
<path d="M400.04 759.38L400.66 760.50L399.42 760.50Z" fill="#404788"/>
<path d="M397.32 769.38L397.94 770.50L396.70 770.50Z" fill="#404788"/>
<path d="M399.91 777.38L400.53 778.50L399.29 778.50Z" fill="#404788"/>
<path d="M398.27 781.38L398.89 782.50L397.65 782.50Z" fill="#404788"/>
<path d="M404.56 784.38L405.18 785.50L403.94 785.50Z" fill="#404788"/>
<path d="M404.65 788.38L405.27 789.50L404.03 789.50Z" fill="#404788"/>
<path d="M400.78 790.83L401.40 791.95L400.16 791.95Z" fill="#404788"/>
<path d="M398.88 775.40L399.50 776.51L398.26 776.51Z" fill="#404788"/>
<path d="M399.45 786.72L400.07 787.84L398.83 787.84Z" fill="#404788"/>
<path d="M398.01 776.51L398.63 777.62L397.39 777.62Z" fill="#404788"/>
<path d="M398.51 781.77L399.13 782.89L397.89 782.89Z" fill="#404788"/>
<path d="M396.73 780.25L397.35 781.36L396.11 781.36Z" fill="#404788"/>
<path d="M398.26 787.02L398.88 788.14L397.64 788.14Z" fill="#404788"/>
<path d="M402.40 788.92L403.02 790.03L401.78 790.03Z" fill="#404788"/>
<path d="M416.56 721.38L417.18 722.50L415.94 722.50Z" fill="#39558b"/>
<path d="M412.16 759.38L412.78 760.50L411.54 760.50Z" fill="#39558b"/>
<path d="M424.34 721.38L424.96 722.50L423.72 722.50Z" fill="#33638d"/>
<path d="M430.26 721.38L430.88 722.50L429.64 722.50Z" fill="#33638d"/>
<path d="M422.75 748.38L423.37 749.50L422.13 749.50Z" fill="#33638d"/>
<path d="M427.92 754.38L428.54 755.50L427.30 755.50Z" fill="#33638d"/>
<path d="M427.19 759.38L427.81 760.50L426.57 760.50Z" fill="#33638d"/>
<path d="M421.79 765.38L422.41 766.50L421.17 766.50Z" fill="#33638d"/>
<path d="M428.92 769.38L429.54 770.50L428.30 770.50Z" fill="#33638d"/>
<path d="M429.82 788.23L430.44 789.34L429.20 789.34Z" fill="#33638d"/>
<path d="M429.02 780.90L429.64 782.02L428.40 782.02Z" fill="#33638d"/>
<path d="M425.94 789.11L426.56 790.23L425.32 790.23Z" fill="#33638d"/>
<path d="M429.16 790.17L429.78 791.28L428.54 791.28Z" fill="#33638d"/>
<path d="M427.73 779.93L428.35 781.05L427.11 781.05Z" fill="#33638d"/>
<path d="M421.21 777.32L421.83 778.43L420.59 778.43Z" fill="#33638d"/>
<path d="M421.95 785.82L422.57 786.94L421.33 786.94Z" fill="#33638d"/>
<path d="M427.18 787.53L427.80 788.65L426.56 788.65Z" fill="#33638d"/>
<path d="M425.79 786.93L426.41 788.05L425.17 788.05Z" fill="#33638d"/>
<path d="M428.38 785.47L429.00 786.59L427.76 786.59Z" fill="#33638d"/>
<path d="M427.49 785.59L428.11 786.71L426.87 786.71Z" fill="#33638d"/>
<path d="M423.42 775.22L424.04 776.34L422.80 776.34Z" fill="#33638d"/>
<path d="M428.19 785.66L428.81 786.77L427.57 786.77Z" fill="#33638d"/>
<path d="M430.66 782.99L431.28 784.10L430.04 784.10Z" fill="#33638d"/>
<path d="M425.69 788.65L426.31 789.76L425.07 789.76Z" fill="#33638d"/>
<path d="M427.07 775.50L427.69 776.62L426.45 776.62Z" fill="#33638d"/>
<path d="M422.37 785.73L422.99 786.85L421.75 786.85Z" fill="#33638d"/>
<path d="M423.94 771.84L424.56 772.95L423.32 772.95Z" fill="#33638d"/>
<path d="M421.51 784.16L422.13 785.28L420.89 785.28Z" fill="#33638d"/>
<path d="M427.82 781.24L428.44 782.36L427.20 782.36Z" fill="#33638d"/>
<path d="M426.07 784.40L426.69 785.52L425.45 785.52Z" fill="#33638d"/>
<path d="M422.09 779.20L422.71 780.32L421.47 780.32Z" fill="#33638d"/>
<path d="M430.68 772.29L431.30 773.41L430.06 773.41Z" fill="#33638d"/>
<path d="M425.49 791.03L426.11 792.14L424.87 792.14Z" fill="#33638d"/>
<path d="M425.39 774.00L426.01 775.11L424.77 775.11Z" fill="#33638d"/>
<path d="M430.36 782.17L430.98 783.29L429.74 783.29Z" fill="#33638d"/>
<path d="M422.32 790.85L422.94 791.97L421.70 791.97Z" fill="#33638d"/>
<path d="M422.23 785.07L422.85 786.19L421.61 786.19Z" fill="#33638d"/>
<path d="M429.77 779.96L430.39 781.08L429.15 781.08Z" fill="#33638d"/>
<path d="M429.88 772.85L430.50 773.96L429.26 773.96Z" fill="#33638d"/>
<path d="M420.94 784.15L421.56 785.27L420.32 785.27Z" fill="#33638d"/>
<path d="M423.92 776.95L424.54 778.06L423.30 778.06Z" fill="#33638d"/>
<path d="M424.06 770.30L424.68 771.41L423.44 771.41Z" fill="#33638d"/>
<path d="M428.41 777.00L429.03 778.12L427.79 778.12Z" fill="#33638d"/>
<path d="M430.16 790.27L430.78 791.39L429.54 791.39Z" fill="#33638d"/>
<path d="M423.80 778.02L424.42 779.14L423.18 779.14Z" fill="#33638d"/>
<path d="M430.89 782.59L431.51 783.71L430.27 783.71Z" fill="#33638d"/>
<path d="M425.18 770.44L425.80 771.56L424.56 771.56Z" fill="#33638d"/>
<path d="M421.92 781.14L422.54 782.25L421.30 782.25Z" fill="#33638d"/>
<path d="M430.26 775.23L430.88 776.34L429.64 776.34Z" fill="#33638d"/>
<path d="M438.75 721.38L439.37 722.50L438.13 722.50Z" fill="#2d708e"/>
<path d="M435.86 753.38L436.48 754.50L435.24 754.50Z" fill="#2d708e"/>
<path d="M437.51 759.38L438.13 760.50L436.89 760.50Z" fill="#2d708e"/>
<path d="M442.76 764.38L443.38 765.50L442.14 765.50Z" fill="#2d708e"/>
<path d="M442.11 775.38L442.73 776.50L441.49 776.50Z" fill="#2d708e"/>
<path d="M441.46 779.38L442.08 780.50L440.84 780.50Z" fill="#2d708e"/>
<path d="M439.83 784.38L440.45 785.50L439.21 785.50Z" fill="#2d708e"/>
<path d="M441.96 785.76L442.58 786.87L441.34 786.87Z" fill="#2d708e"/>
<path d="M440.41 785.63L441.03 786.75L439.79 786.75Z" fill="#2d708e"/>
<path d="M438.26 786.62L438.88 787.74L437.64 787.74Z" fill="#2d708e"/>
<path d="M436.94 788.35L437.56 789.47L436.32 789.47Z" fill="#2d708e"/>
<path d="M435.67 783.59L436.29 784.70L435.05 784.70Z" fill="#2d708e"/>
<path d="M437.03 789.21L437.65 790.33L436.41 790.33Z" fill="#2d708e"/>
<path d="M449.24 756.38L449.86 757.50L448.62 757.50Z" fill="#287d8e"/>
<path d="M465.55 721.38L466.17 722.50L464.93 722.50Z" fill="#238a8d"/>
<path d="M462.36 729.38L462.98 730.50L461.74 730.50Z" fill="#238a8d"/>
<path d="M464.67 736.38L465.29 737.50L464.05 737.50Z" fill="#238a8d"/>
<path d="M463.20 748.38L463.82 749.50L462.58 749.50Z" fill="#238a8d"/>
<path d="M461.16 754.38L461.78 755.50L460.54 755.50Z" fill="#238a8d"/>
<path d="M461.10 759.38L461.72 760.50L460.48 760.50Z" fill="#238a8d"/>
<path d="M461.52 759.38L462.14 760.50L460.90 760.50Z" fill="#238a8d"/>
<path d="M467.80 764.38L468.42 765.50L467.18 765.50Z" fill="#238a8d"/>
<path d="M464.12 769.38L464.74 770.50L463.50 770.50Z" fill="#238a8d"/>
<path d="M461.63 769.38L462.25 770.50L461.01 770.50Z" fill="#238a8d"/>
<path d="M468.62 785.79L469.24 786.91L468.00 786.91Z" fill="#238a8d"/>
<path d="M460.19 775.06L460.81 776.17L459.57 776.17Z" fill="#238a8d"/>
<path d="M462.41 777.80L463.03 778.92L461.79 778.92Z" fill="#238a8d"/>
<path d="M461.49 790.81L462.11 791.92L460.87 791.92Z" fill="#238a8d"/>
<path d="M466.90 785.28L467.52 786.40L466.28 786.40Z" fill="#238a8d"/>
<path d="M464.42 779.64L465.04 780.75L463.80 780.75Z" fill="#238a8d"/>
<path d="M459.33 791.28L459.95 792.40L458.71 792.40Z" fill="#238a8d"/>
<path d="M460.03 788.06L460.65 789.18L459.41 789.18Z" fill="#238a8d"/>
<path d="M468.14 778.39L468.76 779.51L467.52 779.51Z" fill="#238a8d"/>
<path d="M461.38 781.63L462.00 782.74L460.76 782.74Z" fill="#238a8d"/>
<path d="M469.14 790.66L469.76 791.78L468.52 791.78Z" fill="#238a8d"/>
<path d="M458.89 786.51L459.51 787.62L458.27 787.62Z" fill="#238a8d"/>
<path d="M468.50 787.56L469.12 788.67L467.88 788.67Z" fill="#238a8d"/>
<path d="M458.65 790.53L459.27 791.64L458.03 791.64Z" fill="#238a8d"/>
<path d="M467.73 791.62L468.35 792.74L467.11 792.74Z" fill="#238a8d"/>
<path d="M461.38 776.24L462.00 777.35L460.76 777.35Z" fill="#238a8d"/>
<path d="M464.40 791.33L465.02 792.45L463.78 792.45Z" fill="#238a8d"/>
<path d="M466.59 789.56L467.21 790.67L465.97 790.67Z" fill="#238a8d"/>
<path d="M463.68 777.06L464.30 778.17L463.06 778.17Z" fill="#238a8d"/>
<path d="M467.26 790.40L467.88 791.51L466.64 791.51Z" fill="#238a8d"/>
<path d="M465.75 775.75L466.37 776.86L465.13 776.86Z" fill="#238a8d"/>
<path d="M461.42 788.84L462.04 789.96L460.80 789.96Z" fill="#238a8d"/>
<path d="M459.88 783.08L460.50 784.20L459.26 784.20Z" fill="#238a8d"/>
<path d="M465.06 777.52L465.68 778.63L464.44 778.63Z" fill="#238a8d"/>
<path d="M465.26 778.96L465.88 780.07L464.64 780.07Z" fill="#238a8d"/>
<path d="M463.72 788.23L464.34 789.35L463.10 789.35Z" fill="#238a8d"/>
<path d="M468.37 782.34L468.99 783.46L467.75 783.46Z" fill="#238a8d"/>
<path d="M461.37 788.91L461.99 790.03L460.75 790.03Z" fill="#238a8d"/>
<path d="M462.03 782.60L462.65 783.71L461.41 783.71Z" fill="#238a8d"/>
<path d="M466.07 782.76L466.69 783.88L465.45 783.88Z" fill="#238a8d"/>
<path d="M465.99 782.19L466.61 783.31L465.37 783.31Z" fill="#238a8d"/>
<path d="M459.03 781.16L459.65 782.28L458.41 782.28Z" fill="#238a8d"/>
<path d="M466.16 788.13L466.78 789.24L465.54 789.24Z" fill="#238a8d"/>
<path d="M466.78 781.76L467.40 782.88L466.16 782.88Z" fill="#238a8d"/>
<path d="M469.32 788.55L469.94 789.67L468.70 789.67Z" fill="#238a8d"/>
<path d="M461.19 787.45L461.81 788.56L460.57 788.56Z" fill="#238a8d"/>
<path d="M461.89 786.41L462.51 787.52L461.27 787.52Z" fill="#238a8d"/>
<path d="M460.71 781.10L461.33 782.21L460.09 782.21Z" fill="#238a8d"/>
<path d="M465.97 780.46L466.59 781.57L465.35 781.57Z" fill="#238a8d"/>
<path d="M462.98 791.40L463.60 792.52L462.36 792.52Z" fill="#238a8d"/>
<path d="M460.21 774.49L460.83 775.61L459.59 775.61Z" fill="#238a8d"/>
<path d="M462.98 790.77L463.60 791.89L462.36 791.89Z" fill="#238a8d"/>
<path d="M466.71 791.24L467.33 792.35L466.09 792.35Z" fill="#238a8d"/>
<path d="M462.27 790.69L462.89 791.81L461.65 791.81Z" fill="#238a8d"/>
<path d="M466.86 785.67L467.48 786.79L466.24 786.79Z" fill="#238a8d"/>
<path d="M462.81 779.52L463.43 780.63L462.19 780.63Z" fill="#238a8d"/>
<path d="M460.51 778.56L461.13 779.67L459.89 779.67Z" fill="#238a8d"/>
<path d="M462.52 779.89L463.14 781.00L461.90 781.00Z" fill="#238a8d"/>
<path d="M469.26 779.98L469.88 781.09L468.64 781.09Z" fill="#238a8d"/>
<path d="M467.69 785.55L468.31 786.66L467.07 786.66Z" fill="#238a8d"/>
<path d="M459.19 784.67L459.81 785.79L458.57 785.79Z" fill="#238a8d"/>
<path d="M468.76 780.12L469.38 781.23L468.14 781.23Z" fill="#238a8d"/>
<path d="M468.52 780.98L469.14 782.10L467.90 782.10Z" fill="#238a8d"/>
<path d="M467.58 777.11L468.20 778.23L466.96 778.23Z" fill="#238a8d"/>
<path d="M459.03 790.40L459.65 791.52L458.41 791.52Z" fill="#238a8d"/>
<path d="M461.48 790.92L462.10 792.03L460.86 792.03Z" fill="#238a8d"/>
<path d="M462.38 791.10L463.00 792.21L461.76 792.21Z" fill="#238a8d"/>
<path d="M465.44 786.64L466.06 787.75L464.82 787.75Z" fill="#238a8d"/>
<path d="M462.13 773.45L462.75 774.57L461.51 774.57Z" fill="#238a8d"/>
<path d="M466.96 788.11L467.58 789.23L466.34 789.23Z" fill="#238a8d"/>
<path d="M469.03 777.71L469.65 778.82L468.41 778.82Z" fill="#238a8d"/>
<path d="M463.88 791.45L464.50 792.56L463.26 792.56Z" fill="#238a8d"/>
<path d="M462.90 781.33L463.52 782.45L462.28 782.45Z" fill="#238a8d"/>
<path d="M464.08 781.29L464.70 782.41L463.46 782.41Z" fill="#238a8d"/>
<path d="M467.48 790.16L468.10 791.28L466.86 791.28Z" fill="#238a8d"/>
<path d="M467.15 783.97L467.77 785.09L466.53 785.09Z" fill="#238a8d"/>
<path d="M462.17 787.85L462.79 788.97L461.55 788.97Z" fill="#238a8d"/>
<path d="M459.52 787.31L460.14 788.42L458.90 788.42Z" fill="#238a8d"/>
<path d="M461.37 774.01L461.99 775.12L460.75 775.12Z" fill="#238a8d"/>
<path d="M464.73 791.51L465.35 792.63L464.11 792.63Z" fill="#238a8d"/>
<path d="M468.37 782.90L468.99 784.02L467.75 784.02Z" fill="#238a8d"/>
<path d="M459.57 782.60L460.19 783.72L458.95 783.72Z" fill="#238a8d"/>
<path d="M466.46 782.33L467.08 783.45L465.84 783.45Z" fill="#238a8d"/>
<path d="M463.24 788.57L463.86 789.69L462.62 789.69Z" fill="#238a8d"/>
<path d="M466.88 788.46L467.50 789.58L466.26 789.58Z" fill="#238a8d"/>
<path d="M459.98 783.41L460.60 784.52L459.36 784.52Z" fill="#238a8d"/>
<path d="M464.89 787.03L465.51 788.15L464.27 788.15Z" fill="#238a8d"/>
<path d="M460.84 777.92L461.46 779.03L460.22 779.03Z" fill="#238a8d"/>
<path d="M460.34 787.45L460.96 788.56L459.72 788.56Z" fill="#238a8d"/>
<path d="M462.24 791.74L462.86 792.86L461.62 792.86Z" fill="#238a8d"/>
<path d="M464.23 788.34L464.85 789.45L463.61 789.45Z" fill="#238a8d"/>
<path d="M465.84 779.30L466.46 780.41L465.22 780.41Z" fill="#238a8d"/>
<path d="M463.87 790.34L464.49 791.46L463.25 791.46Z" fill="#238a8d"/>
<path d="M468.71 778.81L469.33 779.93L468.09 779.93Z" fill="#238a8d"/>
<path d="M459.96 791.38L460.58 792.50L459.34 792.50Z" fill="#238a8d"/>
<path d="M465.07 784.67L465.69 785.78L464.45 785.78Z" fill="#238a8d"/>
<path d="M468.18 782.81L468.80 783.93L467.56 783.93Z" fill="#238a8d"/>
<path d="M467.21 779.40L467.83 780.51L466.59 780.51Z" fill="#238a8d"/>
<path d="M465.21 782.01L465.83 783.13L464.59 783.13Z" fill="#238a8d"/>
<path d="M462.71 777.15L463.33 778.27L462.09 778.27Z" fill="#238a8d"/>
<path d="M474.69 729.38L475.31 730.50L474.07 730.50Z" fill="#21978a"/>
<path d="M477.79 736.38L478.41 737.50L477.17 737.50Z" fill="#21978a"/>
<path d="M478.26 743.38L478.88 744.50L477.64 744.50Z" fill="#21978a"/>
<path d="M474.23 748.88L474.85 750.00L473.61 750.00Z" fill="#21978a"/>
<path d="M472.50 748.88L473.12 750.00L471.88 750.00Z" fill="#21978a"/>
<path d="M475.35 754.38L475.97 755.50L474.73 755.50Z" fill="#21978a"/>
<path d="M478.50 754.38L479.12 755.50L477.88 755.50Z" fill="#21978a"/>
<path d="M474.07 760.28L474.69 761.40L473.45 761.40Z" fill="#21978a"/>
<path d="M475.21 760.28L475.83 761.40L474.59 761.40Z" fill="#21978a"/>
<path d="M474.23 765.18L474.85 766.30L473.61 766.30Z" fill="#21978a"/>
<path d="M479.56 765.18L480.18 766.30L478.94 766.30Z" fill="#21978a"/>
<path d="M477.33 769.88L477.95 771.00L476.71 771.00Z" fill="#21978a"/>
<path d="M472.97 769.88L473.59 771.00L472.35 771.00Z" fill="#21978a"/>
<path d="M473.31 774.38L473.93 775.50L472.69 775.50Z" fill="#21978a"/>
<path d="M475.75 788.57L476.37 789.69L475.13 789.69Z" fill="#21978a"/>
<path d="M472.40 786.85L473.02 787.97L471.78 787.97Z" fill="#21978a"/>
<path d="M475.91 780.46L476.53 781.57L475.29 781.57Z" fill="#21978a"/>
<path d="M481.89 784.73L482.51 785.84L481.27 785.84Z" fill="#21978a"/>
<path d="M475.33 790.72L475.95 791.84L474.71 791.84Z" fill="#21978a"/>
<path d="M482.36 778.63L482.98 779.75L481.74 779.75Z" fill="#21978a"/>
<path d="M479.41 775.48L480.03 776.59L478.79 776.59Z" fill="#21978a"/>
<path d="M481.32 790.32L481.94 791.44L480.70 791.44Z" fill="#21978a"/>
<path d="M475.87 786.58L476.49 787.70L475.25 787.70Z" fill="#21978a"/>
<path d="M473.19 784.48L473.81 785.60L472.57 785.60Z" fill="#21978a"/>
<path d="M478.45 780.30L479.07 781.42L477.83 781.42Z" fill="#21978a"/>
<path d="M478.24 783.70L478.86 784.82L477.62 784.82Z" fill="#21978a"/>
<path d="M473.00 783.98L473.62 785.10L472.38 785.10Z" fill="#21978a"/>
<path d="M481.58 783.47L482.20 784.59L480.96 784.59Z" fill="#21978a"/>
<path d="M480.25 782.71L480.87 783.83L479.63 783.83Z" fill="#21978a"/>
<path d="M472.79 791.68L473.41 792.79L472.17 792.79Z" fill="#21978a"/>
<path d="M476.71 790.66L477.33 791.78L476.09 791.78Z" fill="#21978a"/>
<path d="M475.67 788.38L476.29 789.49L475.05 789.49Z" fill="#21978a"/>
<path d="M480.47 788.35L481.09 789.46L479.85 789.46Z" fill="#21978a"/>
<path d="M473.84 790.56L474.46 791.68L473.22 791.68Z" fill="#21978a"/>
<path d="M480.52 778.98L481.14 780.10L479.90 780.10Z" fill="#21978a"/>
<path d="M475.80 785.60L476.42 786.72L475.18 786.72Z" fill="#21978a"/>
<path d="M472.75 787.34L473.37 788.46L472.13 788.46Z" fill="#21978a"/>
<path d="M481.27 784.66L481.89 785.77L480.65 785.77Z" fill="#21978a"/>
<path d="M479.73 789.21L480.35 790.33L479.11 790.33Z" fill="#21978a"/>
<path d="M472.70 787.62L473.32 788.73L472.08 788.73Z" fill="#21978a"/>
<path d="M478.30 782.31L478.92 783.43L477.68 783.43Z" fill="#21978a"/>
<path d="M477.81 788.77L478.43 789.89L477.19 789.89Z" fill="#21978a"/>
<path d="M476.31 777.90L476.93 779.02L475.69 779.02Z" fill="#21978a"/>
<path d="M478.21 783.38L478.83 784.50L477.59 784.50Z" fill="#21978a"/>
<path d="M479.80 786.55L480.42 787.67L479.18 787.67Z" fill="#21978a"/>
<path d="M473.38 780.78L474.00 781.90L472.76 781.90Z" fill="#21978a"/>
<path d="M472.81 780.38L473.43 781.49L472.19 781.49Z" fill="#21978a"/>
<path d="M476.26 778.71L476.88 779.83L475.64 779.83Z" fill="#21978a"/>
<path d="M478.40 787.48L479.02 788.60L477.78 788.60Z" fill="#21978a"/>
<path d="M479.95 779.22L480.57 780.34L479.33 780.34Z" fill="#21978a"/>
<path d="M476.94 791.07L477.56 792.19L476.32 792.19Z" fill="#21978a"/>
<path d="M472.90 791.85L473.52 792.96L472.28 792.96Z" fill="#21978a"/>
<path d="M479.45 782.64L480.07 783.76L478.83 783.76Z" fill="#21978a"/>
<path d="M482.20 791.52L482.82 792.63L481.58 792.63Z" fill="#21978a"/>
<path d="M481.48 788.39L482.10 789.50L480.86 789.50Z" fill="#21978a"/>
<path d="M481.64 781.17L482.26 782.29L481.02 782.29Z" fill="#21978a"/>
<path d="M479.72 790.17L480.34 791.29L479.10 791.29Z" fill="#21978a"/>
<path d="M474.42 781.63L475.04 782.75L473.80 782.75Z" fill="#21978a"/>
<path d="M476.92 782.91L477.54 784.03L476.30 784.03Z" fill="#21978a"/>
<path d="M474.29 784.70L474.91 785.82L473.67 785.82Z" fill="#21978a"/>
<path d="M471.81 778.04L472.43 779.16L471.19 779.16Z" fill="#21978a"/>
<path d="M481.70 790.99L482.32 792.11L481.08 792.11Z" fill="#21978a"/>
<path d="M473.26 780.98L473.88 782.09L472.64 782.09Z" fill="#21978a"/>
<path d="M477.24 785.28L477.86 786.39L476.62 786.39Z" fill="#21978a"/>
<path d="M481.00 787.95L481.62 789.06L480.38 789.06Z" fill="#21978a"/>
<path d="M481.11 791.76L481.73 792.88L480.49 792.88Z" fill="#21978a"/>
<path d="M478.33 788.54L478.95 789.66L477.71 789.66Z" fill="#21978a"/>
<path d="M474.31 787.92L474.93 789.03L473.69 789.03Z" fill="#21978a"/>
<path d="M475.36 786.35L475.98 787.47L474.74 787.47Z" fill="#21978a"/>
<path d="M473.34 779.01L473.96 780.12L472.72 780.12Z" fill="#21978a"/>
<path d="M480.42 785.93L481.04 787.04L479.80 787.04Z" fill="#21978a"/>
<path d="M482.22 788.82L482.84 789.94L481.60 789.94Z" fill="#21978a"/>
<path d="M474.84 775.94L475.46 777.05L474.22 777.05Z" fill="#21978a"/>
<path d="M473.04 786.23L473.66 787.34L472.42 787.34Z" fill="#21978a"/>
<path d="M477.04 781.38L477.66 782.49L476.42 782.49Z" fill="#21978a"/>
<path d="M473.90 777.84L474.52 778.96L473.28 778.96Z" fill="#21978a"/>
<path d="M471.43 777.13L472.05 778.25L470.81 778.25Z" fill="#21978a"/>
<path d="M475.33 785.01L475.95 786.13L474.71 786.13Z" fill="#21978a"/>
<path d="M477.88 785.67L478.50 786.79L477.26 786.79Z" fill="#21978a"/>
<path d="M476.62 790.83L477.24 791.95L476.00 791.95Z" fill="#21978a"/>
<path d="M474.08 776.96L474.70 778.08L473.46 778.08Z" fill="#21978a"/>
<path d="M478.42 789.97L479.04 791.09L477.80 791.09Z" fill="#21978a"/>
<path d="M475.82 775.57L476.44 776.69L475.20 776.69Z" fill="#21978a"/>
<path d="M478.49 785.15L479.11 786.26L477.87 786.26Z" fill="#21978a"/>
<path d="M478.50 791.35L479.12 792.47L477.88 792.47Z" fill="#21978a"/>
<path d="M479.47 790.29L480.09 791.40L478.85 791.40Z" fill="#21978a"/>
<path d="M471.88 785.89L472.50 787.01L471.26 787.01Z" fill="#21978a"/>
<path d="M474.01 788.23L474.63 789.35L473.39 789.35Z" fill="#21978a"/>
<path d="M471.54 791.39L472.16 792.50L470.92 792.50Z" fill="#21978a"/>
<path d="M472.96 785.41L473.58 786.53L472.34 786.53Z" fill="#21978a"/>
<path d="M476.98 790.26L477.60 791.38L476.36 791.38Z" fill="#21978a"/>
<path d="M473.32 780.33L473.94 781.45L472.70 781.45Z" fill="#21978a"/>
<path d="M471.93 789.98L472.55 791.10L471.31 791.10Z" fill="#21978a"/>
<path d="M479.27 789.31L479.89 790.43L478.65 790.43Z" fill="#21978a"/>
<path d="M479.60 789.59L480.22 790.71L478.98 790.71Z" fill="#21978a"/>
<path d="M476.38 777.12L477.00 778.23L475.76 778.23Z" fill="#21978a"/>
<path d="M473.96 780.92L474.58 782.03L473.34 782.03Z" fill="#21978a"/>
<path d="M479.65 790.55L480.27 791.67L479.03 791.67Z" fill="#21978a"/>
<path d="M479.23 784.52L479.85 785.63L478.61 785.63Z" fill="#21978a"/>
<path d="M476.20 787.32L476.82 788.43L475.58 788.43Z" fill="#21978a"/>
<path d="M474.32 791.59L474.94 792.71L473.70 792.71Z" fill="#21978a"/>
<path d="M473.79 777.42L474.41 778.53L473.17 778.53Z" fill="#21978a"/>
<path d="M474.26 787.65L474.88 788.77L473.64 788.77Z" fill="#21978a"/>
<path d="M481.79 784.81L482.41 785.93L481.17 785.93Z" fill="#21978a"/>
<path d="M481.08 779.33L481.70 780.44L480.46 780.44Z" fill="#21978a"/>
<path d="M481.38 789.11L482.00 790.23L480.76 790.23Z" fill="#21978a"/>
<path d="M478.72 786.69L479.34 787.80L478.10 787.80Z" fill="#21978a"/>
<path d="M480.64 790.66L481.26 791.78L480.02 791.78Z" fill="#21978a"/>
<path d="M476.21 787.84L476.83 788.96L475.59 788.96Z" fill="#21978a"/>
<path d="M487.92 729.58L488.54 730.70L487.30 730.70Z" fill="#22a386"/>
<path d="M487.06 736.38L487.68 737.50L486.44 737.50Z" fill="#22a386"/>
<path d="M490.75 773.98L491.37 775.10L490.13 775.10Z" fill="#22a386"/>
<path d="M498.60 736.18L499.22 737.30L497.98 737.30Z" fill="#2daf7e"/>
<path d="M518.85 736.18L519.47 737.30L518.23 737.30Z" fill="#3fbb73"/>
<path d="M511.95 760.38L512.57 761.50L511.33 761.50Z" fill="#3fbb73"/>
<path d="M510.89 782.38L511.51 783.50L510.27 783.50Z" fill="#3fbb73"/>
<path d="M511.61 789.38L512.23 790.50L510.99 790.50Z" fill="#3fbb73"/>
<path d="M531.76 736.18L532.38 737.30L531.14 737.30Z" fill="#58c665"/>
<path d="M526.50 760.38L527.12 761.50L525.88 761.50Z" fill="#58c665"/>
<path d="M537.43 736.18L538.05 737.30L536.81 737.30Z" fill="#74cf54"/>
<path d="M536.41 765.18L537.03 766.30L535.79 766.30Z" fill="#74cf54"/>
<path d="M536.52 789.38L537.14 790.50L535.90 790.50Z" fill="#74cf54"/>
<path d="M555.13 742.68L555.75 743.80L554.51 743.80Z" fill="#96d73f"/>
<path d="M554.60 765.18L555.22 766.30L553.98 766.30Z" fill="#96d73f"/>
<path d="M555.37 783.94L555.99 785.06L554.75 785.06Z" fill="#96d73f"/>
<path d="M554.30 789.56L554.92 790.67L553.68 790.67Z" fill="#96d73f"/>
<path d="M556.60 783.95L557.22 785.06L555.98 785.06Z" fill="#96d73f"/>
<path d="M557.08 791.10L557.70 792.21L556.46 792.21Z" fill="#96d73f"/>
<path d="M549.47 782.50L550.09 783.62L548.85 783.62Z" fill="#96d73f"/>
<path d="M548.74 790.39L549.36 791.51L548.12 791.51Z" fill="#96d73f"/>
<path d="M554.74 789.33L555.36 790.44L554.12 790.44Z" fill="#96d73f"/>
<path d="M551.27 782.36L551.89 783.47L550.65 783.47Z" fill="#96d73f"/>
<path d="M555.97 784.57L556.59 785.69L555.35 785.69Z" fill="#96d73f"/>
<path d="M552.64 783.95L553.26 785.06L552.02 785.06Z" fill="#96d73f"/>
<path d="M551.23 787.45L551.85 788.56L550.61 788.56Z" fill="#96d73f"/>
<path d="M551.61 788.48L552.23 789.59L550.99 789.59Z" fill="#96d73f"/>
<path d="M556.91 783.14L557.53 784.26L556.29 784.26Z" fill="#96d73f"/>
<path d="M552.53 790.17L553.15 791.29L551.91 791.29Z" fill="#96d73f"/>
<path d="M551.87 788.71L552.49 789.83L551.25 789.83Z" fill="#96d73f"/>
<path d="M550.57 784.39L551.19 785.51L549.95 785.51Z" fill="#96d73f"/>
<path d="M556.60 781.39L557.22 782.51L555.98 782.51Z" fill="#96d73f"/>
<path d="M550.42 791.27L551.04 792.38L549.80 792.38Z" fill="#96d73f"/>
<path d="M561.69 742.68L562.31 743.80L561.07 743.80Z" fill="#b9de28"/>
<path d="M566.07 748.88L566.69 750.00L565.45 750.00Z" fill="#b9de28"/>
<path d="M566.07 769.88L566.69 771.00L565.45 771.00Z" fill="#b9de28"/>
<path d="M568.82 778.08L569.44 779.20L568.20 779.20Z" fill="#b9de28"/>
<path d="M563.00 786.45L563.62 787.57L562.38 787.57Z" fill="#b9de28"/>
<path d="M569.47 790.71L570.09 791.82L568.85 791.82Z" fill="#b9de28"/>
<path d="M563.99 787.77L564.61 788.89L563.37 788.89Z" fill="#b9de28"/>
<path d="M566.13 787.02L566.75 788.13L565.51 788.13Z" fill="#b9de28"/>
<path d="M561.96 789.40L562.58 790.52L561.34 790.52Z" fill="#b9de28"/>
<path d="M569.02 786.54L569.64 787.65L568.40 787.65Z" fill="#b9de28"/>
<path d="M565.16 790.06L565.78 791.18L564.54 791.18Z" fill="#b9de28"/>
<path d="M562.01 781.28L562.63 782.40L561.39 782.40Z" fill="#b9de28"/>
<path d="M563.21 790.19L563.83 791.31L562.59 791.31Z" fill="#b9de28"/>
<path d="M566.16 789.99L566.78 791.10L565.54 791.10Z" fill="#b9de28"/>
<path d="M563.49 788.13L564.11 789.24L562.87 789.24Z" fill="#b9de28"/>
<path d="M568.69 789.03L569.31 790.14L568.07 790.14Z" fill="#b9de28"/>
<path d="M564.63 781.24L565.25 782.36L564.01 782.36Z" fill="#b9de28"/>
<path d="M569.58 789.72L570.20 790.83L568.96 790.83Z" fill="#b9de28"/>
<path d="M575.93 742.68L576.55 743.80L575.31 743.80Z" fill="#dbe326"/>
<path d="M578.35 769.88L578.97 771.00L577.73 771.00Z" fill="#dbe326"/>
<path d="M581.36 778.08L581.98 779.20L580.74 779.20Z" fill="#dbe326"/>
<path d="M579.61 782.18L580.23 783.30L578.99 783.30Z" fill="#dbe326"/>
<path d="M576.66 790.97L577.28 792.08L576.04 792.08Z" fill="#dbe326"/>
<path d="M577.33 786.49L577.95 787.61L576.71 787.61Z" fill="#dbe326"/>
<path d="M593.48 748.88L594.10 750.00L592.86 750.00Z" fill="#fde725"/>
<path d="M594.74 754.58L595.36 755.70L594.12 755.70Z" fill="#fde725"/>
<path d="M588.54 765.18L589.16 766.30L587.92 766.30Z" fill="#fde725"/>
<path d="M588.55 769.88L589.17 771.00L587.93 771.00Z" fill="#fde725"/>
<path d="M589.38 778.08L590.00 779.20L588.76 779.20Z" fill="#fde725"/>
<path d="M590.09 782.18L590.71 783.30L589.47 783.30Z" fill="#fde725"/>
<path d="M591.85 789.38L592.47 790.50L591.23 790.50Z" fill="#fde725"/>
<path d="M588.60 789.38L589.22 790.50L587.98 790.50Z" fill="#fde725"/>
<path d="M590.62 791.21L591.24 792.32L590.00 792.32Z" fill="#fde725"/>
<path d="M593.02 791.12L593.64 792.23L592.40 792.23Z" fill="#fde725"/>
<path d="M589.26 791.27L589.88 792.38L588.64 792.38Z" fill="#fde725"/>
<line x1="341.60" y1="744.2" x2="599.40" y2="744.2" stroke="#ee2a24" stroke-width="1.4" stroke-dasharray="4.1 3.4"/>
<text x="17.90" y="862.80" font-family='"Liberation Serif", serif' font-size="11.4" font-weight="bold" text-anchor="start" fill="#000"  >(G)</text>
<text x="149.40" y="872.00" font-family='"Liberation Serif", serif' font-size="8.95" font-weight="bold" text-anchor="middle" fill="#000" textLength="155.2" lengthAdjust="spacingAndGlyphs" >Chemical interactions for COBLL1 gene</text>
<line x1="118.40" y1="878.00" x2="118.40" y2="963.50" stroke="#dcdcdc" stroke-width="0.6" />
<line x1="153.00" y1="878.00" x2="153.00" y2="963.50" stroke="#dcdcdc" stroke-width="0.6" />
<line x1="187.60" y1="878.00" x2="187.60" y2="963.50" stroke="#dcdcdc" stroke-width="0.6" />
<line x1="222.20" y1="878.00" x2="222.20" y2="963.50" stroke="#dcdcdc" stroke-width="0.6" />
<line x1="256.80" y1="878.00" x2="256.80" y2="963.50" stroke="#dcdcdc" stroke-width="0.6" />
<rect x="118.40" y="880.05" width="138.40" height="5.10" fill="#eaa63a" />
<text x="113.20" y="884.72" font-family='"Liberation Sans", sans-serif' font-size="5.9" font-weight="normal" text-anchor="end" fill="#2c2c2c"  stroke="#2c2c2c" stroke-width="0.08" >Tetrachlorodibenzodioxin</text>
<rect x="118.40" y="888.55" width="96.88" height="5.10" fill="#eaa63a" />
<text x="113.20" y="893.22" font-family='"Liberation Sans", sans-serif' font-size="5.9" font-weight="normal" text-anchor="end" fill="#2c2c2c"  stroke="#2c2c2c" stroke-width="0.08" >bisphenol A</text>
<rect x="118.40" y="897.05" width="69.20" height="5.10" fill="#eaa63a" />
<text x="113.20" y="901.72" font-family='"Liberation Sans", sans-serif' font-size="5.9" font-weight="normal" text-anchor="end" fill="#2c2c2c"  stroke="#2c2c2c" stroke-width="0.08" >Valproic Acid</text>
<rect x="118.40" y="905.55" width="55.36" height="5.10" fill="#eaa63a" />
<text x="113.20" y="910.22" font-family='"Liberation Sans", sans-serif' font-size="5.9" font-weight="normal" text-anchor="end" fill="#2c2c2c"  stroke="#2c2c2c" stroke-width="0.08" >4-(5-benzo(1,3)dioxol-5-yl-4-pyr...</text>
<rect x="118.40" y="914.05" width="55.36" height="5.10" fill="#eaa63a" />
<text x="113.20" y="918.72" font-family='"Liberation Sans", sans-serif' font-size="5.9" font-weight="normal" text-anchor="end" fill="#2c2c2c"  stroke="#2c2c2c" stroke-width="0.08" >dorsomorphin</text>
<rect x="118.40" y="922.55" width="41.52" height="5.10" fill="#eaa63a" />
<text x="113.20" y="927.22" font-family='"Liberation Sans", sans-serif' font-size="5.9" font-weight="normal" text-anchor="end" fill="#2c2c2c"  stroke="#2c2c2c" stroke-width="0.08" >Atrazine</text>
<rect x="118.40" y="931.05" width="41.52" height="5.10" fill="#eaa63a" />
<text x="113.20" y="935.72" font-family='"Liberation Sans", sans-serif' font-size="5.9" font-weight="normal" text-anchor="end" fill="#2c2c2c"  stroke="#2c2c2c" stroke-width="0.08" >Benzo(a)pyrene</text>
<rect x="118.40" y="939.55" width="41.52" height="5.10" fill="#eaa63a" />
<text x="113.20" y="944.22" font-family='"Liberation Sans", sans-serif' font-size="5.9" font-weight="normal" text-anchor="end" fill="#2c2c2c"  stroke="#2c2c2c" stroke-width="0.08" >Carbon Tetrachloride</text>
<rect x="118.40" y="948.05" width="41.52" height="5.10" fill="#eaa63a" />
<text x="113.20" y="952.72" font-family='"Liberation Sans", sans-serif' font-size="5.9" font-weight="normal" text-anchor="end" fill="#2c2c2c"  stroke="#2c2c2c" stroke-width="0.08" >sodium arsenite</text>
<rect x="118.40" y="956.55" width="41.52" height="5.10" fill="#eaa63a" />
<text x="113.20" y="961.22" font-family='"Liberation Sans", sans-serif' font-size="5.9" font-weight="normal" text-anchor="end" fill="#2c2c2c"  stroke="#2c2c2c" stroke-width="0.08" >trichostatin A</text>
<line x1="118.40" y1="878.00" x2="118.40" y2="963.50" stroke="#555" stroke-width="0.7" />
<text x="118.40" y="971.00" font-family='"Liberation Sans", sans-serif' font-size="5.5" font-weight="normal" text-anchor="middle" fill="#444"  >0</text>
<text x="187.60" y="971.00" font-family='"Liberation Sans", sans-serif' font-size="5.5" font-weight="normal" text-anchor="middle" fill="#444"  >5</text>
<text x="187.60" y="979.20" font-family='"Liberation Sans", sans-serif' font-size="6.2" font-style="italic" text-anchor="middle" fill="#333" stroke="#333" stroke-width="0.06" textLength="31" lengthAdjust="spacingAndGlyphs">Interactions</text>
<text x="337.40" y="869.00" font-family='"Liberation Serif", serif' font-size="11.4" font-weight="bold" text-anchor="start" fill="#000"  >(H)</text>
<text x="470.90" y="873.40" font-family='"Liberation Serif", serif' font-size="8.95" font-weight="bold" text-anchor="middle" fill="#000" textLength="147.7" lengthAdjust="spacingAndGlyphs" >Chemical interactions for NRBP1 gene</text>
<line x1="438.50" y1="877.50" x2="438.50" y2="965.50" stroke="#dcdcdc" stroke-width="0.6" />
<line x1="448.80" y1="877.50" x2="448.80" y2="965.50" stroke="#dcdcdc" stroke-width="0.6" />
<line x1="459.10" y1="877.50" x2="459.10" y2="965.50" stroke="#dcdcdc" stroke-width="0.6" />
<line x1="469.40" y1="877.50" x2="469.40" y2="965.50" stroke="#dcdcdc" stroke-width="0.6" />
<line x1="479.70" y1="877.50" x2="479.70" y2="965.50" stroke="#dcdcdc" stroke-width="0.6" />
<line x1="490.00" y1="877.50" x2="490.00" y2="965.50" stroke="#dcdcdc" stroke-width="0.6" />
<line x1="500.30" y1="877.50" x2="500.30" y2="965.50" stroke="#dcdcdc" stroke-width="0.6" />
<line x1="510.60" y1="877.50" x2="510.60" y2="965.50" stroke="#dcdcdc" stroke-width="0.6" />
<line x1="520.90" y1="877.50" x2="520.90" y2="965.50" stroke="#dcdcdc" stroke-width="0.6" />
<line x1="531.20" y1="877.50" x2="531.20" y2="965.50" stroke="#dcdcdc" stroke-width="0.6" />
<line x1="541.50" y1="877.50" x2="541.50" y2="965.50" stroke="#dcdcdc" stroke-width="0.6" />
<line x1="551.80" y1="877.50" x2="551.80" y2="965.50" stroke="#dcdcdc" stroke-width="0.6" />
<line x1="562.10" y1="877.50" x2="562.10" y2="965.50" stroke="#dcdcdc" stroke-width="0.6" />
<line x1="572.40" y1="877.50" x2="572.40" y2="965.50" stroke="#dcdcdc" stroke-width="0.6" />
<line x1="582.70" y1="877.50" x2="582.70" y2="965.50" stroke="#dcdcdc" stroke-width="0.6" />
<rect x="438.50" y="880.00" width="144.20" height="5.40" fill="#eaa63a" />
<text x="433.00" y="884.90" font-family='"Liberation Sans", sans-serif' font-size="6.1" font-weight="normal" text-anchor="end" fill="#2c2c2c"  stroke="#2c2c2c" stroke-width="0.08" >bisphenol A</text>
<rect x="438.50" y="888.82" width="82.40" height="5.40" fill="#eaa63a" />
<text x="433.00" y="893.72" font-family='"Liberation Sans", sans-serif' font-size="6.1" font-weight="normal" text-anchor="end" fill="#2c2c2c"  stroke="#2c2c2c" stroke-width="0.08" >Ethinyl Estradiol</text>
<rect x="438.50" y="897.64" width="61.80" height="5.40" fill="#eaa63a" />
<text x="433.00" y="902.54" font-family='"Liberation Sans", sans-serif' font-size="6.1" font-weight="normal" text-anchor="end" fill="#2c2c2c"  stroke="#2c2c2c" stroke-width="0.08" >Tetrachlorodibenzodioxin</text>
<rect x="438.50" y="906.46" width="41.20" height="5.40" fill="#eaa63a" />
<text x="433.00" y="911.36" font-family='"Liberation Sans", sans-serif' font-size="6.1" font-weight="normal" text-anchor="end" fill="#2c2c2c"  stroke="#2c2c2c" stroke-width="0.08" >1,2-Dimethylhydrazine</text>
<rect x="438.50" y="915.28" width="41.20" height="5.40" fill="#eaa63a" />
<text x="433.00" y="920.18" font-family='"Liberation Sans", sans-serif' font-size="6.1" font-weight="normal" text-anchor="end" fill="#2c2c2c"  stroke="#2c2c2c" stroke-width="0.08" >Acetaminophen</text>
<rect x="438.50" y="924.10" width="41.20" height="5.40" fill="#eaa63a" />
<text x="433.00" y="929.00" font-family='"Liberation Sans", sans-serif' font-size="6.1" font-weight="normal" text-anchor="end" fill="#2c2c2c"  stroke="#2c2c2c" stroke-width="0.08" >bisphenol F</text>
<rect x="438.50" y="932.92" width="41.20" height="5.40" fill="#eaa63a" />
<text x="433.00" y="937.82" font-family='"Liberation Sans", sans-serif' font-size="6.1" font-weight="normal" text-anchor="end" fill="#2c2c2c"  stroke="#2c2c2c" stroke-width="0.08" >Folic Acid</text>
<rect x="438.50" y="941.74" width="41.20" height="5.40" fill="#eaa63a" />
<text x="433.00" y="946.64" font-family='"Liberation Sans", sans-serif' font-size="6.1" font-weight="normal" text-anchor="end" fill="#2c2c2c"  stroke="#2c2c2c" stroke-width="0.08" >Tobacco Smoke Pollution</text>
<rect x="438.50" y="950.56" width="20.60" height="5.40" fill="#eaa63a" />
<text x="433.00" y="955.46" font-family='"Liberation Sans", sans-serif' font-size="6.1" font-weight="normal" text-anchor="end" fill="#2c2c2c"  stroke="#2c2c2c" stroke-width="0.08" >4,4'-hexafluoroisopropylidene dip...</text>
<rect x="438.50" y="959.38" width="20.60" height="5.40" fill="#eaa63a" />
<text x="433.00" y="964.28" font-family='"Liberation Sans", sans-serif' font-size="6.1" font-weight="normal" text-anchor="end" fill="#2c2c2c"  stroke="#2c2c2c" stroke-width="0.08" >4-(5-benzo(1,3)dioxol-5-yl-4-pyr...</text>
<line x1="438.50" y1="877.50" x2="438.50" y2="965.50" stroke="#555" stroke-width="0.7" />
<text x="438.50" y="974.00" font-family='"Liberation Sans", sans-serif' font-size="5.5" font-weight="normal" text-anchor="middle" fill="#444"  >0</text>
<text x="459.10" y="974.00" font-family='"Liberation Sans", sans-serif' font-size="5.5" font-weight="normal" text-anchor="middle" fill="#444"  >1</text>
<text x="479.70" y="974.00" font-family='"Liberation Sans", sans-serif' font-size="5.5" font-weight="normal" text-anchor="middle" fill="#444"  >2</text>
<text x="500.30" y="974.00" font-family='"Liberation Sans", sans-serif' font-size="5.5" font-weight="normal" text-anchor="middle" fill="#444"  >3</text>
<text x="520.90" y="974.00" font-family='"Liberation Sans", sans-serif' font-size="5.5" font-weight="normal" text-anchor="middle" fill="#444"  >4</text>
<text x="541.50" y="974.00" font-family='"Liberation Sans", sans-serif' font-size="5.5" font-weight="normal" text-anchor="middle" fill="#444"  >5</text>
<text x="562.10" y="974.00" font-family='"Liberation Sans", sans-serif' font-size="5.5" font-weight="normal" text-anchor="middle" fill="#444"  >6</text>
<text x="17.10" y="990.20" font-family='"Liberation Serif", serif' font-size="11.4" font-weight="bold" text-anchor="start" fill="#000"  >(I)</text>
<text x="145.70" y="995.80" font-family='"Liberation Serif", serif' font-size="8.95" font-weight="bold" text-anchor="middle" fill="#000" textLength="146.8" lengthAdjust="spacingAndGlyphs" >Chemical interactions for IFT172 gene</text>
<line x1="109.00" y1="1000.00" x2="109.00" y2="1089.00" stroke="#dcdcdc" stroke-width="0.6" />
<line x1="119.27" y1="1000.00" x2="119.27" y2="1089.00" stroke="#dcdcdc" stroke-width="0.6" />
<line x1="129.53" y1="1000.00" x2="129.53" y2="1089.00" stroke="#dcdcdc" stroke-width="0.6" />
<line x1="139.80" y1="1000.00" x2="139.80" y2="1089.00" stroke="#dcdcdc" stroke-width="0.6" />
<line x1="150.06" y1="1000.00" x2="150.06" y2="1089.00" stroke="#dcdcdc" stroke-width="0.6" />
<line x1="160.32" y1="1000.00" x2="160.32" y2="1089.00" stroke="#dcdcdc" stroke-width="0.6" />
<line x1="170.59" y1="1000.00" x2="170.59" y2="1089.00" stroke="#dcdcdc" stroke-width="0.6" />
<line x1="180.86" y1="1000.00" x2="180.86" y2="1089.00" stroke="#dcdcdc" stroke-width="0.6" />
<line x1="191.12" y1="1000.00" x2="191.12" y2="1089.00" stroke="#dcdcdc" stroke-width="0.6" />
<line x1="201.38" y1="1000.00" x2="201.38" y2="1089.00" stroke="#dcdcdc" stroke-width="0.6" />
<line x1="211.65" y1="1000.00" x2="211.65" y2="1089.00" stroke="#dcdcdc" stroke-width="0.6" />
<line x1="221.92" y1="1000.00" x2="221.92" y2="1089.00" stroke="#dcdcdc" stroke-width="0.6" />
<line x1="232.18" y1="1000.00" x2="232.18" y2="1089.00" stroke="#dcdcdc" stroke-width="0.6" />
<line x1="242.44" y1="1000.00" x2="242.44" y2="1089.00" stroke="#dcdcdc" stroke-width="0.6" />
<line x1="252.71" y1="1000.00" x2="252.71" y2="1089.00" stroke="#dcdcdc" stroke-width="0.6" />
<rect x="109.00" y="1002.05" width="143.71" height="5.90" fill="#eaa63a" />
<text x="103.80" y="1007.23" font-family='"Liberation Sans", sans-serif' font-size="6.2" font-weight="normal" text-anchor="end" fill="#2c2c2c"  stroke="#2c2c2c" stroke-width="0.08" >bisphenol A</text>
<rect x="109.00" y="1010.86" width="61.59" height="5.90" fill="#eaa63a" />
<text x="103.80" y="1016.04" font-family='"Liberation Sans", sans-serif' font-size="6.2" font-weight="normal" text-anchor="end" fill="#2c2c2c"  stroke="#2c2c2c" stroke-width="0.08" >Benzo(a)pyrene</text>
<rect x="109.00" y="1019.67" width="61.59" height="5.90" fill="#eaa63a" />
<text x="103.80" y="1024.85" font-family='"Liberation Sans", sans-serif' font-size="6.2" font-weight="normal" text-anchor="end" fill="#2c2c2c"  stroke="#2c2c2c" stroke-width="0.08" >Cisplatin</text>
<rect x="109.00" y="1028.48" width="61.59" height="5.90" fill="#eaa63a" />
<text x="103.80" y="1033.66" font-family='"Liberation Sans", sans-serif' font-size="6.2" font-weight="normal" text-anchor="end" fill="#2c2c2c"  stroke="#2c2c2c" stroke-width="0.08" >Tretinoin</text>
<rect x="109.00" y="1037.29" width="41.06" height="5.90" fill="#eaa63a" />
<text x="103.80" y="1042.47" font-family='"Liberation Sans", sans-serif' font-size="6.2" font-weight="normal" text-anchor="end" fill="#2c2c2c"  stroke="#2c2c2c" stroke-width="0.08" >decamethrin</text>
<rect x="109.00" y="1046.10" width="41.06" height="5.90" fill="#eaa63a" />
<text x="103.80" y="1051.28" font-family='"Liberation Sans", sans-serif' font-size="6.2" font-weight="normal" text-anchor="end" fill="#2c2c2c"  stroke="#2c2c2c" stroke-width="0.08" >Ethinyl Estradiol</text>
<rect x="109.00" y="1054.91" width="41.06" height="5.90" fill="#eaa63a" />
<text x="103.80" y="1060.09" font-family='"Liberation Sans", sans-serif' font-size="6.2" font-weight="normal" text-anchor="end" fill="#2c2c2c"  stroke="#2c2c2c" stroke-width="0.08" >Lutein</text>
<rect x="109.00" y="1063.72" width="41.06" height="5.90" fill="#eaa63a" />
<text x="103.80" y="1068.90" font-family='"Liberation Sans", sans-serif' font-size="6.2" font-weight="normal" text-anchor="end" fill="#2c2c2c"  stroke="#2c2c2c" stroke-width="0.08" >methylmercuric chloride</text>
<rect x="109.00" y="1072.53" width="41.06" height="5.90" fill="#eaa63a" />
<text x="103.80" y="1077.71" font-family='"Liberation Sans", sans-serif' font-size="6.2" font-weight="normal" text-anchor="end" fill="#2c2c2c"  stroke="#2c2c2c" stroke-width="0.08" >Silver</text>
<rect x="109.00" y="1081.34" width="41.06" height="5.90" fill="#eaa63a" />
<text x="103.80" y="1086.52" font-family='"Liberation Sans", sans-serif' font-size="6.2" font-weight="normal" text-anchor="end" fill="#2c2c2c"  stroke="#2c2c2c" stroke-width="0.08" >sodium arsenite</text>
<line x1="109.00" y1="1000.00" x2="109.00" y2="1089.00" stroke="#555" stroke-width="0.7" />
<text x="109.00" y="1096.30" font-family='"Liberation Sans", sans-serif' font-size="5.5" font-weight="normal" text-anchor="middle" fill="#444"  >0</text>
<text x="129.53" y="1096.30" font-family='"Liberation Sans", sans-serif' font-size="5.5" font-weight="normal" text-anchor="middle" fill="#444"  >1</text>
<text x="150.06" y="1096.30" font-family='"Liberation Sans", sans-serif' font-size="5.5" font-weight="normal" text-anchor="middle" fill="#444"  >2</text>
<text x="170.59" y="1096.30" font-family='"Liberation Sans", sans-serif' font-size="5.5" font-weight="normal" text-anchor="middle" fill="#444"  >3</text>
<text x="191.12" y="1096.30" font-family='"Liberation Sans", sans-serif' font-size="5.5" font-weight="normal" text-anchor="middle" fill="#444"  >4</text>
<text x="211.65" y="1096.30" font-family='"Liberation Sans", sans-serif' font-size="5.5" font-weight="normal" text-anchor="middle" fill="#444"  >5</text>
<text x="232.18" y="1096.30" font-family='"Liberation Sans", sans-serif' font-size="5.5" font-weight="normal" text-anchor="middle" fill="#444"  >6</text>
<text x="181.30" y="1104.20" font-family='"Liberation Sans", sans-serif' font-size="6.2" font-style="italic" text-anchor="middle" fill="#333" stroke="#333" stroke-width="0.06" textLength="32" lengthAdjust="spacingAndGlyphs">Interactions</text>
<text x="337.40" y="989.40" font-family='"Liberation Serif", serif' font-size="11.4" font-weight="bold" text-anchor="start" fill="#000"  >(J)</text>
<text x="473.30" y="991.30" font-family='"Liberation Serif", serif' font-size="8.95" font-weight="bold" text-anchor="middle" fill="#000" textLength="152.6" lengthAdjust="spacingAndGlyphs" >Chemical interactions for TRIM54 gene</text>
<line x1="451.40" y1="999.50" x2="451.40" y2="1088.50" stroke="#dcdcdc" stroke-width="0.6" />
<line x1="469.30" y1="999.50" x2="469.30" y2="1088.50" stroke="#dcdcdc" stroke-width="0.6" />
<line x1="487.20" y1="999.50" x2="487.20" y2="1088.50" stroke="#dcdcdc" stroke-width="0.6" />
<line x1="505.10" y1="999.50" x2="505.10" y2="1088.50" stroke="#dcdcdc" stroke-width="0.6" />
<line x1="523.00" y1="999.50" x2="523.00" y2="1088.50" stroke="#dcdcdc" stroke-width="0.6" />
<line x1="540.90" y1="999.50" x2="540.90" y2="1088.50" stroke="#dcdcdc" stroke-width="0.6" />
<line x1="558.80" y1="999.50" x2="558.80" y2="1088.50" stroke="#dcdcdc" stroke-width="0.6" />
<line x1="576.70" y1="999.50" x2="576.70" y2="1088.50" stroke="#dcdcdc" stroke-width="0.6" />
<line x1="594.60" y1="999.50" x2="594.60" y2="1088.50" stroke="#dcdcdc" stroke-width="0.6" />
<rect x="451.40" y="1000.95" width="143.20" height="5.90" fill="#eaa63a" />
<text x="445.60" y="1006.10" font-family='"Liberation Sans", sans-serif' font-size="6.1" font-weight="normal" text-anchor="end" fill="#2c2c2c"  stroke="#2c2c2c" stroke-width="0.08" >Benzo(a)pyrene</text>
<rect x="451.40" y="1009.74" width="107.40" height="5.90" fill="#eaa63a" />
<text x="445.60" y="1014.89" font-family='"Liberation Sans", sans-serif' font-size="6.1" font-weight="normal" text-anchor="end" fill="#2c2c2c"  stroke="#2c2c2c" stroke-width="0.08" >Aflatoxin B1</text>
<rect x="451.40" y="1018.53" width="107.40" height="5.90" fill="#eaa63a" />
<text x="445.60" y="1023.68" font-family='"Liberation Sans", sans-serif' font-size="6.1" font-weight="normal" text-anchor="end" fill="#2c2c2c"  stroke="#2c2c2c" stroke-width="0.08" >bisphenol A</text>
<rect x="451.40" y="1027.32" width="107.40" height="5.90" fill="#eaa63a" />
<text x="445.60" y="1032.47" font-family='"Liberation Sans", sans-serif' font-size="6.1" font-weight="normal" text-anchor="end" fill="#2c2c2c"  stroke="#2c2c2c" stroke-width="0.08" >Tetrachlorodibenzodioxin</text>
<rect x="451.40" y="1036.11" width="107.40" height="5.90" fill="#eaa63a" />
<text x="445.60" y="1041.26" font-family='"Liberation Sans", sans-serif' font-size="6.1" font-weight="normal" text-anchor="end" fill="#2c2c2c"  stroke="#2c2c2c" stroke-width="0.08" >Valproic Acid</text>
<rect x="451.40" y="1044.90" width="71.60" height="5.90" fill="#eaa63a" />
<text x="445.60" y="1050.05" font-family='"Liberation Sans", sans-serif' font-size="6.1" font-weight="normal" text-anchor="end" fill="#2c2c2c"  stroke="#2c2c2c" stroke-width="0.08" >Acetaminophen</text>
<rect x="451.40" y="1053.69" width="71.60" height="5.90" fill="#eaa63a" />
<text x="445.60" y="1058.84" font-family='"Liberation Sans", sans-serif' font-size="6.1" font-weight="normal" text-anchor="end" fill="#2c2c2c"  stroke="#2c2c2c" stroke-width="0.08" >Estradiol</text>
<rect x="451.40" y="1062.48" width="71.60" height="5.90" fill="#eaa63a" />
<text x="445.60" y="1067.63" font-family='"Liberation Sans", sans-serif' font-size="6.1" font-weight="normal" text-anchor="end" fill="#2c2c2c"  stroke="#2c2c2c" stroke-width="0.08" >perfluorooctanoic acid</text>
<rect x="451.40" y="1071.27" width="71.60" height="5.90" fill="#eaa63a" />
<text x="445.60" y="1076.42" font-family='"Liberation Sans", sans-serif' font-size="6.1" font-weight="normal" text-anchor="end" fill="#2c2c2c"  stroke="#2c2c2c" stroke-width="0.08" >T-2 Toxin</text>
<rect x="451.40" y="1080.06" width="71.60" height="5.90" fill="#eaa63a" />
<text x="445.60" y="1085.21" font-family='"Liberation Sans", sans-serif' font-size="6.1" font-weight="normal" text-anchor="end" fill="#2c2c2c"  stroke="#2c2c2c" stroke-width="0.08" >Trichloroethylene</text>
<line x1="451.40" y1="999.50" x2="451.40" y2="1088.50" stroke="#555" stroke-width="0.7" />
<text x="451.40" y="1095.40" font-family='"Liberation Sans", sans-serif' font-size="5.5" font-weight="normal" text-anchor="middle" fill="#444"  >0</text>
<text x="487.20" y="1095.40" font-family='"Liberation Sans", sans-serif' font-size="5.5" font-weight="normal" text-anchor="middle" fill="#444"  >1</text>
<text x="523.00" y="1095.40" font-family='"Liberation Sans", sans-serif' font-size="5.5" font-weight="normal" text-anchor="middle" fill="#444"  >2</text>
<text x="558.80" y="1095.40" font-family='"Liberation Sans", sans-serif' font-size="5.5" font-weight="normal" text-anchor="middle" fill="#444"  >3</text>
<text x="523.00" y="1103.60" font-family='"Liberation Sans", sans-serif' font-size="6.2" font-style="italic" text-anchor="middle" fill="#333" stroke="#333" stroke-width="0.06" textLength="32" lengthAdjust="spacingAndGlyphs">Interactions</text>
</svg>
</body></html>
